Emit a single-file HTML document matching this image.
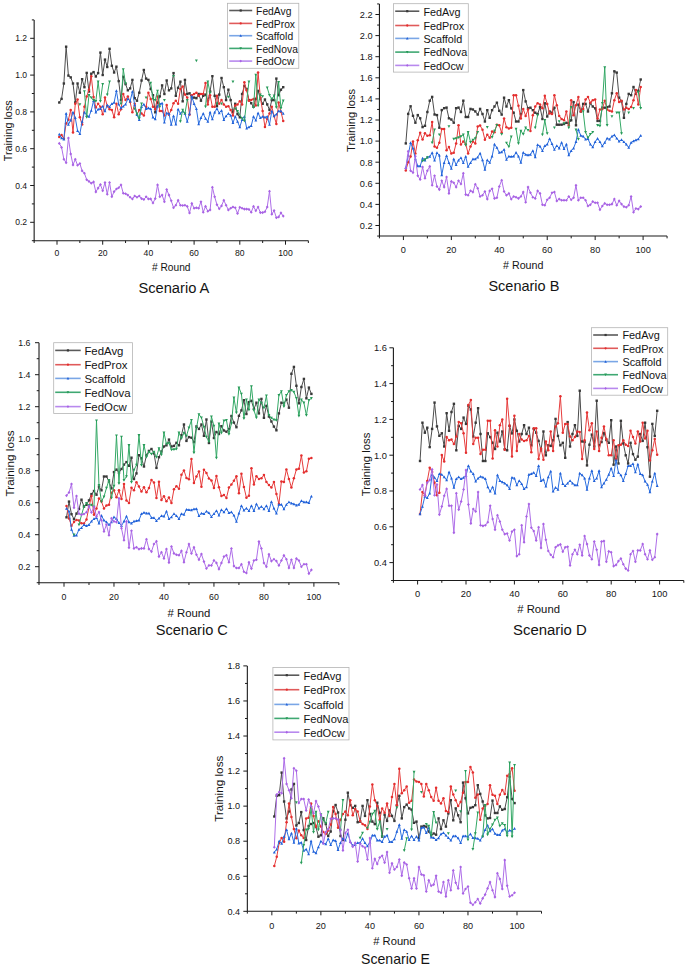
<!DOCTYPE html>
<html><head><meta charset="utf-8"><title>Training loss</title>
<style>html,body{margin:0;padding:0;background:#fff;}svg{display:block;}.bl{filter:blur(0.35px);}text{font-family:"Liberation Sans", sans-serif;fill:#141414;}</style>
</head><body>
<svg width="685" height="965" viewBox="0 0 685 965">
<rect width="685" height="965" fill="#fff"/>
<g id="pA">
<g class="bl">
<polyline points="59.28,102.5 61.57,98.9 63.86,83.5 66.14,46.7 68.42,75.6 70.71,77.4 73,83.5 75.28,102.5 77.56,83.5 79.85,92.7 82.14,79.2 84.42,87.2 86.7,72.9 88.99,91.5 91.28,73.7 93.56,72.1 95.84,76.5 98.13,73.1 100.42,52.6 102.7,75 104.98,59.6 107.27,67 109.56,48.8 111.84,65.8 114.12,72.5 116.41,66.7 118.7,81.1 120.98,100.1 123.27,76.8 125.55,84.1 127.84,90.3 130.12,88.4 132.41,79.9 134.69,98.2 136.98,100.7 139.26,92.7 141.55,80.5 143.83,70 146.12,78.6 148.4,79.9 150.69,89 152.97,95.2 155.25,112.3 157.54,102.5 159.82,96.4 162.11,85.4 164.4,94 166.68,80.5 168.97,90.3 171.25,88.4 173.54,73.1 175.82,95.8 178.11,87.8 180.39,81.7 182.68,101.3 184.96,79.9 187.25,94 189.53,93.3 191.81,98.2 194.1,97.6 196.39,98.2 198.67,94 200.96,100.7 203.24,95.8 205.53,94.6 207.81,101.3 210.09,91.5 212.38,76.2 214.67,95.8 216.95,106.2 219.24,94.6 221.52,78 223.81,87.2 226.09,100.1 228.38,89.7 230.66,100.1 232.95,112.3 235.23,103.8 237.52,114.2 239.8,117.3 242.09,94 244.37,86 246.66,89 248.94,100.1 251.23,103.2 253.51,106.8 255.8,98.9 258.08,90.9 260.37,98.9 262.65,103.8 264.94,99.5 267.22,104.4 269.5,109.9 271.79,100.1 274.08,100.1 276.36,78.6 278.64,95.2 280.93,89.7 283.22,87.2" fill="none" stroke="#4c4c4c" stroke-width="1.0" stroke-linejoin="round"/>
<rect x="58.08" y="101.3" width="2.4" height="2.4" fill="#383838"/>
<rect x="60.37" y="97.7" width="2.4" height="2.4" fill="#383838"/>
<rect x="62.66" y="82.3" width="2.4" height="2.4" fill="#383838"/>
<rect x="64.94" y="45.5" width="2.4" height="2.4" fill="#383838"/>
<rect x="67.22" y="74.4" width="2.4" height="2.4" fill="#383838"/>
<rect x="69.51" y="76.2" width="2.4" height="2.4" fill="#383838"/>
<rect x="71.8" y="82.3" width="2.4" height="2.4" fill="#383838"/>
<rect x="74.08" y="101.3" width="2.4" height="2.4" fill="#383838"/>
<rect x="76.36" y="82.3" width="2.4" height="2.4" fill="#383838"/>
<rect x="78.65" y="91.5" width="2.4" height="2.4" fill="#383838"/>
<rect x="80.94" y="78" width="2.4" height="2.4" fill="#383838"/>
<rect x="83.22" y="86" width="2.4" height="2.4" fill="#383838"/>
<rect x="85.5" y="71.7" width="2.4" height="2.4" fill="#383838"/>
<rect x="87.79" y="90.3" width="2.4" height="2.4" fill="#383838"/>
<rect x="90.08" y="72.5" width="2.4" height="2.4" fill="#383838"/>
<rect x="92.36" y="70.9" width="2.4" height="2.4" fill="#383838"/>
<rect x="94.64" y="75.3" width="2.4" height="2.4" fill="#383838"/>
<rect x="96.93" y="71.9" width="2.4" height="2.4" fill="#383838"/>
<rect x="99.22" y="51.4" width="2.4" height="2.4" fill="#383838"/>
<rect x="101.5" y="73.8" width="2.4" height="2.4" fill="#383838"/>
<rect x="103.78" y="58.4" width="2.4" height="2.4" fill="#383838"/>
<rect x="106.07" y="65.8" width="2.4" height="2.4" fill="#383838"/>
<rect x="108.36" y="47.6" width="2.4" height="2.4" fill="#383838"/>
<rect x="110.64" y="64.6" width="2.4" height="2.4" fill="#383838"/>
<rect x="112.92" y="71.3" width="2.4" height="2.4" fill="#383838"/>
<rect x="115.21" y="65.5" width="2.4" height="2.4" fill="#383838"/>
<rect x="117.5" y="79.9" width="2.4" height="2.4" fill="#383838"/>
<rect x="119.78" y="98.9" width="2.4" height="2.4" fill="#383838"/>
<rect x="122.06" y="75.6" width="2.4" height="2.4" fill="#383838"/>
<rect x="124.35" y="82.9" width="2.4" height="2.4" fill="#383838"/>
<rect x="126.64" y="89.1" width="2.4" height="2.4" fill="#383838"/>
<rect x="128.92" y="87.2" width="2.4" height="2.4" fill="#383838"/>
<rect x="131.21" y="78.7" width="2.4" height="2.4" fill="#383838"/>
<rect x="133.49" y="97" width="2.4" height="2.4" fill="#383838"/>
<rect x="135.78" y="99.5" width="2.4" height="2.4" fill="#383838"/>
<rect x="138.06" y="91.5" width="2.4" height="2.4" fill="#383838"/>
<rect x="140.35" y="79.3" width="2.4" height="2.4" fill="#383838"/>
<rect x="142.63" y="68.8" width="2.4" height="2.4" fill="#383838"/>
<rect x="144.92" y="77.4" width="2.4" height="2.4" fill="#383838"/>
<rect x="147.2" y="78.7" width="2.4" height="2.4" fill="#383838"/>
<rect x="149.49" y="87.8" width="2.4" height="2.4" fill="#383838"/>
<rect x="151.77" y="94" width="2.4" height="2.4" fill="#383838"/>
<rect x="154.06" y="111.1" width="2.4" height="2.4" fill="#383838"/>
<rect x="156.34" y="101.3" width="2.4" height="2.4" fill="#383838"/>
<rect x="158.62" y="95.2" width="2.4" height="2.4" fill="#383838"/>
<rect x="160.91" y="84.2" width="2.4" height="2.4" fill="#383838"/>
<rect x="163.2" y="92.8" width="2.4" height="2.4" fill="#383838"/>
<rect x="165.48" y="79.3" width="2.4" height="2.4" fill="#383838"/>
<rect x="167.77" y="89.1" width="2.4" height="2.4" fill="#383838"/>
<rect x="170.05" y="87.2" width="2.4" height="2.4" fill="#383838"/>
<rect x="172.34" y="71.9" width="2.4" height="2.4" fill="#383838"/>
<rect x="174.62" y="94.6" width="2.4" height="2.4" fill="#383838"/>
<rect x="176.91" y="86.6" width="2.4" height="2.4" fill="#383838"/>
<rect x="179.19" y="80.5" width="2.4" height="2.4" fill="#383838"/>
<rect x="181.48" y="100.1" width="2.4" height="2.4" fill="#383838"/>
<rect x="183.76" y="78.7" width="2.4" height="2.4" fill="#383838"/>
<rect x="186.05" y="92.8" width="2.4" height="2.4" fill="#383838"/>
<rect x="188.33" y="92.1" width="2.4" height="2.4" fill="#383838"/>
<rect x="190.62" y="97" width="2.4" height="2.4" fill="#383838"/>
<rect x="192.9" y="96.4" width="2.4" height="2.4" fill="#383838"/>
<rect x="195.19" y="97" width="2.4" height="2.4" fill="#383838"/>
<rect x="197.47" y="92.8" width="2.4" height="2.4" fill="#383838"/>
<rect x="199.76" y="99.5" width="2.4" height="2.4" fill="#383838"/>
<rect x="202.04" y="94.6" width="2.4" height="2.4" fill="#383838"/>
<rect x="204.33" y="93.4" width="2.4" height="2.4" fill="#383838"/>
<rect x="206.61" y="100.1" width="2.4" height="2.4" fill="#383838"/>
<rect x="208.9" y="90.3" width="2.4" height="2.4" fill="#383838"/>
<rect x="211.18" y="75" width="2.4" height="2.4" fill="#383838"/>
<rect x="213.47" y="94.6" width="2.4" height="2.4" fill="#383838"/>
<rect x="215.75" y="105" width="2.4" height="2.4" fill="#383838"/>
<rect x="218.04" y="93.4" width="2.4" height="2.4" fill="#383838"/>
<rect x="220.32" y="76.8" width="2.4" height="2.4" fill="#383838"/>
<rect x="222.61" y="86" width="2.4" height="2.4" fill="#383838"/>
<rect x="224.89" y="98.9" width="2.4" height="2.4" fill="#383838"/>
<rect x="227.18" y="88.5" width="2.4" height="2.4" fill="#383838"/>
<rect x="229.46" y="98.9" width="2.4" height="2.4" fill="#383838"/>
<rect x="231.75" y="111.1" width="2.4" height="2.4" fill="#383838"/>
<rect x="234.03" y="102.6" width="2.4" height="2.4" fill="#383838"/>
<rect x="236.32" y="113" width="2.4" height="2.4" fill="#383838"/>
<rect x="238.6" y="116.1" width="2.4" height="2.4" fill="#383838"/>
<rect x="240.89" y="92.8" width="2.4" height="2.4" fill="#383838"/>
<rect x="243.17" y="84.8" width="2.4" height="2.4" fill="#383838"/>
<rect x="245.46" y="87.8" width="2.4" height="2.4" fill="#383838"/>
<rect x="247.74" y="98.9" width="2.4" height="2.4" fill="#383838"/>
<rect x="250.03" y="102" width="2.4" height="2.4" fill="#383838"/>
<rect x="252.31" y="105.6" width="2.4" height="2.4" fill="#383838"/>
<rect x="254.6" y="97.7" width="2.4" height="2.4" fill="#383838"/>
<rect x="256.88" y="89.7" width="2.4" height="2.4" fill="#383838"/>
<rect x="259.17" y="97.7" width="2.4" height="2.4" fill="#383838"/>
<rect x="261.45" y="102.6" width="2.4" height="2.4" fill="#383838"/>
<rect x="263.74" y="98.3" width="2.4" height="2.4" fill="#383838"/>
<rect x="266.02" y="103.2" width="2.4" height="2.4" fill="#383838"/>
<rect x="268.31" y="108.7" width="2.4" height="2.4" fill="#383838"/>
<rect x="270.59" y="98.9" width="2.4" height="2.4" fill="#383838"/>
<rect x="272.88" y="98.9" width="2.4" height="2.4" fill="#383838"/>
<rect x="275.16" y="77.4" width="2.4" height="2.4" fill="#383838"/>
<rect x="277.44" y="94" width="2.4" height="2.4" fill="#383838"/>
<rect x="279.73" y="88.5" width="2.4" height="2.4" fill="#383838"/>
<rect x="282.02" y="86" width="2.4" height="2.4" fill="#383838"/>
<polyline points="59.28,136.9 61.57,135 63.86,138.7 66.14,123.4 68.42,119.7 70.71,109.9 73,132.6 75.28,103.8 77.56,99.5 79.85,117.3 82.14,124.6 84.42,106.8 86.7,96.4 88.99,89.7 91.28,76.2 93.56,97 95.84,107.4 98.13,103.8 100.42,106.8 102.7,114.2 104.98,97.6 107.27,106.2 109.56,109.3 111.84,109.9 114.12,117.3 116.41,103.8 118.7,114.2 120.98,109.3 123.27,94 125.55,100.1 127.84,96.4 130.12,101.9 132.41,112.3 134.69,103.8 136.98,114.8 139.26,109.9 141.55,113.6 143.83,115.4 146.12,106.8 148.4,92.7 150.69,98.9 152.97,106.8 155.25,109.3 157.54,96.4 159.82,111.1 162.11,111.1 164.4,115.4 166.68,105 168.97,114.8 171.25,109.9 173.54,103.2 175.82,100.7 178.11,103.8 180.39,89 182.68,86.6 184.96,94.6 187.25,97.6 189.53,114.8 191.81,95.2 194.1,94 196.39,92.7 198.67,95.8 200.96,94 203.24,94 205.53,82.9 207.81,104.4 210.09,95.2 212.38,106.8 214.67,106.8 216.95,95.8 219.24,103.8 221.52,100.1 223.81,104.4 226.09,106.8 228.38,106.2 230.66,109.9 232.95,115.4 235.23,105.6 237.52,104.4 239.8,101.3 242.09,104.4 244.37,82.3 246.66,90.3 248.94,100.7 251.23,100.1 253.51,98.9 255.8,105.6 258.08,72.5 260.37,97.6 262.65,111.1 264.94,127.1 267.22,119.1 269.5,113.6 271.79,106.8 274.08,116 276.36,124 278.64,102.5 280.93,111.7 283.22,120.9" fill="none" stroke="#e63c3c" stroke-width="1.0" stroke-linejoin="round"/>
<circle cx="59.28" cy="136.9" r="1.26" fill="#e42e2e"/>
<circle cx="61.57" cy="135" r="1.26" fill="#e42e2e"/>
<circle cx="63.86" cy="138.7" r="1.26" fill="#e42e2e"/>
<circle cx="66.14" cy="123.4" r="1.26" fill="#e42e2e"/>
<circle cx="68.42" cy="119.7" r="1.26" fill="#e42e2e"/>
<circle cx="70.71" cy="109.9" r="1.26" fill="#e42e2e"/>
<circle cx="73" cy="132.6" r="1.26" fill="#e42e2e"/>
<circle cx="75.28" cy="103.8" r="1.26" fill="#e42e2e"/>
<circle cx="77.56" cy="99.5" r="1.26" fill="#e42e2e"/>
<circle cx="79.85" cy="117.3" r="1.26" fill="#e42e2e"/>
<circle cx="82.14" cy="124.6" r="1.26" fill="#e42e2e"/>
<circle cx="84.42" cy="106.8" r="1.26" fill="#e42e2e"/>
<circle cx="86.7" cy="96.4" r="1.26" fill="#e42e2e"/>
<circle cx="88.99" cy="89.7" r="1.26" fill="#e42e2e"/>
<circle cx="91.28" cy="76.2" r="1.26" fill="#e42e2e"/>
<circle cx="93.56" cy="97" r="1.26" fill="#e42e2e"/>
<circle cx="95.84" cy="107.4" r="1.26" fill="#e42e2e"/>
<circle cx="98.13" cy="103.8" r="1.26" fill="#e42e2e"/>
<circle cx="100.42" cy="106.8" r="1.26" fill="#e42e2e"/>
<circle cx="102.7" cy="114.2" r="1.26" fill="#e42e2e"/>
<circle cx="104.98" cy="97.6" r="1.26" fill="#e42e2e"/>
<circle cx="107.27" cy="106.2" r="1.26" fill="#e42e2e"/>
<circle cx="109.56" cy="109.3" r="1.26" fill="#e42e2e"/>
<circle cx="111.84" cy="109.9" r="1.26" fill="#e42e2e"/>
<circle cx="114.12" cy="117.3" r="1.26" fill="#e42e2e"/>
<circle cx="116.41" cy="103.8" r="1.26" fill="#e42e2e"/>
<circle cx="118.7" cy="114.2" r="1.26" fill="#e42e2e"/>
<circle cx="120.98" cy="109.3" r="1.26" fill="#e42e2e"/>
<circle cx="123.27" cy="94" r="1.26" fill="#e42e2e"/>
<circle cx="125.55" cy="100.1" r="1.26" fill="#e42e2e"/>
<circle cx="127.84" cy="96.4" r="1.26" fill="#e42e2e"/>
<circle cx="130.12" cy="101.9" r="1.26" fill="#e42e2e"/>
<circle cx="132.41" cy="112.3" r="1.26" fill="#e42e2e"/>
<circle cx="134.69" cy="103.8" r="1.26" fill="#e42e2e"/>
<circle cx="136.98" cy="114.8" r="1.26" fill="#e42e2e"/>
<circle cx="139.26" cy="109.9" r="1.26" fill="#e42e2e"/>
<circle cx="141.55" cy="113.6" r="1.26" fill="#e42e2e"/>
<circle cx="143.83" cy="115.4" r="1.26" fill="#e42e2e"/>
<circle cx="146.12" cy="106.8" r="1.26" fill="#e42e2e"/>
<circle cx="148.4" cy="92.7" r="1.26" fill="#e42e2e"/>
<circle cx="150.69" cy="98.9" r="1.26" fill="#e42e2e"/>
<circle cx="152.97" cy="106.8" r="1.26" fill="#e42e2e"/>
<circle cx="155.25" cy="109.3" r="1.26" fill="#e42e2e"/>
<circle cx="157.54" cy="96.4" r="1.26" fill="#e42e2e"/>
<circle cx="159.82" cy="111.1" r="1.26" fill="#e42e2e"/>
<circle cx="162.11" cy="111.1" r="1.26" fill="#e42e2e"/>
<circle cx="164.4" cy="115.4" r="1.26" fill="#e42e2e"/>
<circle cx="166.68" cy="105" r="1.26" fill="#e42e2e"/>
<circle cx="168.97" cy="114.8" r="1.26" fill="#e42e2e"/>
<circle cx="171.25" cy="109.9" r="1.26" fill="#e42e2e"/>
<circle cx="173.54" cy="103.2" r="1.26" fill="#e42e2e"/>
<circle cx="175.82" cy="100.7" r="1.26" fill="#e42e2e"/>
<circle cx="178.11" cy="103.8" r="1.26" fill="#e42e2e"/>
<circle cx="180.39" cy="89" r="1.26" fill="#e42e2e"/>
<circle cx="182.68" cy="86.6" r="1.26" fill="#e42e2e"/>
<circle cx="184.96" cy="94.6" r="1.26" fill="#e42e2e"/>
<circle cx="187.25" cy="97.6" r="1.26" fill="#e42e2e"/>
<circle cx="189.53" cy="114.8" r="1.26" fill="#e42e2e"/>
<circle cx="191.81" cy="95.2" r="1.26" fill="#e42e2e"/>
<circle cx="194.1" cy="94" r="1.26" fill="#e42e2e"/>
<circle cx="196.39" cy="92.7" r="1.26" fill="#e42e2e"/>
<circle cx="198.67" cy="95.8" r="1.26" fill="#e42e2e"/>
<circle cx="200.96" cy="94" r="1.26" fill="#e42e2e"/>
<circle cx="203.24" cy="94" r="1.26" fill="#e42e2e"/>
<circle cx="205.53" cy="82.9" r="1.26" fill="#e42e2e"/>
<circle cx="207.81" cy="104.4" r="1.26" fill="#e42e2e"/>
<circle cx="210.09" cy="95.2" r="1.26" fill="#e42e2e"/>
<circle cx="212.38" cy="106.8" r="1.26" fill="#e42e2e"/>
<circle cx="214.67" cy="106.8" r="1.26" fill="#e42e2e"/>
<circle cx="216.95" cy="95.8" r="1.26" fill="#e42e2e"/>
<circle cx="219.24" cy="103.8" r="1.26" fill="#e42e2e"/>
<circle cx="221.52" cy="100.1" r="1.26" fill="#e42e2e"/>
<circle cx="223.81" cy="104.4" r="1.26" fill="#e42e2e"/>
<circle cx="226.09" cy="106.8" r="1.26" fill="#e42e2e"/>
<circle cx="228.38" cy="106.2" r="1.26" fill="#e42e2e"/>
<circle cx="230.66" cy="109.9" r="1.26" fill="#e42e2e"/>
<circle cx="232.95" cy="115.4" r="1.26" fill="#e42e2e"/>
<circle cx="235.23" cy="105.6" r="1.26" fill="#e42e2e"/>
<circle cx="237.52" cy="104.4" r="1.26" fill="#e42e2e"/>
<circle cx="239.8" cy="101.3" r="1.26" fill="#e42e2e"/>
<circle cx="242.09" cy="104.4" r="1.26" fill="#e42e2e"/>
<circle cx="244.37" cy="82.3" r="1.26" fill="#e42e2e"/>
<circle cx="246.66" cy="90.3" r="1.26" fill="#e42e2e"/>
<circle cx="248.94" cy="100.7" r="1.26" fill="#e42e2e"/>
<circle cx="251.23" cy="100.1" r="1.26" fill="#e42e2e"/>
<circle cx="253.51" cy="98.9" r="1.26" fill="#e42e2e"/>
<circle cx="255.8" cy="105.6" r="1.26" fill="#e42e2e"/>
<circle cx="258.08" cy="72.5" r="1.26" fill="#e42e2e"/>
<circle cx="260.37" cy="97.6" r="1.26" fill="#e42e2e"/>
<circle cx="262.65" cy="111.1" r="1.26" fill="#e42e2e"/>
<circle cx="264.94" cy="127.1" r="1.26" fill="#e42e2e"/>
<circle cx="267.22" cy="119.1" r="1.26" fill="#e42e2e"/>
<circle cx="269.5" cy="113.6" r="1.26" fill="#e42e2e"/>
<circle cx="271.79" cy="106.8" r="1.26" fill="#e42e2e"/>
<circle cx="274.08" cy="116" r="1.26" fill="#e42e2e"/>
<circle cx="276.36" cy="124" r="1.26" fill="#e42e2e"/>
<circle cx="278.64" cy="102.5" r="1.26" fill="#e42e2e"/>
<circle cx="280.93" cy="111.7" r="1.26" fill="#e42e2e"/>
<circle cx="283.22" cy="120.9" r="1.26" fill="#e42e2e"/>
<polyline points="59.28,134.4 61.57,138.1 63.86,139.3 66.14,113.6 68.42,124.6 70.71,120.3 73,112.3 75.28,117.9 77.56,130.7 79.85,133.8 82.14,121.5 84.42,112.3 86.7,115.4 88.99,116.6 91.28,110.5 93.56,100.7 95.84,112.3 98.13,109.3 100.42,108.7 102.7,106.2 104.98,111.1 107.27,105 109.56,106.8 111.84,103.8 114.12,102.5 116.41,90.9 118.7,104.4 120.98,108.1 123.27,106.2 125.55,104.4 127.84,98.9 130.12,101.3 132.41,91.5 134.69,105 136.98,114.8 139.26,119.7 141.55,106.8 143.83,104.4 146.12,108.7 148.4,108.1 150.69,108.7 152.97,117.3 155.25,119.1 157.54,106.2 159.82,103.8 162.11,103.2 164.4,122.2 166.68,113 168.97,113.6 171.25,124.6 173.54,116 175.82,124.4 178.11,109.3 180.39,113.6 182.68,111.1 184.96,113.6 187.25,121.5 189.53,113.6 191.81,96.4 194.1,103.8 196.39,108.7 198.67,124 200.96,117.9 203.24,113.6 205.53,118.5 207.81,121.5 210.09,112.3 212.38,119.1 214.67,112.3 216.95,108.7 219.24,113 221.52,110.5 223.81,119.7 226.09,116 228.38,113.6 230.66,115.4 232.95,122.8 235.23,116.6 237.52,121.5 239.8,127.1 242.09,119.7 244.37,116.6 246.66,128.3 248.94,127.1 251.23,125.8 253.51,116.6 255.8,120.3 258.08,113 260.37,117.9 262.65,116.6 264.94,117.3 267.22,116.6 269.5,124.6 271.79,111.1 274.08,116 276.36,114.2 278.64,111.1 280.93,111.1 283.22,113.6" fill="none" stroke="#2b6fe0" stroke-width="1.0" stroke-linejoin="round"/>
<path d="M59.28 132.84L60.72 135.6L57.84 135.6Z" fill="#2060d8"/>
<path d="M61.57 136.54L63.01 139.3L60.13 139.3Z" fill="#2060d8"/>
<path d="M63.86 137.74L65.3 140.5L62.42 140.5Z" fill="#2060d8"/>
<path d="M66.14 112.04L67.58 114.8L64.7 114.8Z" fill="#2060d8"/>
<path d="M68.42 123.04L69.86 125.8L66.98 125.8Z" fill="#2060d8"/>
<path d="M70.71 118.74L72.15 121.5L69.27 121.5Z" fill="#2060d8"/>
<path d="M73 110.74L74.44 113.5L71.56 113.5Z" fill="#2060d8"/>
<path d="M75.28 116.34L76.72 119.1L73.84 119.1Z" fill="#2060d8"/>
<path d="M77.56 129.14L79 131.9L76.12 131.9Z" fill="#2060d8"/>
<path d="M79.85 132.24L81.29 135L78.41 135Z" fill="#2060d8"/>
<path d="M82.14 119.94L83.58 122.7L80.7 122.7Z" fill="#2060d8"/>
<path d="M84.42 110.74L85.86 113.5L82.98 113.5Z" fill="#2060d8"/>
<path d="M86.7 113.84L88.14 116.6L85.27 116.6Z" fill="#2060d8"/>
<path d="M88.99 115.04L90.43 117.8L87.55 117.8Z" fill="#2060d8"/>
<path d="M91.28 108.94L92.72 111.7L89.84 111.7Z" fill="#2060d8"/>
<path d="M93.56 99.14L95 101.9L92.12 101.9Z" fill="#2060d8"/>
<path d="M95.84 110.74L97.28 113.5L94.41 113.5Z" fill="#2060d8"/>
<path d="M98.13 107.74L99.57 110.5L96.69 110.5Z" fill="#2060d8"/>
<path d="M100.42 107.14L101.86 109.9L98.98 109.9Z" fill="#2060d8"/>
<path d="M102.7 104.64L104.14 107.4L101.26 107.4Z" fill="#2060d8"/>
<path d="M104.98 109.54L106.42 112.3L103.55 112.3Z" fill="#2060d8"/>
<path d="M107.27 103.44L108.71 106.2L105.83 106.2Z" fill="#2060d8"/>
<path d="M109.56 105.24L111 108L108.12 108Z" fill="#2060d8"/>
<path d="M111.84 102.24L113.28 105L110.4 105Z" fill="#2060d8"/>
<path d="M114.12 100.94L115.56 103.7L112.69 103.7Z" fill="#2060d8"/>
<path d="M116.41 89.34L117.85 92.1L114.97 92.1Z" fill="#2060d8"/>
<path d="M118.7 102.84L120.14 105.6L117.26 105.6Z" fill="#2060d8"/>
<path d="M120.98 106.54L122.42 109.3L119.54 109.3Z" fill="#2060d8"/>
<path d="M123.27 104.64L124.7 107.4L121.83 107.4Z" fill="#2060d8"/>
<path d="M125.55 102.84L126.99 105.6L124.11 105.6Z" fill="#2060d8"/>
<path d="M127.84 97.34L129.28 100.1L126.4 100.1Z" fill="#2060d8"/>
<path d="M130.12 99.74L131.56 102.5L128.68 102.5Z" fill="#2060d8"/>
<path d="M132.41 89.94L133.84 92.7L130.97 92.7Z" fill="#2060d8"/>
<path d="M134.69 103.44L136.13 106.2L133.25 106.2Z" fill="#2060d8"/>
<path d="M136.98 113.24L138.42 116L135.54 116Z" fill="#2060d8"/>
<path d="M139.26 118.14L140.7 120.9L137.82 120.9Z" fill="#2060d8"/>
<path d="M141.55 105.24L142.99 108L140.11 108Z" fill="#2060d8"/>
<path d="M143.83 102.84L145.27 105.6L142.39 105.6Z" fill="#2060d8"/>
<path d="M146.12 107.14L147.56 109.9L144.68 109.9Z" fill="#2060d8"/>
<path d="M148.4 106.54L149.84 109.3L146.96 109.3Z" fill="#2060d8"/>
<path d="M150.69 107.14L152.12 109.9L149.25 109.9Z" fill="#2060d8"/>
<path d="M152.97 115.74L154.41 118.5L151.53 118.5Z" fill="#2060d8"/>
<path d="M155.25 117.54L156.69 120.3L153.81 120.3Z" fill="#2060d8"/>
<path d="M157.54 104.64L158.98 107.4L156.1 107.4Z" fill="#2060d8"/>
<path d="M159.82 102.24L161.26 105L158.38 105Z" fill="#2060d8"/>
<path d="M162.11 101.64L163.55 104.4L160.67 104.4Z" fill="#2060d8"/>
<path d="M164.4 120.64L165.84 123.4L162.96 123.4Z" fill="#2060d8"/>
<path d="M166.68 111.44L168.12 114.2L165.24 114.2Z" fill="#2060d8"/>
<path d="M168.97 112.04L170.41 114.8L167.53 114.8Z" fill="#2060d8"/>
<path d="M171.25 123.04L172.69 125.8L169.81 125.8Z" fill="#2060d8"/>
<path d="M173.54 114.44L174.98 117.2L172.1 117.2Z" fill="#2060d8"/>
<path d="M175.82 122.84L177.26 125.6L174.38 125.6Z" fill="#2060d8"/>
<path d="M178.11 107.74L179.55 110.5L176.67 110.5Z" fill="#2060d8"/>
<path d="M180.39 112.04L181.83 114.8L178.95 114.8Z" fill="#2060d8"/>
<path d="M182.68 109.54L184.12 112.3L181.24 112.3Z" fill="#2060d8"/>
<path d="M184.96 112.04L186.4 114.8L183.52 114.8Z" fill="#2060d8"/>
<path d="M187.25 119.94L188.69 122.7L185.81 122.7Z" fill="#2060d8"/>
<path d="M189.53 112.04L190.97 114.8L188.09 114.8Z" fill="#2060d8"/>
<path d="M191.81 94.84L193.25 97.6L190.38 97.6Z" fill="#2060d8"/>
<path d="M194.1 102.24L195.54 105L192.66 105Z" fill="#2060d8"/>
<path d="M196.39 107.14L197.83 109.9L194.95 109.9Z" fill="#2060d8"/>
<path d="M198.67 122.44L200.11 125.2L197.23 125.2Z" fill="#2060d8"/>
<path d="M200.96 116.34L202.4 119.1L199.52 119.1Z" fill="#2060d8"/>
<path d="M203.24 112.04L204.68 114.8L201.8 114.8Z" fill="#2060d8"/>
<path d="M205.53 116.94L206.97 119.7L204.09 119.7Z" fill="#2060d8"/>
<path d="M207.81 119.94L209.25 122.7L206.37 122.7Z" fill="#2060d8"/>
<path d="M210.09 110.74L211.53 113.5L208.66 113.5Z" fill="#2060d8"/>
<path d="M212.38 117.54L213.82 120.3L210.94 120.3Z" fill="#2060d8"/>
<path d="M214.67 110.74L216.11 113.5L213.23 113.5Z" fill="#2060d8"/>
<path d="M216.95 107.14L218.39 109.9L215.51 109.9Z" fill="#2060d8"/>
<path d="M219.24 111.44L220.68 114.2L217.8 114.2Z" fill="#2060d8"/>
<path d="M221.52 108.94L222.96 111.7L220.08 111.7Z" fill="#2060d8"/>
<path d="M223.81 118.14L225.25 120.9L222.37 120.9Z" fill="#2060d8"/>
<path d="M226.09 114.44L227.53 117.2L224.65 117.2Z" fill="#2060d8"/>
<path d="M228.38 112.04L229.81 114.8L226.94 114.8Z" fill="#2060d8"/>
<path d="M230.66 113.84L232.1 116.6L229.22 116.6Z" fill="#2060d8"/>
<path d="M232.95 121.24L234.39 124L231.51 124Z" fill="#2060d8"/>
<path d="M235.23 115.04L236.67 117.8L233.79 117.8Z" fill="#2060d8"/>
<path d="M237.52 119.94L238.96 122.7L236.08 122.7Z" fill="#2060d8"/>
<path d="M239.8 125.54L241.24 128.3L238.36 128.3Z" fill="#2060d8"/>
<path d="M242.09 118.14L243.53 120.9L240.65 120.9Z" fill="#2060d8"/>
<path d="M244.37 115.04L245.81 117.8L242.93 117.8Z" fill="#2060d8"/>
<path d="M246.66 126.74L248.09 129.5L245.22 129.5Z" fill="#2060d8"/>
<path d="M248.94 125.54L250.38 128.3L247.5 128.3Z" fill="#2060d8"/>
<path d="M251.23 124.24L252.67 127L249.79 127Z" fill="#2060d8"/>
<path d="M253.51 115.04L254.95 117.8L252.07 117.8Z" fill="#2060d8"/>
<path d="M255.8 118.74L257.24 121.5L254.36 121.5Z" fill="#2060d8"/>
<path d="M258.08 111.44L259.52 114.2L256.64 114.2Z" fill="#2060d8"/>
<path d="M260.37 116.34L261.81 119.1L258.93 119.1Z" fill="#2060d8"/>
<path d="M262.65 115.04L264.09 117.8L261.21 117.8Z" fill="#2060d8"/>
<path d="M264.94 115.74L266.38 118.5L263.5 118.5Z" fill="#2060d8"/>
<path d="M267.22 115.04L268.66 117.8L265.78 117.8Z" fill="#2060d8"/>
<path d="M269.5 123.04L270.94 125.8L268.06 125.8Z" fill="#2060d8"/>
<path d="M271.79 109.54L273.23 112.3L270.35 112.3Z" fill="#2060d8"/>
<path d="M274.08 114.44L275.52 117.2L272.64 117.2Z" fill="#2060d8"/>
<path d="M276.36 112.64L277.8 115.4L274.92 115.4Z" fill="#2060d8"/>
<path d="M278.64 109.54L280.08 112.3L277.2 112.3Z" fill="#2060d8"/>
<path d="M280.93 109.54L282.37 112.3L279.49 112.3Z" fill="#2060d8"/>
<path d="M283.22 112.04L284.66 114.8L281.78 114.8Z" fill="#2060d8"/>
<path d="M79.85 105.96L81.29 103.2L78.41 103.2Z" fill="#279a58"/>
<polyline points="84.42,91.5 86.7,117.3 88.99,95.2 91.28,97.6 93.56,100.1 95.84,101.3 98.13,81.7 100.42,101.3 102.7,84.1" fill="none" stroke="#33a865" stroke-width="1.0" stroke-linejoin="round"/>
<path d="M84.42 93.06L85.86 90.3L82.98 90.3Z" fill="#279a58"/>
<path d="M86.7 118.86L88.14 116.1L85.27 116.1Z" fill="#279a58"/>
<path d="M88.99 96.76L90.43 94L87.55 94Z" fill="#279a58"/>
<path d="M91.28 99.16L92.72 96.4L89.84 96.4Z" fill="#279a58"/>
<path d="M93.56 101.66L95 98.9L92.12 98.9Z" fill="#279a58"/>
<path d="M95.84 102.86L97.28 100.1L94.41 100.1Z" fill="#279a58"/>
<path d="M98.13 83.26L99.57 80.5L96.69 80.5Z" fill="#279a58"/>
<path d="M100.42 102.86L101.86 100.1L98.98 100.1Z" fill="#279a58"/>
<path d="M102.7 85.66L104.14 82.9L101.26 82.9Z" fill="#279a58"/>
<polyline points="107.27,94.6 109.56,81.7" fill="none" stroke="#33a865" stroke-width="1.0" stroke-linejoin="round"/>
<path d="M107.27 96.16L108.71 93.4L105.83 93.4Z" fill="#279a58"/>
<path d="M109.56 83.26L111 80.5L108.12 80.5Z" fill="#279a58"/>
<polyline points="120.98,103.8 123.27,69.4 125.55,83.5" fill="none" stroke="#33a865" stroke-width="1.0" stroke-linejoin="round"/>
<path d="M120.98 105.36L122.42 102.6L119.54 102.6Z" fill="#279a58"/>
<path d="M123.27 70.96L124.7 68.2L121.83 68.2Z" fill="#279a58"/>
<path d="M125.55 85.06L126.99 82.3L124.11 82.3Z" fill="#279a58"/>
<polyline points="134.69,108.7 136.98,113.6 139.26,118.5 141.55,103.8" fill="none" stroke="#33a865" stroke-width="1.0" stroke-linejoin="round"/>
<path d="M134.69 110.26L136.13 107.5L133.25 107.5Z" fill="#279a58"/>
<path d="M136.98 115.16L138.42 112.4L135.54 112.4Z" fill="#279a58"/>
<path d="M139.26 120.06L140.7 117.3L137.82 117.3Z" fill="#279a58"/>
<path d="M141.55 105.36L142.99 102.6L140.11 102.6Z" fill="#279a58"/>
<path d="M146.12 99.16L147.56 96.4L144.68 96.4Z" fill="#279a58"/>
<polyline points="150.69,82.9 152.97,98.9 155.25,100.1 157.54,90.9 159.82,106.8" fill="none" stroke="#33a865" stroke-width="1.0" stroke-linejoin="round"/>
<path d="M150.69 84.46L152.12 81.7L149.25 81.7Z" fill="#279a58"/>
<path d="M152.97 100.46L154.41 97.7L151.53 97.7Z" fill="#279a58"/>
<path d="M155.25 101.66L156.69 98.9L153.81 98.9Z" fill="#279a58"/>
<path d="M157.54 92.46L158.98 89.7L156.1 89.7Z" fill="#279a58"/>
<path d="M159.82 108.36L161.26 105.6L158.38 105.6Z" fill="#279a58"/>
<path d="M164.4 101.66L165.84 98.9L162.96 98.9Z" fill="#279a58"/>
<path d="M173.54 77.76L174.98 75L172.1 75Z" fill="#279a58"/>
<polyline points="180.39,121.5 182.68,109.9 184.96,113.6 187.25,100.1" fill="none" stroke="#33a865" stroke-width="1.0" stroke-linejoin="round"/>
<path d="M180.39 123.06L181.83 120.3L178.95 120.3Z" fill="#279a58"/>
<path d="M182.68 111.46L184.12 108.7L181.24 108.7Z" fill="#279a58"/>
<path d="M184.96 115.16L186.4 112.4L183.52 112.4Z" fill="#279a58"/>
<path d="M187.25 101.66L188.69 98.9L185.81 98.9Z" fill="#279a58"/>
<path d="M196.39 62.36L197.83 59.6L194.95 59.6Z" fill="#279a58"/>
<polyline points="205.53,106.8 207.81,81.7 210.09,92.7" fill="none" stroke="#33a865" stroke-width="1.0" stroke-linejoin="round"/>
<path d="M205.53 108.36L206.97 105.6L204.09 105.6Z" fill="#279a58"/>
<path d="M207.81 83.26L209.25 80.5L206.37 80.5Z" fill="#279a58"/>
<path d="M210.09 94.26L211.53 91.5L208.66 91.5Z" fill="#279a58"/>
<path d="M216.95 105.36L218.39 102.6L215.51 102.6Z" fill="#279a58"/>
<path d="M221.52 105.36L222.96 102.6L220.08 102.6Z" fill="#279a58"/>
<path d="M228.38 98.56L229.81 95.8L226.94 95.8Z" fill="#279a58"/>
<path d="M232.95 83.26L234.39 80.5L231.51 80.5Z" fill="#279a58"/>
<polyline points="235.23,108.7 237.52,111.1 242.09,118.5 244.37,120.9 248.94,81.7" fill="none" stroke="#33a865" stroke-width="1.0" stroke-linejoin="round"/>
<path d="M235.23 110.26L236.67 107.5L233.79 107.5Z" fill="#279a58"/>
<path d="M237.52 112.66L238.96 109.9L236.08 109.9Z" fill="#279a58"/>
<path d="M242.09 120.06L243.53 117.3L240.65 117.3Z" fill="#279a58"/>
<path d="M244.37 122.46L245.81 119.7L242.93 119.7Z" fill="#279a58"/>
<path d="M248.94 83.26L250.38 80.5L247.5 80.5Z" fill="#279a58"/>
<polyline points="253.51,107.4 255.8,75 258.08,105.6 260.37,94.6 262.65,96.4" fill="none" stroke="#33a865" stroke-width="1.0" stroke-linejoin="round"/>
<path d="M253.51 108.96L254.95 106.2L252.07 106.2Z" fill="#279a58"/>
<path d="M255.8 76.56L257.24 73.8L254.36 73.8Z" fill="#279a58"/>
<path d="M258.08 107.16L259.52 104.4L256.64 104.4Z" fill="#279a58"/>
<path d="M260.37 96.16L261.81 93.4L258.93 93.4Z" fill="#279a58"/>
<path d="M262.65 97.96L264.09 95.2L261.21 95.2Z" fill="#279a58"/>
<polyline points="267.22,87.8 269.5,95.2 271.79,98.9 274.08,95.8 276.36,107.4 278.64,82.3 280.93,108.1 283.22,100.7" fill="none" stroke="#33a865" stroke-width="1.0" stroke-linejoin="round"/>
<path d="M267.22 89.36L268.66 86.6L265.78 86.6Z" fill="#279a58"/>
<path d="M269.5 96.76L270.94 94L268.06 94Z" fill="#279a58"/>
<path d="M271.79 100.46L273.23 97.7L270.35 97.7Z" fill="#279a58"/>
<path d="M274.08 97.36L275.52 94.6L272.64 94.6Z" fill="#279a58"/>
<path d="M276.36 108.96L277.8 106.2L274.92 106.2Z" fill="#279a58"/>
<path d="M278.64 83.86L280.08 81.1L277.2 81.1Z" fill="#279a58"/>
<path d="M280.93 109.66L282.37 106.9L279.49 106.9Z" fill="#279a58"/>
<path d="M283.22 102.26L284.66 99.5L281.78 99.5Z" fill="#279a58"/>
<polyline points="59.28,143.4 61.57,147.4 63.86,159.2 66.14,162.7 68.42,138.1 70.71,153.9 73,164.9 75.28,159.2 77.56,165.3 79.85,163.5 82.14,170.9 84.42,173.2 86.7,179.7 88.99,181.4 91.28,183.2 93.56,181.9 95.84,191.9 98.13,188.1 100.42,184.6 102.7,190.7 104.98,182.5 107.27,194.2 109.56,182.5 111.84,196.8 114.12,191.6 116.41,189 118.7,187.7 120.98,184.9 123.27,193.3 125.55,193.7 127.84,195.1 130.12,197.2 132.41,198.9 134.69,196 136.98,197.2 139.26,196 141.55,198.6 143.83,199.5 146.12,196.8 148.4,198.9 150.69,198.9 152.97,203 155.25,198.6 157.54,184.9 159.82,196.8 162.11,195.1 164.4,201.7 166.68,189.5 168.97,195.1 171.25,200.8 173.54,207.7 175.82,205.2 178.11,200.3 180.39,205.2 182.68,205.5 184.96,205.2 187.25,206.4 189.53,212.9 191.81,203.4 194.1,208.2 196.39,207.7 198.67,208.2 200.96,201.7 203.24,212.2 205.53,206.4 207.81,211.2 210.09,209.9 212.38,187.2 214.67,196.8 216.95,204.7 219.24,208.7 221.52,205.9 223.81,200.3 226.09,205.2 228.38,209.9 230.66,208.2 232.95,207 235.23,207.7 237.52,213.4 239.8,207.3 242.09,208.2 244.37,209.1 246.66,209.1 248.94,209.4 251.23,212.2 253.51,206.4 255.8,210.8 258.08,207 260.37,212.6 262.65,212.6 264.94,211.7 267.22,207 269.5,191.2 271.79,214.3 274.08,210.5 276.36,217.8 278.64,216.9 280.93,212.9 283.22,216.1" fill="none" stroke="#ae6ee8" stroke-width="1.0" stroke-linejoin="round"/>
<path d="M59.28 141.84L60.72 143.4L59.28 144.96L57.84 143.4Z" fill="#a862e4"/>
<path d="M61.57 145.84L63.01 147.4L61.57 148.96L60.13 147.4Z" fill="#a862e4"/>
<path d="M63.86 157.64L65.3 159.2L63.86 160.76L62.42 159.2Z" fill="#a862e4"/>
<path d="M66.14 161.14L67.58 162.7L66.14 164.26L64.7 162.7Z" fill="#a862e4"/>
<path d="M68.42 136.54L69.86 138.1L68.42 139.66L66.98 138.1Z" fill="#a862e4"/>
<path d="M70.71 152.34L72.15 153.9L70.71 155.46L69.27 153.9Z" fill="#a862e4"/>
<path d="M73 163.34L74.44 164.9L73 166.46L71.56 164.9Z" fill="#a862e4"/>
<path d="M75.28 157.64L76.72 159.2L75.28 160.76L73.84 159.2Z" fill="#a862e4"/>
<path d="M77.56 163.74L79 165.3L77.56 166.86L76.12 165.3Z" fill="#a862e4"/>
<path d="M79.85 161.94L81.29 163.5L79.85 165.06L78.41 163.5Z" fill="#a862e4"/>
<path d="M82.14 169.34L83.58 170.9L82.14 172.46L80.7 170.9Z" fill="#a862e4"/>
<path d="M84.42 171.64L85.86 173.2L84.42 174.76L82.98 173.2Z" fill="#a862e4"/>
<path d="M86.7 178.14L88.14 179.7L86.7 181.26L85.27 179.7Z" fill="#a862e4"/>
<path d="M88.99 179.84L90.43 181.4L88.99 182.96L87.55 181.4Z" fill="#a862e4"/>
<path d="M91.28 181.64L92.72 183.2L91.28 184.76L89.84 183.2Z" fill="#a862e4"/>
<path d="M93.56 180.34L95 181.9L93.56 183.46L92.12 181.9Z" fill="#a862e4"/>
<path d="M95.84 190.34L97.28 191.9L95.84 193.46L94.41 191.9Z" fill="#a862e4"/>
<path d="M98.13 186.54L99.57 188.1L98.13 189.66L96.69 188.1Z" fill="#a862e4"/>
<path d="M100.42 183.04L101.86 184.6L100.42 186.16L98.98 184.6Z" fill="#a862e4"/>
<path d="M102.7 189.14L104.14 190.7L102.7 192.26L101.26 190.7Z" fill="#a862e4"/>
<path d="M104.98 180.94L106.42 182.5L104.98 184.06L103.55 182.5Z" fill="#a862e4"/>
<path d="M107.27 192.64L108.71 194.2L107.27 195.76L105.83 194.2Z" fill="#a862e4"/>
<path d="M109.56 180.94L111 182.5L109.56 184.06L108.12 182.5Z" fill="#a862e4"/>
<path d="M111.84 195.24L113.28 196.8L111.84 198.36L110.4 196.8Z" fill="#a862e4"/>
<path d="M114.12 190.04L115.56 191.6L114.12 193.16L112.69 191.6Z" fill="#a862e4"/>
<path d="M116.41 187.44L117.85 189L116.41 190.56L114.97 189Z" fill="#a862e4"/>
<path d="M118.7 186.14L120.14 187.7L118.7 189.26L117.26 187.7Z" fill="#a862e4"/>
<path d="M120.98 183.34L122.42 184.9L120.98 186.46L119.54 184.9Z" fill="#a862e4"/>
<path d="M123.27 191.74L124.7 193.3L123.27 194.86L121.83 193.3Z" fill="#a862e4"/>
<path d="M125.55 192.14L126.99 193.7L125.55 195.26L124.11 193.7Z" fill="#a862e4"/>
<path d="M127.84 193.54L129.28 195.1L127.84 196.66L126.4 195.1Z" fill="#a862e4"/>
<path d="M130.12 195.64L131.56 197.2L130.12 198.76L128.68 197.2Z" fill="#a862e4"/>
<path d="M132.41 197.34L133.84 198.9L132.41 200.46L130.97 198.9Z" fill="#a862e4"/>
<path d="M134.69 194.44L136.13 196L134.69 197.56L133.25 196Z" fill="#a862e4"/>
<path d="M136.98 195.64L138.42 197.2L136.98 198.76L135.54 197.2Z" fill="#a862e4"/>
<path d="M139.26 194.44L140.7 196L139.26 197.56L137.82 196Z" fill="#a862e4"/>
<path d="M141.55 197.04L142.99 198.6L141.55 200.16L140.11 198.6Z" fill="#a862e4"/>
<path d="M143.83 197.94L145.27 199.5L143.83 201.06L142.39 199.5Z" fill="#a862e4"/>
<path d="M146.12 195.24L147.56 196.8L146.12 198.36L144.68 196.8Z" fill="#a862e4"/>
<path d="M148.4 197.34L149.84 198.9L148.4 200.46L146.96 198.9Z" fill="#a862e4"/>
<path d="M150.69 197.34L152.12 198.9L150.69 200.46L149.25 198.9Z" fill="#a862e4"/>
<path d="M152.97 201.44L154.41 203L152.97 204.56L151.53 203Z" fill="#a862e4"/>
<path d="M155.25 197.04L156.69 198.6L155.25 200.16L153.81 198.6Z" fill="#a862e4"/>
<path d="M157.54 183.34L158.98 184.9L157.54 186.46L156.1 184.9Z" fill="#a862e4"/>
<path d="M159.82 195.24L161.26 196.8L159.82 198.36L158.38 196.8Z" fill="#a862e4"/>
<path d="M162.11 193.54L163.55 195.1L162.11 196.66L160.67 195.1Z" fill="#a862e4"/>
<path d="M164.4 200.14L165.84 201.7L164.4 203.26L162.96 201.7Z" fill="#a862e4"/>
<path d="M166.68 187.94L168.12 189.5L166.68 191.06L165.24 189.5Z" fill="#a862e4"/>
<path d="M168.97 193.54L170.41 195.1L168.97 196.66L167.53 195.1Z" fill="#a862e4"/>
<path d="M171.25 199.24L172.69 200.8L171.25 202.36L169.81 200.8Z" fill="#a862e4"/>
<path d="M173.54 206.14L174.98 207.7L173.54 209.26L172.1 207.7Z" fill="#a862e4"/>
<path d="M175.82 203.64L177.26 205.2L175.82 206.76L174.38 205.2Z" fill="#a862e4"/>
<path d="M178.11 198.74L179.55 200.3L178.11 201.86L176.67 200.3Z" fill="#a862e4"/>
<path d="M180.39 203.64L181.83 205.2L180.39 206.76L178.95 205.2Z" fill="#a862e4"/>
<path d="M182.68 203.94L184.12 205.5L182.68 207.06L181.24 205.5Z" fill="#a862e4"/>
<path d="M184.96 203.64L186.4 205.2L184.96 206.76L183.52 205.2Z" fill="#a862e4"/>
<path d="M187.25 204.84L188.69 206.4L187.25 207.96L185.81 206.4Z" fill="#a862e4"/>
<path d="M189.53 211.34L190.97 212.9L189.53 214.46L188.09 212.9Z" fill="#a862e4"/>
<path d="M191.81 201.84L193.25 203.4L191.81 204.96L190.38 203.4Z" fill="#a862e4"/>
<path d="M194.1 206.64L195.54 208.2L194.1 209.76L192.66 208.2Z" fill="#a862e4"/>
<path d="M196.39 206.14L197.83 207.7L196.39 209.26L194.95 207.7Z" fill="#a862e4"/>
<path d="M198.67 206.64L200.11 208.2L198.67 209.76L197.23 208.2Z" fill="#a862e4"/>
<path d="M200.96 200.14L202.4 201.7L200.96 203.26L199.52 201.7Z" fill="#a862e4"/>
<path d="M203.24 210.64L204.68 212.2L203.24 213.76L201.8 212.2Z" fill="#a862e4"/>
<path d="M205.53 204.84L206.97 206.4L205.53 207.96L204.09 206.4Z" fill="#a862e4"/>
<path d="M207.81 209.64L209.25 211.2L207.81 212.76L206.37 211.2Z" fill="#a862e4"/>
<path d="M210.09 208.34L211.53 209.9L210.09 211.46L208.66 209.9Z" fill="#a862e4"/>
<path d="M212.38 185.64L213.82 187.2L212.38 188.76L210.94 187.2Z" fill="#a862e4"/>
<path d="M214.67 195.24L216.11 196.8L214.67 198.36L213.23 196.8Z" fill="#a862e4"/>
<path d="M216.95 203.14L218.39 204.7L216.95 206.26L215.51 204.7Z" fill="#a862e4"/>
<path d="M219.24 207.14L220.68 208.7L219.24 210.26L217.8 208.7Z" fill="#a862e4"/>
<path d="M221.52 204.34L222.96 205.9L221.52 207.46L220.08 205.9Z" fill="#a862e4"/>
<path d="M223.81 198.74L225.25 200.3L223.81 201.86L222.37 200.3Z" fill="#a862e4"/>
<path d="M226.09 203.64L227.53 205.2L226.09 206.76L224.65 205.2Z" fill="#a862e4"/>
<path d="M228.38 208.34L229.81 209.9L228.38 211.46L226.94 209.9Z" fill="#a862e4"/>
<path d="M230.66 206.64L232.1 208.2L230.66 209.76L229.22 208.2Z" fill="#a862e4"/>
<path d="M232.95 205.44L234.39 207L232.95 208.56L231.51 207Z" fill="#a862e4"/>
<path d="M235.23 206.14L236.67 207.7L235.23 209.26L233.79 207.7Z" fill="#a862e4"/>
<path d="M237.52 211.84L238.96 213.4L237.52 214.96L236.08 213.4Z" fill="#a862e4"/>
<path d="M239.8 205.74L241.24 207.3L239.8 208.86L238.36 207.3Z" fill="#a862e4"/>
<path d="M242.09 206.64L243.53 208.2L242.09 209.76L240.65 208.2Z" fill="#a862e4"/>
<path d="M244.37 207.54L245.81 209.1L244.37 210.66L242.93 209.1Z" fill="#a862e4"/>
<path d="M246.66 207.54L248.09 209.1L246.66 210.66L245.22 209.1Z" fill="#a862e4"/>
<path d="M248.94 207.84L250.38 209.4L248.94 210.96L247.5 209.4Z" fill="#a862e4"/>
<path d="M251.23 210.64L252.67 212.2L251.23 213.76L249.79 212.2Z" fill="#a862e4"/>
<path d="M253.51 204.84L254.95 206.4L253.51 207.96L252.07 206.4Z" fill="#a862e4"/>
<path d="M255.8 209.24L257.24 210.8L255.8 212.36L254.36 210.8Z" fill="#a862e4"/>
<path d="M258.08 205.44L259.52 207L258.08 208.56L256.64 207Z" fill="#a862e4"/>
<path d="M260.37 211.04L261.81 212.6L260.37 214.16L258.93 212.6Z" fill="#a862e4"/>
<path d="M262.65 211.04L264.09 212.6L262.65 214.16L261.21 212.6Z" fill="#a862e4"/>
<path d="M264.94 210.14L266.38 211.7L264.94 213.26L263.5 211.7Z" fill="#a862e4"/>
<path d="M267.22 205.44L268.66 207L267.22 208.56L265.78 207Z" fill="#a862e4"/>
<path d="M269.5 189.64L270.94 191.2L269.5 192.76L268.06 191.2Z" fill="#a862e4"/>
<path d="M271.79 212.74L273.23 214.3L271.79 215.86L270.35 214.3Z" fill="#a862e4"/>
<path d="M274.08 208.94L275.52 210.5L274.08 212.06L272.64 210.5Z" fill="#a862e4"/>
<path d="M276.36 216.24L277.8 217.8L276.36 219.36L274.92 217.8Z" fill="#a862e4"/>
<path d="M278.64 215.34L280.08 216.9L278.64 218.46L277.2 216.9Z" fill="#a862e4"/>
<path d="M280.93 211.34L282.37 212.9L280.93 214.46L279.49 212.9Z" fill="#a862e4"/>
<path d="M283.22 214.54L284.66 216.1L283.22 217.66L281.78 216.1Z" fill="#a862e4"/>
</g>
<path d="M34.15 19.9V240.7H308.35" fill="none" stroke="#1a1a1a" stroke-width="1.1"/>
<text x="27.15" y="225.4" font-size="8.6" text-anchor="end">0.2</text>
<text x="27.15" y="188.6" font-size="8.6" text-anchor="end">0.4</text>
<text x="27.15" y="151.8" font-size="8.6" text-anchor="end">0.6</text>
<text x="27.15" y="115" font-size="8.6" text-anchor="end">0.8</text>
<text x="27.15" y="78.2" font-size="8.6" text-anchor="end">1.0</text>
<text x="27.15" y="41.4" font-size="8.6" text-anchor="end">1.2</text>
<text x="57" y="256" font-size="8.6" text-anchor="middle">0</text>
<text x="102.7" y="256" font-size="8.6" text-anchor="middle">20</text>
<text x="148.4" y="256" font-size="8.6" text-anchor="middle">40</text>
<text x="194.1" y="256" font-size="8.6" text-anchor="middle">60</text>
<text x="239.8" y="256" font-size="8.6" text-anchor="middle">80</text>
<text x="285.5" y="256" font-size="8.6" text-anchor="middle">100</text>
<path d="M31.85 240.7H34.15M30.15 222.3H34.15M31.85 203.9H34.15M30.15 185.5H34.15M31.85 167.1H34.15M30.15 148.7H34.15M31.85 130.3H34.15M30.15 111.9H34.15M31.85 93.5H34.15M30.15 75.1H34.15M31.85 56.7H34.15M30.15 38.3H34.15M31.85 19.9H34.15M34.15 240.7V243M57 240.7V244.7M79.85 240.7V243M102.7 240.7V244.7M125.55 240.7V243M148.4 240.7V244.7M171.25 240.7V243M194.1 240.7V244.7M216.95 240.7V243M239.8 240.7V244.7M262.65 240.7V243M285.5 240.7V244.7M308.35 240.7V243" stroke="#1a1a1a" stroke-width="1"/>
<text transform="translate(12,130.8) rotate(-90)" font-size="10.85" text-anchor="middle">Training loss</text>
<text x="171.25" y="271.1" font-size="10.2" text-anchor="middle"># Round</text>
<text x="173.9" y="292.7" font-size="14.7" text-anchor="middle">Scenario A</text>
<rect x="227.5" y="3.3" width="71.3" height="65" fill="#fff" stroke="#b4b4b4" stroke-width="0.8"/>
<g class="bl">
<line x1="229.2" y1="10.5" x2="252.2" y2="10.5" stroke="#5a5a5a" stroke-width="1.6"/>
<rect x="239.6" y="9.4" width="2.2" height="2.2" fill="#383838"/>
<line x1="229.2" y1="23.4" x2="252.2" y2="23.4" stroke="#e05a5a" stroke-width="1.6"/>
<circle cx="240.7" cy="23.4" r="1.16" fill="#e42e2e"/>
<line x1="229.2" y1="35.7" x2="252.2" y2="35.7" stroke="#7aa6e6" stroke-width="1.6"/>
<path d="M240.7 34.27L242.02 36.8L239.38 36.8Z" fill="#2060d8"/>
<line x1="229.2" y1="48.4" x2="252.2" y2="48.4" stroke="#3fa872" stroke-width="1.6"/>
<path d="M240.7 49.83L242.02 47.3L239.38 47.3Z" fill="#279a58"/>
<line x1="229.2" y1="61.1" x2="252.2" y2="61.1" stroke="#b889ee" stroke-width="1.6"/>
<path d="M240.7 59.67L242.02 61.1L240.7 62.53L239.38 61.1Z" fill="#a862e4"/>
</g>
<text x="256.1" y="14.71" font-size="10.3">FedAvg</text>
<text x="256.1" y="27.61" font-size="10.3">FedProx</text>
<text x="256.1" y="39.91" font-size="10.3">Scaffold</text>
<text x="256.1" y="52.61" font-size="10.3">FedNova</text>
<text x="256.1" y="65.31" font-size="10.3">FedOcw</text>
</g>
<g id="pB">
<g class="bl">
<polyline points="405.8,143.4 408.19,113.9 410.59,106.3 412.99,115.8 415.38,122.7 417.78,115.1 420.18,118.3 422.58,127.1 424.97,125.8 427.37,112 429.77,100.7 432.16,96.9 434.56,114.5 436.96,115.1 439.35,127.7 441.75,110.1 444.15,108.2 446.55,107.6 448.94,118.3 451.34,119.5 453.74,122.7 456.13,108.2 458.53,107.6 460.93,112 463.32,100.7 465.72,117 468.12,117 470.52,108.9 472.91,109.5 475.31,111.4 477.71,114.5 480.1,108.9 482.5,114 484.9,121.5 487.29,110.2 489.69,117.8 492.09,110.2 494.49,106.5 496.88,102.7 499.28,110.8 501.68,114.6 504.07,97.7 506.47,106.5 508.87,100.2 511.26,108.3 513.66,112.7 516.06,121.5 518.46,121.5 520.85,114 523.25,90.1 525.65,101.4 528.04,108.3 530.44,107.7 532.84,110.2 535.23,112.7 537.63,114 540.03,107.1 542.43,119 544.82,103.3 547.22,116.5 549.62,111.5 552.01,112.7 554.41,107.7 556.81,124.7 559.2,124.7 561.6,124.7 564,124 566.4,122.8 568.79,123.4 571.19,120.3 573.59,102.1 575.98,125.3 578.38,104.6 580.78,111.5 583.17,103.9 585.57,103.9 587.97,111.5 590.37,103.3 592.76,106.5 595.16,108.3 597.56,120.9 599.95,120.9 602.35,107.7 604.75,107.7 607.14,107.1 609.54,106.5 611.94,93.3 614.34,71.3 616.73,72.6 619.13,97.7 621.53,101.4 623.92,117.8 626.32,103.9 628.72,93.9 631.12,95.2 633.51,87 635.91,93.9 638.31,90.8 640.7,79.5" fill="none" stroke="#4c4c4c" stroke-width="1.0" stroke-linejoin="round"/>
<rect x="404.6" y="142.2" width="2.4" height="2.4" fill="#383838"/>
<rect x="406.99" y="112.7" width="2.4" height="2.4" fill="#383838"/>
<rect x="409.39" y="105.1" width="2.4" height="2.4" fill="#383838"/>
<rect x="411.79" y="114.6" width="2.4" height="2.4" fill="#383838"/>
<rect x="414.19" y="121.5" width="2.4" height="2.4" fill="#383838"/>
<rect x="416.58" y="113.9" width="2.4" height="2.4" fill="#383838"/>
<rect x="418.98" y="117.1" width="2.4" height="2.4" fill="#383838"/>
<rect x="421.38" y="125.9" width="2.4" height="2.4" fill="#383838"/>
<rect x="423.77" y="124.6" width="2.4" height="2.4" fill="#383838"/>
<rect x="426.17" y="110.8" width="2.4" height="2.4" fill="#383838"/>
<rect x="428.57" y="99.5" width="2.4" height="2.4" fill="#383838"/>
<rect x="430.96" y="95.7" width="2.4" height="2.4" fill="#383838"/>
<rect x="433.36" y="113.3" width="2.4" height="2.4" fill="#383838"/>
<rect x="435.76" y="113.9" width="2.4" height="2.4" fill="#383838"/>
<rect x="438.15" y="126.5" width="2.4" height="2.4" fill="#383838"/>
<rect x="440.55" y="108.9" width="2.4" height="2.4" fill="#383838"/>
<rect x="442.95" y="107" width="2.4" height="2.4" fill="#383838"/>
<rect x="445.35" y="106.4" width="2.4" height="2.4" fill="#383838"/>
<rect x="447.74" y="117.1" width="2.4" height="2.4" fill="#383838"/>
<rect x="450.14" y="118.3" width="2.4" height="2.4" fill="#383838"/>
<rect x="452.54" y="121.5" width="2.4" height="2.4" fill="#383838"/>
<rect x="454.93" y="107" width="2.4" height="2.4" fill="#383838"/>
<rect x="457.33" y="106.4" width="2.4" height="2.4" fill="#383838"/>
<rect x="459.73" y="110.8" width="2.4" height="2.4" fill="#383838"/>
<rect x="462.12" y="99.5" width="2.4" height="2.4" fill="#383838"/>
<rect x="464.52" y="115.8" width="2.4" height="2.4" fill="#383838"/>
<rect x="466.92" y="115.8" width="2.4" height="2.4" fill="#383838"/>
<rect x="469.32" y="107.7" width="2.4" height="2.4" fill="#383838"/>
<rect x="471.71" y="108.3" width="2.4" height="2.4" fill="#383838"/>
<rect x="474.11" y="110.2" width="2.4" height="2.4" fill="#383838"/>
<rect x="476.51" y="113.3" width="2.4" height="2.4" fill="#383838"/>
<rect x="478.9" y="107.7" width="2.4" height="2.4" fill="#383838"/>
<rect x="481.3" y="112.8" width="2.4" height="2.4" fill="#383838"/>
<rect x="483.7" y="120.3" width="2.4" height="2.4" fill="#383838"/>
<rect x="486.09" y="109" width="2.4" height="2.4" fill="#383838"/>
<rect x="488.49" y="116.6" width="2.4" height="2.4" fill="#383838"/>
<rect x="490.89" y="109" width="2.4" height="2.4" fill="#383838"/>
<rect x="493.29" y="105.3" width="2.4" height="2.4" fill="#383838"/>
<rect x="495.68" y="101.5" width="2.4" height="2.4" fill="#383838"/>
<rect x="498.08" y="109.6" width="2.4" height="2.4" fill="#383838"/>
<rect x="500.48" y="113.4" width="2.4" height="2.4" fill="#383838"/>
<rect x="502.87" y="96.5" width="2.4" height="2.4" fill="#383838"/>
<rect x="505.27" y="105.3" width="2.4" height="2.4" fill="#383838"/>
<rect x="507.67" y="99" width="2.4" height="2.4" fill="#383838"/>
<rect x="510.06" y="107.1" width="2.4" height="2.4" fill="#383838"/>
<rect x="512.46" y="111.5" width="2.4" height="2.4" fill="#383838"/>
<rect x="514.86" y="120.3" width="2.4" height="2.4" fill="#383838"/>
<rect x="517.26" y="120.3" width="2.4" height="2.4" fill="#383838"/>
<rect x="519.65" y="112.8" width="2.4" height="2.4" fill="#383838"/>
<rect x="522.05" y="88.9" width="2.4" height="2.4" fill="#383838"/>
<rect x="524.45" y="100.2" width="2.4" height="2.4" fill="#383838"/>
<rect x="526.84" y="107.1" width="2.4" height="2.4" fill="#383838"/>
<rect x="529.24" y="106.5" width="2.4" height="2.4" fill="#383838"/>
<rect x="531.64" y="109" width="2.4" height="2.4" fill="#383838"/>
<rect x="534.03" y="111.5" width="2.4" height="2.4" fill="#383838"/>
<rect x="536.43" y="112.8" width="2.4" height="2.4" fill="#383838"/>
<rect x="538.83" y="105.9" width="2.4" height="2.4" fill="#383838"/>
<rect x="541.23" y="117.8" width="2.4" height="2.4" fill="#383838"/>
<rect x="543.62" y="102.1" width="2.4" height="2.4" fill="#383838"/>
<rect x="546.02" y="115.3" width="2.4" height="2.4" fill="#383838"/>
<rect x="548.42" y="110.3" width="2.4" height="2.4" fill="#383838"/>
<rect x="550.81" y="111.5" width="2.4" height="2.4" fill="#383838"/>
<rect x="553.21" y="106.5" width="2.4" height="2.4" fill="#383838"/>
<rect x="555.61" y="123.5" width="2.4" height="2.4" fill="#383838"/>
<rect x="558" y="123.5" width="2.4" height="2.4" fill="#383838"/>
<rect x="560.4" y="123.5" width="2.4" height="2.4" fill="#383838"/>
<rect x="562.8" y="122.8" width="2.4" height="2.4" fill="#383838"/>
<rect x="565.2" y="121.6" width="2.4" height="2.4" fill="#383838"/>
<rect x="567.59" y="122.2" width="2.4" height="2.4" fill="#383838"/>
<rect x="569.99" y="119.1" width="2.4" height="2.4" fill="#383838"/>
<rect x="572.39" y="100.9" width="2.4" height="2.4" fill="#383838"/>
<rect x="574.78" y="124.1" width="2.4" height="2.4" fill="#383838"/>
<rect x="577.18" y="103.4" width="2.4" height="2.4" fill="#383838"/>
<rect x="579.58" y="110.3" width="2.4" height="2.4" fill="#383838"/>
<rect x="581.97" y="102.7" width="2.4" height="2.4" fill="#383838"/>
<rect x="584.37" y="102.7" width="2.4" height="2.4" fill="#383838"/>
<rect x="586.77" y="110.3" width="2.4" height="2.4" fill="#383838"/>
<rect x="589.17" y="102.1" width="2.4" height="2.4" fill="#383838"/>
<rect x="591.56" y="105.3" width="2.4" height="2.4" fill="#383838"/>
<rect x="593.96" y="107.1" width="2.4" height="2.4" fill="#383838"/>
<rect x="596.36" y="119.7" width="2.4" height="2.4" fill="#383838"/>
<rect x="598.75" y="119.7" width="2.4" height="2.4" fill="#383838"/>
<rect x="601.15" y="106.5" width="2.4" height="2.4" fill="#383838"/>
<rect x="603.55" y="106.5" width="2.4" height="2.4" fill="#383838"/>
<rect x="605.94" y="105.9" width="2.4" height="2.4" fill="#383838"/>
<rect x="608.34" y="105.3" width="2.4" height="2.4" fill="#383838"/>
<rect x="610.74" y="92.1" width="2.4" height="2.4" fill="#383838"/>
<rect x="613.14" y="70.1" width="2.4" height="2.4" fill="#383838"/>
<rect x="615.53" y="71.4" width="2.4" height="2.4" fill="#383838"/>
<rect x="617.93" y="96.5" width="2.4" height="2.4" fill="#383838"/>
<rect x="620.33" y="100.2" width="2.4" height="2.4" fill="#383838"/>
<rect x="622.72" y="116.6" width="2.4" height="2.4" fill="#383838"/>
<rect x="625.12" y="102.7" width="2.4" height="2.4" fill="#383838"/>
<rect x="627.52" y="92.7" width="2.4" height="2.4" fill="#383838"/>
<rect x="629.91" y="94" width="2.4" height="2.4" fill="#383838"/>
<rect x="632.31" y="85.8" width="2.4" height="2.4" fill="#383838"/>
<rect x="634.71" y="92.7" width="2.4" height="2.4" fill="#383838"/>
<rect x="637.11" y="89.6" width="2.4" height="2.4" fill="#383838"/>
<rect x="639.5" y="78.3" width="2.4" height="2.4" fill="#383838"/>
<polyline points="405.8,170.4 408.19,162.2 410.59,156.6 412.99,141.5 415.38,153.4 417.78,140.2 420.18,132.7 422.58,139.6 424.97,133.3 427.37,135.8 429.77,135.2 432.16,122 434.56,146.5 436.96,147.8 439.35,142.8 441.75,128.9 444.15,128.9 446.55,150.3 448.94,147.1 451.34,153.4 453.74,152.8 456.13,143.4 458.53,125.2 460.93,144.6 463.32,141.5 465.72,144 468.12,153.4 470.52,146.5 472.91,141.5 475.31,143.4 477.71,126.4 480.1,125.5 482.5,129.7 484.9,139.7 487.29,134.7 489.69,137.8 492.09,131.6 494.49,132.2 496.88,124.7 499.28,125.3 501.68,132.8 504.07,118.4 506.47,127.2 508.87,128.4 511.26,127.8 513.66,95.2 516.06,95.2 518.46,105.8 520.85,118.4 523.25,109 525.65,115.9 528.04,109.6 530.44,130.9 532.84,115.2 535.23,106.5 537.63,103.3 540.03,104.6 542.43,108.3 544.82,95.8 547.22,103.9 549.62,113.4 552.01,114 554.41,95.2 556.81,105.2 559.2,115.9 561.6,119 564,120.3 566.4,111.5 568.79,125.3 571.19,100.2 573.59,115.2 575.98,105.2 578.38,97 580.78,111.5 583.17,109 585.57,99.5 587.97,97 590.37,102.7 592.76,100.2 595.16,99.5 597.56,118.4 599.95,109.6 602.35,109 604.75,100.8 607.14,109.6 609.54,110.8 611.94,111.5 614.34,100.2 616.73,93.3 619.13,102.1 621.53,100.8 623.92,109.6 626.32,107.7 628.72,109 631.12,107.1 633.51,100.2 635.91,90.1 638.31,104.6 640.7,87" fill="none" stroke="#e63c3c" stroke-width="1.0" stroke-linejoin="round"/>
<circle cx="405.8" cy="170.4" r="1.26" fill="#e42e2e"/>
<circle cx="408.19" cy="162.2" r="1.26" fill="#e42e2e"/>
<circle cx="410.59" cy="156.6" r="1.26" fill="#e42e2e"/>
<circle cx="412.99" cy="141.5" r="1.26" fill="#e42e2e"/>
<circle cx="415.38" cy="153.4" r="1.26" fill="#e42e2e"/>
<circle cx="417.78" cy="140.2" r="1.26" fill="#e42e2e"/>
<circle cx="420.18" cy="132.7" r="1.26" fill="#e42e2e"/>
<circle cx="422.58" cy="139.6" r="1.26" fill="#e42e2e"/>
<circle cx="424.97" cy="133.3" r="1.26" fill="#e42e2e"/>
<circle cx="427.37" cy="135.8" r="1.26" fill="#e42e2e"/>
<circle cx="429.77" cy="135.2" r="1.26" fill="#e42e2e"/>
<circle cx="432.16" cy="122" r="1.26" fill="#e42e2e"/>
<circle cx="434.56" cy="146.5" r="1.26" fill="#e42e2e"/>
<circle cx="436.96" cy="147.8" r="1.26" fill="#e42e2e"/>
<circle cx="439.35" cy="142.8" r="1.26" fill="#e42e2e"/>
<circle cx="441.75" cy="128.9" r="1.26" fill="#e42e2e"/>
<circle cx="444.15" cy="128.9" r="1.26" fill="#e42e2e"/>
<circle cx="446.55" cy="150.3" r="1.26" fill="#e42e2e"/>
<circle cx="448.94" cy="147.1" r="1.26" fill="#e42e2e"/>
<circle cx="451.34" cy="153.4" r="1.26" fill="#e42e2e"/>
<circle cx="453.74" cy="152.8" r="1.26" fill="#e42e2e"/>
<circle cx="456.13" cy="143.4" r="1.26" fill="#e42e2e"/>
<circle cx="458.53" cy="125.2" r="1.26" fill="#e42e2e"/>
<circle cx="460.93" cy="144.6" r="1.26" fill="#e42e2e"/>
<circle cx="463.32" cy="141.5" r="1.26" fill="#e42e2e"/>
<circle cx="465.72" cy="144" r="1.26" fill="#e42e2e"/>
<circle cx="468.12" cy="153.4" r="1.26" fill="#e42e2e"/>
<circle cx="470.52" cy="146.5" r="1.26" fill="#e42e2e"/>
<circle cx="472.91" cy="141.5" r="1.26" fill="#e42e2e"/>
<circle cx="475.31" cy="143.4" r="1.26" fill="#e42e2e"/>
<circle cx="477.71" cy="126.4" r="1.26" fill="#e42e2e"/>
<circle cx="480.1" cy="125.5" r="1.26" fill="#e42e2e"/>
<circle cx="482.5" cy="129.7" r="1.26" fill="#e42e2e"/>
<circle cx="484.9" cy="139.7" r="1.26" fill="#e42e2e"/>
<circle cx="487.29" cy="134.7" r="1.26" fill="#e42e2e"/>
<circle cx="489.69" cy="137.8" r="1.26" fill="#e42e2e"/>
<circle cx="492.09" cy="131.6" r="1.26" fill="#e42e2e"/>
<circle cx="494.49" cy="132.2" r="1.26" fill="#e42e2e"/>
<circle cx="496.88" cy="124.7" r="1.26" fill="#e42e2e"/>
<circle cx="499.28" cy="125.3" r="1.26" fill="#e42e2e"/>
<circle cx="501.68" cy="132.8" r="1.26" fill="#e42e2e"/>
<circle cx="504.07" cy="118.4" r="1.26" fill="#e42e2e"/>
<circle cx="506.47" cy="127.2" r="1.26" fill="#e42e2e"/>
<circle cx="508.87" cy="128.4" r="1.26" fill="#e42e2e"/>
<circle cx="511.26" cy="127.8" r="1.26" fill="#e42e2e"/>
<circle cx="513.66" cy="95.2" r="1.26" fill="#e42e2e"/>
<circle cx="516.06" cy="95.2" r="1.26" fill="#e42e2e"/>
<circle cx="518.46" cy="105.8" r="1.26" fill="#e42e2e"/>
<circle cx="520.85" cy="118.4" r="1.26" fill="#e42e2e"/>
<circle cx="523.25" cy="109" r="1.26" fill="#e42e2e"/>
<circle cx="525.65" cy="115.9" r="1.26" fill="#e42e2e"/>
<circle cx="528.04" cy="109.6" r="1.26" fill="#e42e2e"/>
<circle cx="530.44" cy="130.9" r="1.26" fill="#e42e2e"/>
<circle cx="532.84" cy="115.2" r="1.26" fill="#e42e2e"/>
<circle cx="535.23" cy="106.5" r="1.26" fill="#e42e2e"/>
<circle cx="537.63" cy="103.3" r="1.26" fill="#e42e2e"/>
<circle cx="540.03" cy="104.6" r="1.26" fill="#e42e2e"/>
<circle cx="542.43" cy="108.3" r="1.26" fill="#e42e2e"/>
<circle cx="544.82" cy="95.8" r="1.26" fill="#e42e2e"/>
<circle cx="547.22" cy="103.9" r="1.26" fill="#e42e2e"/>
<circle cx="549.62" cy="113.4" r="1.26" fill="#e42e2e"/>
<circle cx="552.01" cy="114" r="1.26" fill="#e42e2e"/>
<circle cx="554.41" cy="95.2" r="1.26" fill="#e42e2e"/>
<circle cx="556.81" cy="105.2" r="1.26" fill="#e42e2e"/>
<circle cx="559.2" cy="115.9" r="1.26" fill="#e42e2e"/>
<circle cx="561.6" cy="119" r="1.26" fill="#e42e2e"/>
<circle cx="564" cy="120.3" r="1.26" fill="#e42e2e"/>
<circle cx="566.4" cy="111.5" r="1.26" fill="#e42e2e"/>
<circle cx="568.79" cy="125.3" r="1.26" fill="#e42e2e"/>
<circle cx="571.19" cy="100.2" r="1.26" fill="#e42e2e"/>
<circle cx="573.59" cy="115.2" r="1.26" fill="#e42e2e"/>
<circle cx="575.98" cy="105.2" r="1.26" fill="#e42e2e"/>
<circle cx="578.38" cy="97" r="1.26" fill="#e42e2e"/>
<circle cx="580.78" cy="111.5" r="1.26" fill="#e42e2e"/>
<circle cx="583.17" cy="109" r="1.26" fill="#e42e2e"/>
<circle cx="585.57" cy="99.5" r="1.26" fill="#e42e2e"/>
<circle cx="587.97" cy="97" r="1.26" fill="#e42e2e"/>
<circle cx="590.37" cy="102.7" r="1.26" fill="#e42e2e"/>
<circle cx="592.76" cy="100.2" r="1.26" fill="#e42e2e"/>
<circle cx="595.16" cy="99.5" r="1.26" fill="#e42e2e"/>
<circle cx="597.56" cy="118.4" r="1.26" fill="#e42e2e"/>
<circle cx="599.95" cy="109.6" r="1.26" fill="#e42e2e"/>
<circle cx="602.35" cy="109" r="1.26" fill="#e42e2e"/>
<circle cx="604.75" cy="100.8" r="1.26" fill="#e42e2e"/>
<circle cx="607.14" cy="109.6" r="1.26" fill="#e42e2e"/>
<circle cx="609.54" cy="110.8" r="1.26" fill="#e42e2e"/>
<circle cx="611.94" cy="111.5" r="1.26" fill="#e42e2e"/>
<circle cx="614.34" cy="100.2" r="1.26" fill="#e42e2e"/>
<circle cx="616.73" cy="93.3" r="1.26" fill="#e42e2e"/>
<circle cx="619.13" cy="102.1" r="1.26" fill="#e42e2e"/>
<circle cx="621.53" cy="100.8" r="1.26" fill="#e42e2e"/>
<circle cx="623.92" cy="109.6" r="1.26" fill="#e42e2e"/>
<circle cx="626.32" cy="107.7" r="1.26" fill="#e42e2e"/>
<circle cx="628.72" cy="109" r="1.26" fill="#e42e2e"/>
<circle cx="631.12" cy="107.1" r="1.26" fill="#e42e2e"/>
<circle cx="633.51" cy="100.2" r="1.26" fill="#e42e2e"/>
<circle cx="635.91" cy="90.1" r="1.26" fill="#e42e2e"/>
<circle cx="638.31" cy="104.6" r="1.26" fill="#e42e2e"/>
<circle cx="640.7" cy="87" r="1.26" fill="#e42e2e"/>
<polyline points="405.8,167.9 408.19,155.3 410.59,142.8 412.99,148.4 415.38,159.1 417.78,166 420.18,166 422.58,158.4 424.97,160.3 427.37,157.2 429.77,156.6 432.16,152.8 434.56,160.3 436.96,152.8 439.35,155.3 441.75,175 444.15,162.8 446.55,155.9 448.94,162.8 451.34,168.5 453.74,159.1 456.13,164.7 458.53,160.3 460.93,157.8 463.32,162.8 465.72,156.6 468.12,166.6 470.52,162.8 472.91,159.1 475.31,159.1 477.71,157.2 480.1,153.2 482.5,160.1 484.9,169.5 487.29,160.1 489.69,162.6 492.09,156.4 494.49,144.4 496.88,147.6 499.28,152.6 501.68,152 504.07,149.5 506.47,159.5 508.87,156.4 511.26,156.6 513.66,156.4 516.06,152.6 518.46,156.4 520.85,162.6 523.25,152.6 525.65,154.5 528.04,155.1 530.44,154.5 532.84,150.7 535.23,157 537.63,144.8 540.03,146.3 542.43,150.7 544.82,145.7 547.22,144.4 549.62,138.8 552.01,143.8 554.41,149.5 556.81,145.7 559.2,148.2 561.6,142.6 564,148.8 566.4,144.4 568.79,155.1 571.19,150.7 573.59,148.2 575.98,141.9 578.38,129.5 580.78,135.6 583.17,136.3 585.57,139.4 587.97,138.8 590.37,144.4 592.76,147 595.16,141.9 597.56,138.5 599.95,141.9 602.35,146.1 604.75,142.6 607.14,138.2 609.54,139.4 611.94,136.3 614.34,135 616.73,138.2 619.13,141.3 621.53,139.8 623.92,141.9 626.32,144.4 628.72,147.6 631.12,142.6 633.51,141 635.91,140 638.31,139 640.7,135.6" fill="none" stroke="#2b6fe0" stroke-width="1.0" stroke-linejoin="round"/>
<path d="M405.8 166.34L407.24 169.1L404.36 169.1Z" fill="#2060d8"/>
<path d="M408.19 153.74L409.63 156.5L406.75 156.5Z" fill="#2060d8"/>
<path d="M410.59 141.24L412.03 144L409.15 144Z" fill="#2060d8"/>
<path d="M412.99 146.84L414.43 149.6L411.55 149.6Z" fill="#2060d8"/>
<path d="M415.38 157.54L416.82 160.3L413.94 160.3Z" fill="#2060d8"/>
<path d="M417.78 164.44L419.22 167.2L416.34 167.2Z" fill="#2060d8"/>
<path d="M420.18 164.44L421.62 167.2L418.74 167.2Z" fill="#2060d8"/>
<path d="M422.58 156.84L424.02 159.6L421.14 159.6Z" fill="#2060d8"/>
<path d="M424.97 158.74L426.41 161.5L423.53 161.5Z" fill="#2060d8"/>
<path d="M427.37 155.64L428.81 158.4L425.93 158.4Z" fill="#2060d8"/>
<path d="M429.77 155.04L431.21 157.8L428.33 157.8Z" fill="#2060d8"/>
<path d="M432.16 151.24L433.6 154L430.72 154Z" fill="#2060d8"/>
<path d="M434.56 158.74L436 161.5L433.12 161.5Z" fill="#2060d8"/>
<path d="M436.96 151.24L438.4 154L435.52 154Z" fill="#2060d8"/>
<path d="M439.35 153.74L440.79 156.5L437.91 156.5Z" fill="#2060d8"/>
<path d="M441.75 173.44L443.19 176.2L440.31 176.2Z" fill="#2060d8"/>
<path d="M444.15 161.24L445.59 164L442.71 164Z" fill="#2060d8"/>
<path d="M446.55 154.34L447.99 157.1L445.11 157.1Z" fill="#2060d8"/>
<path d="M448.94 161.24L450.38 164L447.5 164Z" fill="#2060d8"/>
<path d="M451.34 166.94L452.78 169.7L449.9 169.7Z" fill="#2060d8"/>
<path d="M453.74 157.54L455.18 160.3L452.3 160.3Z" fill="#2060d8"/>
<path d="M456.13 163.14L457.57 165.9L454.69 165.9Z" fill="#2060d8"/>
<path d="M458.53 158.74L459.97 161.5L457.09 161.5Z" fill="#2060d8"/>
<path d="M460.93 156.24L462.37 159L459.49 159Z" fill="#2060d8"/>
<path d="M463.32 161.24L464.76 164L461.88 164Z" fill="#2060d8"/>
<path d="M465.72 155.04L467.16 157.8L464.28 157.8Z" fill="#2060d8"/>
<path d="M468.12 165.04L469.56 167.8L466.68 167.8Z" fill="#2060d8"/>
<path d="M470.52 161.24L471.96 164L469.08 164Z" fill="#2060d8"/>
<path d="M472.91 157.54L474.35 160.3L471.47 160.3Z" fill="#2060d8"/>
<path d="M475.31 157.54L476.75 160.3L473.87 160.3Z" fill="#2060d8"/>
<path d="M477.71 155.64L479.15 158.4L476.27 158.4Z" fill="#2060d8"/>
<path d="M480.1 151.64L481.54 154.4L478.66 154.4Z" fill="#2060d8"/>
<path d="M482.5 158.54L483.94 161.3L481.06 161.3Z" fill="#2060d8"/>
<path d="M484.9 167.94L486.34 170.7L483.46 170.7Z" fill="#2060d8"/>
<path d="M487.29 158.54L488.73 161.3L485.85 161.3Z" fill="#2060d8"/>
<path d="M489.69 161.04L491.13 163.8L488.25 163.8Z" fill="#2060d8"/>
<path d="M492.09 154.84L493.53 157.6L490.65 157.6Z" fill="#2060d8"/>
<path d="M494.49 142.84L495.93 145.6L493.05 145.6Z" fill="#2060d8"/>
<path d="M496.88 146.04L498.32 148.8L495.44 148.8Z" fill="#2060d8"/>
<path d="M499.28 151.04L500.72 153.8L497.84 153.8Z" fill="#2060d8"/>
<path d="M501.68 150.44L503.12 153.2L500.24 153.2Z" fill="#2060d8"/>
<path d="M504.07 147.94L505.51 150.7L502.63 150.7Z" fill="#2060d8"/>
<path d="M506.47 157.94L507.91 160.7L505.03 160.7Z" fill="#2060d8"/>
<path d="M508.87 154.84L510.31 157.6L507.43 157.6Z" fill="#2060d8"/>
<path d="M511.26 155.04L512.71 157.8L509.82 157.8Z" fill="#2060d8"/>
<path d="M513.66 154.84L515.1 157.6L512.22 157.6Z" fill="#2060d8"/>
<path d="M516.06 151.04L517.5 153.8L514.62 153.8Z" fill="#2060d8"/>
<path d="M518.46 154.84L519.9 157.6L517.02 157.6Z" fill="#2060d8"/>
<path d="M520.85 161.04L522.29 163.8L519.41 163.8Z" fill="#2060d8"/>
<path d="M523.25 151.04L524.69 153.8L521.81 153.8Z" fill="#2060d8"/>
<path d="M525.65 152.94L527.09 155.7L524.21 155.7Z" fill="#2060d8"/>
<path d="M528.04 153.54L529.48 156.3L526.6 156.3Z" fill="#2060d8"/>
<path d="M530.44 152.94L531.88 155.7L529 155.7Z" fill="#2060d8"/>
<path d="M532.84 149.14L534.28 151.9L531.4 151.9Z" fill="#2060d8"/>
<path d="M535.23 155.44L536.67 158.2L533.79 158.2Z" fill="#2060d8"/>
<path d="M537.63 143.24L539.07 146L536.19 146Z" fill="#2060d8"/>
<path d="M540.03 144.74L541.47 147.5L538.59 147.5Z" fill="#2060d8"/>
<path d="M542.43 149.14L543.87 151.9L540.99 151.9Z" fill="#2060d8"/>
<path d="M544.82 144.14L546.26 146.9L543.38 146.9Z" fill="#2060d8"/>
<path d="M547.22 142.84L548.66 145.6L545.78 145.6Z" fill="#2060d8"/>
<path d="M549.62 137.24L551.06 140L548.18 140Z" fill="#2060d8"/>
<path d="M552.01 142.24L553.45 145L550.57 145Z" fill="#2060d8"/>
<path d="M554.41 147.94L555.85 150.7L552.97 150.7Z" fill="#2060d8"/>
<path d="M556.81 144.14L558.25 146.9L555.37 146.9Z" fill="#2060d8"/>
<path d="M559.2 146.64L560.64 149.4L557.76 149.4Z" fill="#2060d8"/>
<path d="M561.6 141.04L563.04 143.8L560.16 143.8Z" fill="#2060d8"/>
<path d="M564 147.24L565.44 150L562.56 150Z" fill="#2060d8"/>
<path d="M566.4 142.84L567.84 145.6L564.96 145.6Z" fill="#2060d8"/>
<path d="M568.79 153.54L570.23 156.3L567.35 156.3Z" fill="#2060d8"/>
<path d="M571.19 149.14L572.63 151.9L569.75 151.9Z" fill="#2060d8"/>
<path d="M573.59 146.64L575.03 149.4L572.15 149.4Z" fill="#2060d8"/>
<path d="M575.98 140.34L577.42 143.1L574.54 143.1Z" fill="#2060d8"/>
<path d="M578.38 127.94L579.82 130.7L576.94 130.7Z" fill="#2060d8"/>
<path d="M580.78 134.04L582.22 136.8L579.34 136.8Z" fill="#2060d8"/>
<path d="M583.17 134.74L584.62 137.5L581.73 137.5Z" fill="#2060d8"/>
<path d="M585.57 137.84L587.01 140.6L584.13 140.6Z" fill="#2060d8"/>
<path d="M587.97 137.24L589.41 140L586.53 140Z" fill="#2060d8"/>
<path d="M590.37 142.84L591.81 145.6L588.93 145.6Z" fill="#2060d8"/>
<path d="M592.76 145.44L594.2 148.2L591.32 148.2Z" fill="#2060d8"/>
<path d="M595.16 140.34L596.6 143.1L593.72 143.1Z" fill="#2060d8"/>
<path d="M597.56 136.94L599 139.7L596.12 139.7Z" fill="#2060d8"/>
<path d="M599.95 140.34L601.39 143.1L598.51 143.1Z" fill="#2060d8"/>
<path d="M602.35 144.54L603.79 147.3L600.91 147.3Z" fill="#2060d8"/>
<path d="M604.75 141.04L606.19 143.8L603.31 143.8Z" fill="#2060d8"/>
<path d="M607.14 136.64L608.59 139.4L605.7 139.4Z" fill="#2060d8"/>
<path d="M609.54 137.84L610.98 140.6L608.1 140.6Z" fill="#2060d8"/>
<path d="M611.94 134.74L613.38 137.5L610.5 137.5Z" fill="#2060d8"/>
<path d="M614.34 133.44L615.78 136.2L612.9 136.2Z" fill="#2060d8"/>
<path d="M616.73 136.64L618.17 139.4L615.29 139.4Z" fill="#2060d8"/>
<path d="M619.13 139.74L620.57 142.5L617.69 142.5Z" fill="#2060d8"/>
<path d="M621.53 138.24L622.97 141L620.09 141Z" fill="#2060d8"/>
<path d="M623.92 140.34L625.36 143.1L622.48 143.1Z" fill="#2060d8"/>
<path d="M626.32 142.84L627.76 145.6L624.88 145.6Z" fill="#2060d8"/>
<path d="M628.72 146.04L630.16 148.8L627.28 148.8Z" fill="#2060d8"/>
<path d="M631.12 141.04L632.56 143.8L629.67 143.8Z" fill="#2060d8"/>
<path d="M633.51 139.44L634.95 142.2L632.07 142.2Z" fill="#2060d8"/>
<path d="M635.91 138.44L637.35 141.2L634.47 141.2Z" fill="#2060d8"/>
<path d="M638.31 137.44L639.75 140.2L636.87 140.2Z" fill="#2060d8"/>
<path d="M640.7 134.04L642.14 136.8L639.26 136.8Z" fill="#2060d8"/>
<polyline points="422.58,161 424.97,159.5 427.37,157.5" fill="none" stroke="#33a865" stroke-width="1.0" stroke-linejoin="round"/>
<path d="M422.58 162.56L424.02 159.8L421.14 159.8Z" fill="#279a58"/>
<path d="M424.97 161.06L426.41 158.3L423.53 158.3Z" fill="#279a58"/>
<path d="M427.37 159.06L428.81 156.3L425.93 156.3Z" fill="#279a58"/>
<polyline points="432.16,142.8 434.56,129.6" fill="none" stroke="#33a865" stroke-width="1.0" stroke-linejoin="round"/>
<path d="M432.16 144.36L433.6 141.6L430.72 141.6Z" fill="#279a58"/>
<path d="M434.56 131.16L436 128.4L433.12 128.4Z" fill="#279a58"/>
<path d="M439.35 136.16L440.79 133.4L437.91 133.4Z" fill="#279a58"/>
<path d="M448.94 127.96L450.38 125.2L447.5 125.2Z" fill="#279a58"/>
<polyline points="453.74,139 456.13,138.4 458.53,137.5 460.93,136.5 463.32,134.6 465.72,145.3 468.12,132.1 470.52,142.1 472.91,140 475.31,138.4 477.71,132.1" fill="none" stroke="#33a865" stroke-width="1.0" stroke-linejoin="round"/>
<path d="M453.74 140.56L455.18 137.8L452.3 137.8Z" fill="#279a58"/>
<path d="M456.13 139.96L457.57 137.2L454.69 137.2Z" fill="#279a58"/>
<path d="M458.53 139.06L459.97 136.3L457.09 136.3Z" fill="#279a58"/>
<path d="M460.93 138.06L462.37 135.3L459.49 135.3Z" fill="#279a58"/>
<path d="M463.32 136.16L464.76 133.4L461.88 133.4Z" fill="#279a58"/>
<path d="M465.72 146.86L467.16 144.1L464.28 144.1Z" fill="#279a58"/>
<path d="M468.12 133.66L469.56 130.9L466.68 130.9Z" fill="#279a58"/>
<path d="M470.52 143.66L471.96 140.9L469.08 140.9Z" fill="#279a58"/>
<path d="M472.91 141.56L474.35 138.8L471.47 138.8Z" fill="#279a58"/>
<path d="M475.31 139.96L476.75 137.2L473.87 137.2Z" fill="#279a58"/>
<path d="M477.71 133.66L479.15 130.9L476.27 130.9Z" fill="#279a58"/>
<path d="M487.29 128.76L488.73 126L485.85 126Z" fill="#279a58"/>
<polyline points="492.09,137.2 494.49,131 496.88,125.3" fill="none" stroke="#33a865" stroke-width="1.0" stroke-linejoin="round"/>
<path d="M492.09 138.76L493.53 136L490.65 136Z" fill="#279a58"/>
<path d="M494.49 132.56L495.93 129.8L493.05 129.8Z" fill="#279a58"/>
<path d="M496.88 126.86L498.32 124.1L495.44 124.1Z" fill="#279a58"/>
<path d="M501.68 135.66L503.12 132.9L500.24 132.9Z" fill="#279a58"/>
<polyline points="506.47,142.9 508.87,146.6 511.26,136.6" fill="none" stroke="#33a865" stroke-width="1.0" stroke-linejoin="round"/>
<path d="M506.47 144.46L507.91 141.7L505.03 141.7Z" fill="#279a58"/>
<path d="M508.87 148.16L510.31 145.4L507.43 145.4Z" fill="#279a58"/>
<path d="M511.26 138.16L512.71 135.4L509.82 135.4Z" fill="#279a58"/>
<polyline points="516.06,129 518.46,143.5 520.85,130.9 523.25,134.1 525.65,127.8 528.04,130.3" fill="none" stroke="#33a865" stroke-width="1.0" stroke-linejoin="round"/>
<path d="M516.06 130.56L517.5 127.8L514.62 127.8Z" fill="#279a58"/>
<path d="M518.46 145.06L519.9 142.3L517.02 142.3Z" fill="#279a58"/>
<path d="M520.85 132.46L522.29 129.7L519.41 129.7Z" fill="#279a58"/>
<path d="M523.25 135.66L524.69 132.9L521.81 132.9Z" fill="#279a58"/>
<path d="M525.65 129.36L527.09 126.6L524.21 126.6Z" fill="#279a58"/>
<path d="M528.04 131.86L529.48 129.1L526.6 129.1Z" fill="#279a58"/>
<polyline points="535.23,127.8 537.63,115.2" fill="none" stroke="#33a865" stroke-width="1.0" stroke-linejoin="round"/>
<path d="M535.23 129.36L536.67 126.6L533.79 126.6Z" fill="#279a58"/>
<path d="M537.63 116.76L539.07 114L536.19 114Z" fill="#279a58"/>
<polyline points="542.43,134.7 544.82,120.3 547.22,133.4" fill="none" stroke="#33a865" stroke-width="1.0" stroke-linejoin="round"/>
<path d="M542.43 136.26L543.87 133.5L540.99 133.5Z" fill="#279a58"/>
<path d="M544.82 121.86L546.26 119.1L543.38 119.1Z" fill="#279a58"/>
<path d="M547.22 134.96L548.66 132.2L545.78 132.2Z" fill="#279a58"/>
<path d="M554.41 129.36L555.85 126.6L552.97 126.6Z" fill="#279a58"/>
<path d="M559.2 123.06L560.64 120.3L557.76 120.3Z" fill="#279a58"/>
<path d="M564 124.96L565.44 122.2L562.56 122.2Z" fill="#279a58"/>
<polyline points="568.79,127.8 571.19,107.1" fill="none" stroke="#33a865" stroke-width="1.0" stroke-linejoin="round"/>
<path d="M568.79 129.36L570.23 126.6L567.35 126.6Z" fill="#279a58"/>
<path d="M571.19 108.66L572.63 105.9L569.75 105.9Z" fill="#279a58"/>
<polyline points="575.98,129.7 578.38,139.1" fill="none" stroke="#33a865" stroke-width="1.0" stroke-linejoin="round"/>
<path d="M575.98 131.26L577.42 128.5L574.54 128.5Z" fill="#279a58"/>
<path d="M578.38 140.66L579.82 137.9L576.94 137.9Z" fill="#279a58"/>
<polyline points="583.17,111.5 585.57,132.2 587.97,137.8 590.37,134.1 592.76,132.2" fill="none" stroke="#33a865" stroke-width="1.0" stroke-linejoin="round"/>
<path d="M583.17 113.06L584.62 110.3L581.73 110.3Z" fill="#279a58"/>
<path d="M585.57 133.76L587.01 131L584.13 131Z" fill="#279a58"/>
<path d="M587.97 139.36L589.41 136.6L586.53 136.6Z" fill="#279a58"/>
<path d="M590.37 135.66L591.81 132.9L588.93 132.9Z" fill="#279a58"/>
<path d="M592.76 133.76L594.2 131L591.32 131Z" fill="#279a58"/>
<polyline points="597.56,125.3 599.95,125.9 602.35,103.3 604.75,67.5 607.14,125.3" fill="none" stroke="#33a865" stroke-width="1.0" stroke-linejoin="round"/>
<path d="M597.56 126.86L599 124.1L596.12 124.1Z" fill="#279a58"/>
<path d="M599.95 127.46L601.39 124.7L598.51 124.7Z" fill="#279a58"/>
<path d="M602.35 104.86L603.79 102.1L600.91 102.1Z" fill="#279a58"/>
<path d="M604.75 69.06L606.19 66.3L603.31 66.3Z" fill="#279a58"/>
<path d="M607.14 126.86L608.59 124.1L605.7 124.1Z" fill="#279a58"/>
<path d="M611.94 118.06L613.38 115.3L610.5 115.3Z" fill="#279a58"/>
<polyline points="616.73,112.7 619.13,112.7 621.53,133.4" fill="none" stroke="#33a865" stroke-width="1.0" stroke-linejoin="round"/>
<path d="M616.73 114.26L618.17 111.5L615.29 111.5Z" fill="#279a58"/>
<path d="M619.13 114.26L620.57 111.5L617.69 111.5Z" fill="#279a58"/>
<path d="M621.53 134.96L622.97 132.2L620.09 132.2Z" fill="#279a58"/>
<path d="M628.72 114.26L630.16 111.5L627.28 111.5Z" fill="#279a58"/>
<path d="M633.51 109.86L634.95 107.1L632.07 107.1Z" fill="#279a58"/>
<polyline points="638.31,92 640.7,108.3" fill="none" stroke="#33a865" stroke-width="1.0" stroke-linejoin="round"/>
<path d="M638.31 93.56L639.75 90.8L636.87 90.8Z" fill="#279a58"/>
<path d="M640.7 109.86L642.14 107.1L639.26 107.1Z" fill="#279a58"/>
<polyline points="405.8,168.2 408.19,151.3 410.59,170.8 412.99,172.6 415.38,156.3 417.78,175.8 420.18,179.5 422.58,167 424.97,178.3 427.37,170.8 429.77,166.4 432.16,185.2 434.56,175.8 436.96,186.5 439.35,189.6 441.75,180.8 444.15,187.1 446.55,177 448.94,193.4 451.34,181.4 453.74,182.7 456.13,187.1 458.53,180.8 460.93,183.9 463.32,173.3 465.72,194.6 468.12,195.2 470.52,190.8 472.91,192.1 475.31,184.2 477.71,188.3 480.1,196.5 482.5,195.3 484.9,191.5 487.29,199.1 489.69,190.9 492.09,188.8 494.49,198.4 496.88,197.8 499.28,186.5 501.68,180.2 504.07,191.5 506.47,195.3 508.87,193.4 511.26,199.1 513.66,196.5 516.06,197.2 518.46,198.4 520.85,196.5 523.25,192.1 525.65,202.2 528.04,187.1 530.44,192.8 532.84,197.2 535.23,198.4 537.63,190.9 540.03,193.4 542.43,204.7 544.82,205.3 547.22,199.7 549.62,197.8 552.01,192.8 554.41,192.1 556.81,200.9 559.2,199.1 561.6,200.3 564,200.3 566.4,200.3 568.79,196.5 571.19,199.7 573.59,197.8 575.98,185.2 578.38,200.3 580.78,197.8 583.17,197.8 585.57,200.3 587.97,206 590.37,204.7 592.76,201.6 595.16,202.8 597.56,202.8 599.95,209.7 602.35,206 604.75,203.4 607.14,204.7 609.54,204.7 611.94,204.1 614.34,199.1 616.73,205.3 619.13,200.9 621.53,204.1 623.92,206.6 626.32,207.2 628.72,205.3 631.12,196.5 633.51,212.2 635.91,208.5 638.31,209.1 640.7,206.6" fill="none" stroke="#ae6ee8" stroke-width="1.0" stroke-linejoin="round"/>
<path d="M405.8 166.64L407.24 168.2L405.8 169.76L404.36 168.2Z" fill="#a862e4"/>
<path d="M408.19 149.74L409.63 151.3L408.19 152.86L406.75 151.3Z" fill="#a862e4"/>
<path d="M410.59 169.24L412.03 170.8L410.59 172.36L409.15 170.8Z" fill="#a862e4"/>
<path d="M412.99 171.04L414.43 172.6L412.99 174.16L411.55 172.6Z" fill="#a862e4"/>
<path d="M415.38 154.74L416.82 156.3L415.38 157.86L413.94 156.3Z" fill="#a862e4"/>
<path d="M417.78 174.24L419.22 175.8L417.78 177.36L416.34 175.8Z" fill="#a862e4"/>
<path d="M420.18 177.94L421.62 179.5L420.18 181.06L418.74 179.5Z" fill="#a862e4"/>
<path d="M422.58 165.44L424.02 167L422.58 168.56L421.14 167Z" fill="#a862e4"/>
<path d="M424.97 176.74L426.41 178.3L424.97 179.86L423.53 178.3Z" fill="#a862e4"/>
<path d="M427.37 169.24L428.81 170.8L427.37 172.36L425.93 170.8Z" fill="#a862e4"/>
<path d="M429.77 164.84L431.21 166.4L429.77 167.96L428.33 166.4Z" fill="#a862e4"/>
<path d="M432.16 183.64L433.6 185.2L432.16 186.76L430.72 185.2Z" fill="#a862e4"/>
<path d="M434.56 174.24L436 175.8L434.56 177.36L433.12 175.8Z" fill="#a862e4"/>
<path d="M436.96 184.94L438.4 186.5L436.96 188.06L435.52 186.5Z" fill="#a862e4"/>
<path d="M439.35 188.04L440.79 189.6L439.35 191.16L437.91 189.6Z" fill="#a862e4"/>
<path d="M441.75 179.24L443.19 180.8L441.75 182.36L440.31 180.8Z" fill="#a862e4"/>
<path d="M444.15 185.54L445.59 187.1L444.15 188.66L442.71 187.1Z" fill="#a862e4"/>
<path d="M446.55 175.44L447.99 177L446.55 178.56L445.11 177Z" fill="#a862e4"/>
<path d="M448.94 191.84L450.38 193.4L448.94 194.96L447.5 193.4Z" fill="#a862e4"/>
<path d="M451.34 179.84L452.78 181.4L451.34 182.96L449.9 181.4Z" fill="#a862e4"/>
<path d="M453.74 181.14L455.18 182.7L453.74 184.26L452.3 182.7Z" fill="#a862e4"/>
<path d="M456.13 185.54L457.57 187.1L456.13 188.66L454.69 187.1Z" fill="#a862e4"/>
<path d="M458.53 179.24L459.97 180.8L458.53 182.36L457.09 180.8Z" fill="#a862e4"/>
<path d="M460.93 182.34L462.37 183.9L460.93 185.46L459.49 183.9Z" fill="#a862e4"/>
<path d="M463.32 171.74L464.76 173.3L463.32 174.86L461.88 173.3Z" fill="#a862e4"/>
<path d="M465.72 193.04L467.16 194.6L465.72 196.16L464.28 194.6Z" fill="#a862e4"/>
<path d="M468.12 193.64L469.56 195.2L468.12 196.76L466.68 195.2Z" fill="#a862e4"/>
<path d="M470.52 189.24L471.96 190.8L470.52 192.36L469.08 190.8Z" fill="#a862e4"/>
<path d="M472.91 190.54L474.35 192.1L472.91 193.66L471.47 192.1Z" fill="#a862e4"/>
<path d="M475.31 182.64L476.75 184.2L475.31 185.76L473.87 184.2Z" fill="#a862e4"/>
<path d="M477.71 186.74L479.15 188.3L477.71 189.86L476.27 188.3Z" fill="#a862e4"/>
<path d="M480.1 194.94L481.54 196.5L480.1 198.06L478.66 196.5Z" fill="#a862e4"/>
<path d="M482.5 193.74L483.94 195.3L482.5 196.86L481.06 195.3Z" fill="#a862e4"/>
<path d="M484.9 189.94L486.34 191.5L484.9 193.06L483.46 191.5Z" fill="#a862e4"/>
<path d="M487.29 197.54L488.73 199.1L487.29 200.66L485.85 199.1Z" fill="#a862e4"/>
<path d="M489.69 189.34L491.13 190.9L489.69 192.46L488.25 190.9Z" fill="#a862e4"/>
<path d="M492.09 187.24L493.53 188.8L492.09 190.36L490.65 188.8Z" fill="#a862e4"/>
<path d="M494.49 196.84L495.93 198.4L494.49 199.96L493.05 198.4Z" fill="#a862e4"/>
<path d="M496.88 196.24L498.32 197.8L496.88 199.36L495.44 197.8Z" fill="#a862e4"/>
<path d="M499.28 184.94L500.72 186.5L499.28 188.06L497.84 186.5Z" fill="#a862e4"/>
<path d="M501.68 178.64L503.12 180.2L501.68 181.76L500.24 180.2Z" fill="#a862e4"/>
<path d="M504.07 189.94L505.51 191.5L504.07 193.06L502.63 191.5Z" fill="#a862e4"/>
<path d="M506.47 193.74L507.91 195.3L506.47 196.86L505.03 195.3Z" fill="#a862e4"/>
<path d="M508.87 191.84L510.31 193.4L508.87 194.96L507.43 193.4Z" fill="#a862e4"/>
<path d="M511.26 197.54L512.71 199.1L511.26 200.66L509.82 199.1Z" fill="#a862e4"/>
<path d="M513.66 194.94L515.1 196.5L513.66 198.06L512.22 196.5Z" fill="#a862e4"/>
<path d="M516.06 195.64L517.5 197.2L516.06 198.76L514.62 197.2Z" fill="#a862e4"/>
<path d="M518.46 196.84L519.9 198.4L518.46 199.96L517.02 198.4Z" fill="#a862e4"/>
<path d="M520.85 194.94L522.29 196.5L520.85 198.06L519.41 196.5Z" fill="#a862e4"/>
<path d="M523.25 190.54L524.69 192.1L523.25 193.66L521.81 192.1Z" fill="#a862e4"/>
<path d="M525.65 200.64L527.09 202.2L525.65 203.76L524.21 202.2Z" fill="#a862e4"/>
<path d="M528.04 185.54L529.48 187.1L528.04 188.66L526.6 187.1Z" fill="#a862e4"/>
<path d="M530.44 191.24L531.88 192.8L530.44 194.36L529 192.8Z" fill="#a862e4"/>
<path d="M532.84 195.64L534.28 197.2L532.84 198.76L531.4 197.2Z" fill="#a862e4"/>
<path d="M535.23 196.84L536.67 198.4L535.23 199.96L533.79 198.4Z" fill="#a862e4"/>
<path d="M537.63 189.34L539.07 190.9L537.63 192.46L536.19 190.9Z" fill="#a862e4"/>
<path d="M540.03 191.84L541.47 193.4L540.03 194.96L538.59 193.4Z" fill="#a862e4"/>
<path d="M542.43 203.14L543.87 204.7L542.43 206.26L540.99 204.7Z" fill="#a862e4"/>
<path d="M544.82 203.74L546.26 205.3L544.82 206.86L543.38 205.3Z" fill="#a862e4"/>
<path d="M547.22 198.14L548.66 199.7L547.22 201.26L545.78 199.7Z" fill="#a862e4"/>
<path d="M549.62 196.24L551.06 197.8L549.62 199.36L548.18 197.8Z" fill="#a862e4"/>
<path d="M552.01 191.24L553.45 192.8L552.01 194.36L550.57 192.8Z" fill="#a862e4"/>
<path d="M554.41 190.54L555.85 192.1L554.41 193.66L552.97 192.1Z" fill="#a862e4"/>
<path d="M556.81 199.34L558.25 200.9L556.81 202.46L555.37 200.9Z" fill="#a862e4"/>
<path d="M559.2 197.54L560.64 199.1L559.2 200.66L557.76 199.1Z" fill="#a862e4"/>
<path d="M561.6 198.74L563.04 200.3L561.6 201.86L560.16 200.3Z" fill="#a862e4"/>
<path d="M564 198.74L565.44 200.3L564 201.86L562.56 200.3Z" fill="#a862e4"/>
<path d="M566.4 198.74L567.84 200.3L566.4 201.86L564.96 200.3Z" fill="#a862e4"/>
<path d="M568.79 194.94L570.23 196.5L568.79 198.06L567.35 196.5Z" fill="#a862e4"/>
<path d="M571.19 198.14L572.63 199.7L571.19 201.26L569.75 199.7Z" fill="#a862e4"/>
<path d="M573.59 196.24L575.03 197.8L573.59 199.36L572.15 197.8Z" fill="#a862e4"/>
<path d="M575.98 183.64L577.42 185.2L575.98 186.76L574.54 185.2Z" fill="#a862e4"/>
<path d="M578.38 198.74L579.82 200.3L578.38 201.86L576.94 200.3Z" fill="#a862e4"/>
<path d="M580.78 196.24L582.22 197.8L580.78 199.36L579.34 197.8Z" fill="#a862e4"/>
<path d="M583.17 196.24L584.62 197.8L583.17 199.36L581.73 197.8Z" fill="#a862e4"/>
<path d="M585.57 198.74L587.01 200.3L585.57 201.86L584.13 200.3Z" fill="#a862e4"/>
<path d="M587.97 204.44L589.41 206L587.97 207.56L586.53 206Z" fill="#a862e4"/>
<path d="M590.37 203.14L591.81 204.7L590.37 206.26L588.93 204.7Z" fill="#a862e4"/>
<path d="M592.76 200.04L594.2 201.6L592.76 203.16L591.32 201.6Z" fill="#a862e4"/>
<path d="M595.16 201.24L596.6 202.8L595.16 204.36L593.72 202.8Z" fill="#a862e4"/>
<path d="M597.56 201.24L599 202.8L597.56 204.36L596.12 202.8Z" fill="#a862e4"/>
<path d="M599.95 208.14L601.39 209.7L599.95 211.26L598.51 209.7Z" fill="#a862e4"/>
<path d="M602.35 204.44L603.79 206L602.35 207.56L600.91 206Z" fill="#a862e4"/>
<path d="M604.75 201.84L606.19 203.4L604.75 204.96L603.31 203.4Z" fill="#a862e4"/>
<path d="M607.14 203.14L608.59 204.7L607.14 206.26L605.7 204.7Z" fill="#a862e4"/>
<path d="M609.54 203.14L610.98 204.7L609.54 206.26L608.1 204.7Z" fill="#a862e4"/>
<path d="M611.94 202.54L613.38 204.1L611.94 205.66L610.5 204.1Z" fill="#a862e4"/>
<path d="M614.34 197.54L615.78 199.1L614.34 200.66L612.9 199.1Z" fill="#a862e4"/>
<path d="M616.73 203.74L618.17 205.3L616.73 206.86L615.29 205.3Z" fill="#a862e4"/>
<path d="M619.13 199.34L620.57 200.9L619.13 202.46L617.69 200.9Z" fill="#a862e4"/>
<path d="M621.53 202.54L622.97 204.1L621.53 205.66L620.09 204.1Z" fill="#a862e4"/>
<path d="M623.92 205.04L625.36 206.6L623.92 208.16L622.48 206.6Z" fill="#a862e4"/>
<path d="M626.32 205.64L627.76 207.2L626.32 208.76L624.88 207.2Z" fill="#a862e4"/>
<path d="M628.72 203.74L630.16 205.3L628.72 206.86L627.28 205.3Z" fill="#a862e4"/>
<path d="M631.12 194.94L632.56 196.5L631.12 198.06L629.67 196.5Z" fill="#a862e4"/>
<path d="M633.51 210.64L634.95 212.2L633.51 213.76L632.07 212.2Z" fill="#a862e4"/>
<path d="M635.91 206.94L637.35 208.5L635.91 210.06L634.47 208.5Z" fill="#a862e4"/>
<path d="M638.31 207.54L639.75 209.1L638.31 210.66L636.87 209.1Z" fill="#a862e4"/>
<path d="M640.7 205.04L642.14 206.6L640.7 208.16L639.26 206.6Z" fill="#a862e4"/>
</g>
<path d="M379.43 3.95V236.05H667.07" fill="none" stroke="#1a1a1a" stroke-width="1.1"/>
<text x="372.63" y="228.81" font-size="9.2" text-anchor="end">0.2</text>
<text x="372.63" y="207.71" font-size="9.2" text-anchor="end">0.4</text>
<text x="372.63" y="186.61" font-size="9.2" text-anchor="end">0.6</text>
<text x="372.63" y="165.51" font-size="9.2" text-anchor="end">0.8</text>
<text x="372.63" y="144.41" font-size="9.2" text-anchor="end">1.0</text>
<text x="372.63" y="123.31" font-size="9.2" text-anchor="end">1.2</text>
<text x="372.63" y="102.21" font-size="9.2" text-anchor="end">1.4</text>
<text x="372.63" y="81.11" font-size="9.2" text-anchor="end">1.6</text>
<text x="372.63" y="60.01" font-size="9.2" text-anchor="end">1.8</text>
<text x="372.63" y="38.91" font-size="9.2" text-anchor="end">2.0</text>
<text x="372.63" y="17.81" font-size="9.2" text-anchor="end">2.2</text>
<text x="403.4" y="252.8" font-size="9.2" text-anchor="middle">0</text>
<text x="451.34" y="252.8" font-size="9.2" text-anchor="middle">20</text>
<text x="499.28" y="252.8" font-size="9.2" text-anchor="middle">40</text>
<text x="547.22" y="252.8" font-size="9.2" text-anchor="middle">60</text>
<text x="595.16" y="252.8" font-size="9.2" text-anchor="middle">80</text>
<text x="643.1" y="252.8" font-size="9.2" text-anchor="middle">100</text>
<path d="M377.13 236.05H379.43M375.43 225.5H379.43M377.13 214.95H379.43M375.43 204.4H379.43M377.13 193.85H379.43M375.43 183.3H379.43M377.13 172.75H379.43M375.43 162.2H379.43M377.13 151.65H379.43M375.43 141.1H379.43M377.13 130.55H379.43M375.43 120H379.43M377.13 109.45H379.43M375.43 98.9H379.43M377.13 88.35H379.43M375.43 77.8H379.43M377.13 67.25H379.43M375.43 56.7H379.43M377.13 46.15H379.43M375.43 35.6H379.43M377.13 25.05H379.43M375.43 14.5H379.43M377.13 3.95H379.43M379.43 236.05V238.35M403.4 236.05V240.05M427.37 236.05V238.35M451.34 236.05V240.05M475.31 236.05V238.35M499.28 236.05V240.05M523.25 236.05V238.35M547.22 236.05V240.05M571.19 236.05V238.35M595.16 236.05V240.05M619.13 236.05V238.35M643.1 236.05V240.05M667.07 236.05V238.35" stroke="#1a1a1a" stroke-width="1"/>
<text transform="translate(354.6,120.4) rotate(-90)" font-size="11.2" text-anchor="middle">Training loss</text>
<text x="523.25" y="268.6" font-size="10.7" text-anchor="middle"># Round</text>
<text x="523.9" y="290.6" font-size="14.5" text-anchor="middle">Scenario B</text>
<rect x="393.5" y="3.7" width="74.8" height="68.4" fill="#fff" stroke="#b4b4b4" stroke-width="0.8"/>
<g class="bl">
<line x1="395.2" y1="11.2" x2="419.3" y2="11.2" stroke="#5a5a5a" stroke-width="1.6"/>
<rect x="406.15" y="10.1" width="2.2" height="2.2" fill="#383838"/>
<line x1="395.2" y1="25.5" x2="419.3" y2="25.5" stroke="#e05a5a" stroke-width="1.6"/>
<circle cx="407.25" cy="25.5" r="1.16" fill="#e42e2e"/>
<line x1="395.2" y1="38.4" x2="419.3" y2="38.4" stroke="#7aa6e6" stroke-width="1.6"/>
<path d="M407.25 36.97L408.57 39.5L405.93 39.5Z" fill="#2060d8"/>
<line x1="395.2" y1="52.1" x2="419.3" y2="52.1" stroke="#3fa872" stroke-width="1.6"/>
<path d="M407.25 53.53L408.57 51L405.93 51Z" fill="#279a58"/>
<line x1="395.2" y1="65.4" x2="419.3" y2="65.4" stroke="#b889ee" stroke-width="1.6"/>
<path d="M407.25 63.97L408.57 65.4L407.25 66.83L405.93 65.4Z" fill="#a862e4"/>
</g>
<text x="423.4" y="15.59" font-size="10.8">FedAvg</text>
<text x="423.4" y="29.89" font-size="10.8">FedProx</text>
<text x="423.4" y="42.79" font-size="10.8">Scaffold</text>
<text x="423.4" y="56.49" font-size="10.8">FedNova</text>
<text x="423.4" y="69.79" font-size="10.8">FedOcw</text>
</g>
<g id="pC">
<g class="bl">
<polyline points="66.5,517.3 69,501.6 71.5,514.2 74,519.2 76.5,513.6 78.99,509 81.49,499.7 83.99,506.6 86.49,504.8 88.99,500.4 91.49,494.1 93.99,491 96.49,494.7 98.99,486.6 101.48,490.3 103.98,476.5 106.48,476.5 108.98,481.5 111.48,488.4 113.98,472.1 116.48,469.6 118.98,472.8 121.48,469 123.98,464.6 126.47,462.1 128.97,465.8 131.47,457.7 133.97,479 136.47,473.4 138.97,455.2 141.47,458.3 143.97,466.5 146.47,455 148.97,450.9 151.47,449 153.96,453.4 156.46,467.9 158.96,457.2 161.46,451.5 163.96,446.5 166.46,445.3 168.96,439.6 171.46,446.5 173.96,445.9 176.45,442.8 178.95,445.3 181.45,435.2 183.95,424.5 186.45,440.9 188.95,437.1 191.45,437.7 193.95,442.1 196.45,426.4 198.95,428.9 201.44,424.5 203.94,435.8 206.44,419.5 208.94,443 211.44,421.6 213.94,438 216.44,432 218.94,434 221.44,426.2 223.94,430.5 226.44,431.7 228.93,429.1 231.43,416 233.93,422.6 236.43,427.2 238.93,415.8 241.43,410.4 243.93,400.2 246.43,414 248.93,402.1 251.43,400.8 253.92,409 256.42,402.7 258.92,413.4 261.42,398.9 263.92,417.8 266.42,405.8 268.92,416.5 271.42,421.5 273.92,426.6 276.42,430.3 278.91,413.4 281.41,402.7 283.91,403.3 286.41,399.6 288.91,407.7 291.41,373.8 293.91,366.9 296.41,385.8 298.91,403.3 301.4,387 303.9,378.9 306.4,398.3 308.9,387.6 311.4,393.9" fill="none" stroke="#4c4c4c" stroke-width="1.0" stroke-linejoin="round"/>
<rect x="65.3" y="516.1" width="2.4" height="2.4" fill="#383838"/>
<rect x="67.8" y="500.4" width="2.4" height="2.4" fill="#383838"/>
<rect x="70.3" y="513" width="2.4" height="2.4" fill="#383838"/>
<rect x="72.8" y="518" width="2.4" height="2.4" fill="#383838"/>
<rect x="75.3" y="512.4" width="2.4" height="2.4" fill="#383838"/>
<rect x="77.79" y="507.8" width="2.4" height="2.4" fill="#383838"/>
<rect x="80.29" y="498.5" width="2.4" height="2.4" fill="#383838"/>
<rect x="82.79" y="505.4" width="2.4" height="2.4" fill="#383838"/>
<rect x="85.29" y="503.6" width="2.4" height="2.4" fill="#383838"/>
<rect x="87.79" y="499.2" width="2.4" height="2.4" fill="#383838"/>
<rect x="90.29" y="492.9" width="2.4" height="2.4" fill="#383838"/>
<rect x="92.79" y="489.8" width="2.4" height="2.4" fill="#383838"/>
<rect x="95.29" y="493.5" width="2.4" height="2.4" fill="#383838"/>
<rect x="97.79" y="485.4" width="2.4" height="2.4" fill="#383838"/>
<rect x="100.28" y="489.1" width="2.4" height="2.4" fill="#383838"/>
<rect x="102.78" y="475.3" width="2.4" height="2.4" fill="#383838"/>
<rect x="105.28" y="475.3" width="2.4" height="2.4" fill="#383838"/>
<rect x="107.78" y="480.3" width="2.4" height="2.4" fill="#383838"/>
<rect x="110.28" y="487.2" width="2.4" height="2.4" fill="#383838"/>
<rect x="112.78" y="470.9" width="2.4" height="2.4" fill="#383838"/>
<rect x="115.28" y="468.4" width="2.4" height="2.4" fill="#383838"/>
<rect x="117.78" y="471.6" width="2.4" height="2.4" fill="#383838"/>
<rect x="120.28" y="467.8" width="2.4" height="2.4" fill="#383838"/>
<rect x="122.78" y="463.4" width="2.4" height="2.4" fill="#383838"/>
<rect x="125.27" y="460.9" width="2.4" height="2.4" fill="#383838"/>
<rect x="127.77" y="464.6" width="2.4" height="2.4" fill="#383838"/>
<rect x="130.27" y="456.5" width="2.4" height="2.4" fill="#383838"/>
<rect x="132.77" y="477.8" width="2.4" height="2.4" fill="#383838"/>
<rect x="135.27" y="472.2" width="2.4" height="2.4" fill="#383838"/>
<rect x="137.77" y="454" width="2.4" height="2.4" fill="#383838"/>
<rect x="140.27" y="457.1" width="2.4" height="2.4" fill="#383838"/>
<rect x="142.77" y="465.3" width="2.4" height="2.4" fill="#383838"/>
<rect x="145.27" y="453.8" width="2.4" height="2.4" fill="#383838"/>
<rect x="147.77" y="449.7" width="2.4" height="2.4" fill="#383838"/>
<rect x="150.27" y="447.8" width="2.4" height="2.4" fill="#383838"/>
<rect x="152.76" y="452.2" width="2.4" height="2.4" fill="#383838"/>
<rect x="155.26" y="466.7" width="2.4" height="2.4" fill="#383838"/>
<rect x="157.76" y="456" width="2.4" height="2.4" fill="#383838"/>
<rect x="160.26" y="450.3" width="2.4" height="2.4" fill="#383838"/>
<rect x="162.76" y="445.3" width="2.4" height="2.4" fill="#383838"/>
<rect x="165.26" y="444.1" width="2.4" height="2.4" fill="#383838"/>
<rect x="167.76" y="438.4" width="2.4" height="2.4" fill="#383838"/>
<rect x="170.26" y="445.3" width="2.4" height="2.4" fill="#383838"/>
<rect x="172.76" y="444.7" width="2.4" height="2.4" fill="#383838"/>
<rect x="175.25" y="441.6" width="2.4" height="2.4" fill="#383838"/>
<rect x="177.75" y="444.1" width="2.4" height="2.4" fill="#383838"/>
<rect x="180.25" y="434" width="2.4" height="2.4" fill="#383838"/>
<rect x="182.75" y="423.3" width="2.4" height="2.4" fill="#383838"/>
<rect x="185.25" y="439.7" width="2.4" height="2.4" fill="#383838"/>
<rect x="187.75" y="435.9" width="2.4" height="2.4" fill="#383838"/>
<rect x="190.25" y="436.5" width="2.4" height="2.4" fill="#383838"/>
<rect x="192.75" y="440.9" width="2.4" height="2.4" fill="#383838"/>
<rect x="195.25" y="425.2" width="2.4" height="2.4" fill="#383838"/>
<rect x="197.75" y="427.7" width="2.4" height="2.4" fill="#383838"/>
<rect x="200.25" y="423.3" width="2.4" height="2.4" fill="#383838"/>
<rect x="202.74" y="434.6" width="2.4" height="2.4" fill="#383838"/>
<rect x="205.24" y="418.3" width="2.4" height="2.4" fill="#383838"/>
<rect x="207.74" y="441.8" width="2.4" height="2.4" fill="#383838"/>
<rect x="210.24" y="420.4" width="2.4" height="2.4" fill="#383838"/>
<rect x="212.74" y="436.8" width="2.4" height="2.4" fill="#383838"/>
<rect x="215.24" y="430.8" width="2.4" height="2.4" fill="#383838"/>
<rect x="217.74" y="432.8" width="2.4" height="2.4" fill="#383838"/>
<rect x="220.24" y="425" width="2.4" height="2.4" fill="#383838"/>
<rect x="222.74" y="429.3" width="2.4" height="2.4" fill="#383838"/>
<rect x="225.24" y="430.5" width="2.4" height="2.4" fill="#383838"/>
<rect x="227.73" y="427.9" width="2.4" height="2.4" fill="#383838"/>
<rect x="230.23" y="414.8" width="2.4" height="2.4" fill="#383838"/>
<rect x="232.73" y="421.4" width="2.4" height="2.4" fill="#383838"/>
<rect x="235.23" y="426" width="2.4" height="2.4" fill="#383838"/>
<rect x="237.73" y="414.6" width="2.4" height="2.4" fill="#383838"/>
<rect x="240.23" y="409.2" width="2.4" height="2.4" fill="#383838"/>
<rect x="242.73" y="399" width="2.4" height="2.4" fill="#383838"/>
<rect x="245.23" y="412.8" width="2.4" height="2.4" fill="#383838"/>
<rect x="247.73" y="400.9" width="2.4" height="2.4" fill="#383838"/>
<rect x="250.23" y="399.6" width="2.4" height="2.4" fill="#383838"/>
<rect x="252.72" y="407.8" width="2.4" height="2.4" fill="#383838"/>
<rect x="255.22" y="401.5" width="2.4" height="2.4" fill="#383838"/>
<rect x="257.72" y="412.2" width="2.4" height="2.4" fill="#383838"/>
<rect x="260.22" y="397.7" width="2.4" height="2.4" fill="#383838"/>
<rect x="262.72" y="416.6" width="2.4" height="2.4" fill="#383838"/>
<rect x="265.22" y="404.6" width="2.4" height="2.4" fill="#383838"/>
<rect x="267.72" y="415.3" width="2.4" height="2.4" fill="#383838"/>
<rect x="270.22" y="420.3" width="2.4" height="2.4" fill="#383838"/>
<rect x="272.72" y="425.4" width="2.4" height="2.4" fill="#383838"/>
<rect x="275.22" y="429.1" width="2.4" height="2.4" fill="#383838"/>
<rect x="277.71" y="412.2" width="2.4" height="2.4" fill="#383838"/>
<rect x="280.21" y="401.5" width="2.4" height="2.4" fill="#383838"/>
<rect x="282.71" y="402.1" width="2.4" height="2.4" fill="#383838"/>
<rect x="285.21" y="398.4" width="2.4" height="2.4" fill="#383838"/>
<rect x="287.71" y="406.5" width="2.4" height="2.4" fill="#383838"/>
<rect x="290.21" y="372.6" width="2.4" height="2.4" fill="#383838"/>
<rect x="292.71" y="365.7" width="2.4" height="2.4" fill="#383838"/>
<rect x="295.21" y="384.6" width="2.4" height="2.4" fill="#383838"/>
<rect x="297.71" y="402.1" width="2.4" height="2.4" fill="#383838"/>
<rect x="300.2" y="385.8" width="2.4" height="2.4" fill="#383838"/>
<rect x="302.7" y="377.7" width="2.4" height="2.4" fill="#383838"/>
<rect x="305.2" y="397.1" width="2.4" height="2.4" fill="#383838"/>
<rect x="307.7" y="386.4" width="2.4" height="2.4" fill="#383838"/>
<rect x="310.2" y="392.7" width="2.4" height="2.4" fill="#383838"/>
<polyline points="66.5,506 69,518.5 71.5,525.7 74,522 76.5,520 78.99,520.4 81.49,523.3 83.99,523.5 86.49,519.6 88.99,507 91.49,495.9 93.99,514.8 96.49,508.4 98.99,498.5 101.48,501.6 103.98,508.5 106.48,505.4 108.98,504.8 111.48,492.8 113.98,490.3 116.48,497.2 118.98,490.3 121.48,499.1 123.98,484 126.47,500.4 128.97,502.9 131.47,487.8 133.97,490.3 136.47,482.2 138.97,486.6 141.47,491.6 143.97,487.2 146.47,492.3 148.97,488 151.47,480 153.96,482.4 156.46,498 158.96,481.8 161.46,500 163.96,496.2 166.46,501.3 168.96,497.5 171.46,503 173.96,489.3 176.45,486.2 178.95,488.7 181.45,474.8 183.95,470.4 186.45,477.9 188.95,479.2 191.45,459.1 193.95,482.9 196.45,476.6 198.95,471.6 201.44,486.7 203.94,469.7 206.44,472.9 208.94,478.5 211.44,480.4 213.94,488 216.44,476 218.94,487.3 221.44,496.1 223.94,494.9 226.44,498 228.93,487.6 231.43,484.5 233.93,480.7 236.43,476.3 238.93,493.3 241.43,473.8 243.93,487 246.43,497.7 248.93,495.8 251.43,468.2 253.92,484.5 256.42,476.3 258.92,478.9 261.42,478.2 263.92,475.1 266.42,482 268.92,485.1 271.42,487.6 273.92,482 276.42,493.9 278.91,504 281.41,481.4 283.91,482 286.41,469.4 288.91,478.9 291.41,487.6 293.91,478.2 296.41,469.4 298.91,468.8 301.4,455.6 303.9,472.6 306.4,471.3 308.9,458.8 311.4,458.1" fill="none" stroke="#e63c3c" stroke-width="1.0" stroke-linejoin="round"/>
<circle cx="66.5" cy="506" r="1.26" fill="#e42e2e"/>
<circle cx="69" cy="518.5" r="1.26" fill="#e42e2e"/>
<circle cx="71.5" cy="525.7" r="1.26" fill="#e42e2e"/>
<circle cx="74" cy="522" r="1.26" fill="#e42e2e"/>
<circle cx="76.5" cy="520" r="1.26" fill="#e42e2e"/>
<circle cx="78.99" cy="520.4" r="1.26" fill="#e42e2e"/>
<circle cx="81.49" cy="523.3" r="1.26" fill="#e42e2e"/>
<circle cx="83.99" cy="523.5" r="1.26" fill="#e42e2e"/>
<circle cx="86.49" cy="519.6" r="1.26" fill="#e42e2e"/>
<circle cx="88.99" cy="507" r="1.26" fill="#e42e2e"/>
<circle cx="91.49" cy="495.9" r="1.26" fill="#e42e2e"/>
<circle cx="93.99" cy="514.8" r="1.26" fill="#e42e2e"/>
<circle cx="96.49" cy="508.4" r="1.26" fill="#e42e2e"/>
<circle cx="98.99" cy="498.5" r="1.26" fill="#e42e2e"/>
<circle cx="101.48" cy="501.6" r="1.26" fill="#e42e2e"/>
<circle cx="103.98" cy="508.5" r="1.26" fill="#e42e2e"/>
<circle cx="106.48" cy="505.4" r="1.26" fill="#e42e2e"/>
<circle cx="108.98" cy="504.8" r="1.26" fill="#e42e2e"/>
<circle cx="111.48" cy="492.8" r="1.26" fill="#e42e2e"/>
<circle cx="113.98" cy="490.3" r="1.26" fill="#e42e2e"/>
<circle cx="116.48" cy="497.2" r="1.26" fill="#e42e2e"/>
<circle cx="118.98" cy="490.3" r="1.26" fill="#e42e2e"/>
<circle cx="121.48" cy="499.1" r="1.26" fill="#e42e2e"/>
<circle cx="123.98" cy="484" r="1.26" fill="#e42e2e"/>
<circle cx="126.47" cy="500.4" r="1.26" fill="#e42e2e"/>
<circle cx="128.97" cy="502.9" r="1.26" fill="#e42e2e"/>
<circle cx="131.47" cy="487.8" r="1.26" fill="#e42e2e"/>
<circle cx="133.97" cy="490.3" r="1.26" fill="#e42e2e"/>
<circle cx="136.47" cy="482.2" r="1.26" fill="#e42e2e"/>
<circle cx="138.97" cy="486.6" r="1.26" fill="#e42e2e"/>
<circle cx="141.47" cy="491.6" r="1.26" fill="#e42e2e"/>
<circle cx="143.97" cy="487.2" r="1.26" fill="#e42e2e"/>
<circle cx="146.47" cy="492.3" r="1.26" fill="#e42e2e"/>
<circle cx="148.97" cy="488" r="1.26" fill="#e42e2e"/>
<circle cx="151.47" cy="480" r="1.26" fill="#e42e2e"/>
<circle cx="153.96" cy="482.4" r="1.26" fill="#e42e2e"/>
<circle cx="156.46" cy="498" r="1.26" fill="#e42e2e"/>
<circle cx="158.96" cy="481.8" r="1.26" fill="#e42e2e"/>
<circle cx="161.46" cy="500" r="1.26" fill="#e42e2e"/>
<circle cx="163.96" cy="496.2" r="1.26" fill="#e42e2e"/>
<circle cx="166.46" cy="501.3" r="1.26" fill="#e42e2e"/>
<circle cx="168.96" cy="497.5" r="1.26" fill="#e42e2e"/>
<circle cx="171.46" cy="503" r="1.26" fill="#e42e2e"/>
<circle cx="173.96" cy="489.3" r="1.26" fill="#e42e2e"/>
<circle cx="176.45" cy="486.2" r="1.26" fill="#e42e2e"/>
<circle cx="178.95" cy="488.7" r="1.26" fill="#e42e2e"/>
<circle cx="181.45" cy="474.8" r="1.26" fill="#e42e2e"/>
<circle cx="183.95" cy="470.4" r="1.26" fill="#e42e2e"/>
<circle cx="186.45" cy="477.9" r="1.26" fill="#e42e2e"/>
<circle cx="188.95" cy="479.2" r="1.26" fill="#e42e2e"/>
<circle cx="191.45" cy="459.1" r="1.26" fill="#e42e2e"/>
<circle cx="193.95" cy="482.9" r="1.26" fill="#e42e2e"/>
<circle cx="196.45" cy="476.6" r="1.26" fill="#e42e2e"/>
<circle cx="198.95" cy="471.6" r="1.26" fill="#e42e2e"/>
<circle cx="201.44" cy="486.7" r="1.26" fill="#e42e2e"/>
<circle cx="203.94" cy="469.7" r="1.26" fill="#e42e2e"/>
<circle cx="206.44" cy="472.9" r="1.26" fill="#e42e2e"/>
<circle cx="208.94" cy="478.5" r="1.26" fill="#e42e2e"/>
<circle cx="211.44" cy="480.4" r="1.26" fill="#e42e2e"/>
<circle cx="213.94" cy="488" r="1.26" fill="#e42e2e"/>
<circle cx="216.44" cy="476" r="1.26" fill="#e42e2e"/>
<circle cx="218.94" cy="487.3" r="1.26" fill="#e42e2e"/>
<circle cx="221.44" cy="496.1" r="1.26" fill="#e42e2e"/>
<circle cx="223.94" cy="494.9" r="1.26" fill="#e42e2e"/>
<circle cx="226.44" cy="498" r="1.26" fill="#e42e2e"/>
<circle cx="228.93" cy="487.6" r="1.26" fill="#e42e2e"/>
<circle cx="231.43" cy="484.5" r="1.26" fill="#e42e2e"/>
<circle cx="233.93" cy="480.7" r="1.26" fill="#e42e2e"/>
<circle cx="236.43" cy="476.3" r="1.26" fill="#e42e2e"/>
<circle cx="238.93" cy="493.3" r="1.26" fill="#e42e2e"/>
<circle cx="241.43" cy="473.8" r="1.26" fill="#e42e2e"/>
<circle cx="243.93" cy="487" r="1.26" fill="#e42e2e"/>
<circle cx="246.43" cy="497.7" r="1.26" fill="#e42e2e"/>
<circle cx="248.93" cy="495.8" r="1.26" fill="#e42e2e"/>
<circle cx="251.43" cy="468.2" r="1.26" fill="#e42e2e"/>
<circle cx="253.92" cy="484.5" r="1.26" fill="#e42e2e"/>
<circle cx="256.42" cy="476.3" r="1.26" fill="#e42e2e"/>
<circle cx="258.92" cy="478.9" r="1.26" fill="#e42e2e"/>
<circle cx="261.42" cy="478.2" r="1.26" fill="#e42e2e"/>
<circle cx="263.92" cy="475.1" r="1.26" fill="#e42e2e"/>
<circle cx="266.42" cy="482" r="1.26" fill="#e42e2e"/>
<circle cx="268.92" cy="485.1" r="1.26" fill="#e42e2e"/>
<circle cx="271.42" cy="487.6" r="1.26" fill="#e42e2e"/>
<circle cx="273.92" cy="482" r="1.26" fill="#e42e2e"/>
<circle cx="276.42" cy="493.9" r="1.26" fill="#e42e2e"/>
<circle cx="278.91" cy="504" r="1.26" fill="#e42e2e"/>
<circle cx="281.41" cy="481.4" r="1.26" fill="#e42e2e"/>
<circle cx="283.91" cy="482" r="1.26" fill="#e42e2e"/>
<circle cx="286.41" cy="469.4" r="1.26" fill="#e42e2e"/>
<circle cx="288.91" cy="478.9" r="1.26" fill="#e42e2e"/>
<circle cx="291.41" cy="487.6" r="1.26" fill="#e42e2e"/>
<circle cx="293.91" cy="478.2" r="1.26" fill="#e42e2e"/>
<circle cx="296.41" cy="469.4" r="1.26" fill="#e42e2e"/>
<circle cx="298.91" cy="468.8" r="1.26" fill="#e42e2e"/>
<circle cx="301.4" cy="455.6" r="1.26" fill="#e42e2e"/>
<circle cx="303.9" cy="472.6" r="1.26" fill="#e42e2e"/>
<circle cx="306.4" cy="471.3" r="1.26" fill="#e42e2e"/>
<circle cx="308.9" cy="458.8" r="1.26" fill="#e42e2e"/>
<circle cx="311.4" cy="458.1" r="1.26" fill="#e42e2e"/>
<polyline points="66.5,508.6 69,511.3 71.5,529.5 74,535.5 76.5,535.2 78.99,529.5 81.49,527.8 83.99,524.9 86.49,525.8 88.99,524.7 91.49,521.3 93.99,518.9 96.49,517.7 98.99,523.4 101.48,515.6 103.98,520.2 106.48,522.1 108.98,524.6 111.48,522.1 113.98,517 116.48,518.9 118.98,522.7 121.48,525.8 123.98,521.4 126.47,516.4 128.97,522.1 131.47,523.3 133.97,521.4 136.47,520.8 138.97,520.2 141.47,513.9 143.97,512.6 146.47,513.3 148.97,513.3 151.47,517.7 153.96,517.7 156.46,520.8 158.96,518.3 161.46,515.8 163.96,516.4 166.46,511.4 168.96,518.9 171.46,517 173.96,513.9 176.45,515.8 178.95,518.9 181.45,513.9 183.95,514.5 186.45,509.5 188.95,509.9 191.45,510.1 193.95,509.1 196.45,508.9 198.95,515.8 201.44,513.3 203.94,513.9 206.44,511.4 208.94,512.9 211.44,516.7 213.94,513.9 216.44,510.8 218.94,515.2 221.44,509.9 223.94,512 226.44,508.9 228.93,512.8 231.43,512.1 233.93,515.3 236.43,521.5 238.93,513.4 241.43,505.8 243.93,510.2 246.43,508.4 248.93,510.9 251.43,505.8 253.92,510.9 256.42,504 258.92,508.4 261.42,506.5 263.92,509 266.42,505.8 268.92,510.9 271.42,501.7 273.92,508.4 276.42,513.4 278.91,504.6 281.41,504.6 283.91,509 286.41,504.6 288.91,502.1 291.41,503.3 293.91,504 296.41,505.2 298.91,504.6 301.4,500.8 303.9,502.1 306.4,502.1 308.9,502.7 311.4,496.4" fill="none" stroke="#2b6fe0" stroke-width="1.0" stroke-linejoin="round"/>
<path d="M66.5 507.04L67.94 509.8L65.06 509.8Z" fill="#2060d8"/>
<path d="M69 509.74L70.44 512.5L67.56 512.5Z" fill="#2060d8"/>
<path d="M71.5 527.94L72.94 530.7L70.06 530.7Z" fill="#2060d8"/>
<path d="M74 533.94L75.44 536.7L72.56 536.7Z" fill="#2060d8"/>
<path d="M76.5 533.64L77.94 536.4L75.06 536.4Z" fill="#2060d8"/>
<path d="M78.99 527.94L80.43 530.7L77.55 530.7Z" fill="#2060d8"/>
<path d="M81.49 526.24L82.93 529L80.05 529Z" fill="#2060d8"/>
<path d="M83.99 523.34L85.43 526.1L82.55 526.1Z" fill="#2060d8"/>
<path d="M86.49 524.24L87.93 527L85.05 527Z" fill="#2060d8"/>
<path d="M88.99 523.14L90.43 525.9L87.55 525.9Z" fill="#2060d8"/>
<path d="M91.49 519.74L92.93 522.5L90.05 522.5Z" fill="#2060d8"/>
<path d="M93.99 517.34L95.43 520.1L92.55 520.1Z" fill="#2060d8"/>
<path d="M96.49 516.14L97.93 518.9L95.05 518.9Z" fill="#2060d8"/>
<path d="M98.99 521.84L100.43 524.6L97.55 524.6Z" fill="#2060d8"/>
<path d="M101.48 514.04L102.92 516.8L100.05 516.8Z" fill="#2060d8"/>
<path d="M103.98 518.64L105.42 521.4L102.54 521.4Z" fill="#2060d8"/>
<path d="M106.48 520.54L107.92 523.3L105.04 523.3Z" fill="#2060d8"/>
<path d="M108.98 523.04L110.42 525.8L107.54 525.8Z" fill="#2060d8"/>
<path d="M111.48 520.54L112.92 523.3L110.04 523.3Z" fill="#2060d8"/>
<path d="M113.98 515.44L115.42 518.2L112.54 518.2Z" fill="#2060d8"/>
<path d="M116.48 517.34L117.92 520.1L115.04 520.1Z" fill="#2060d8"/>
<path d="M118.98 521.14L120.42 523.9L117.54 523.9Z" fill="#2060d8"/>
<path d="M121.48 524.24L122.92 527L120.04 527Z" fill="#2060d8"/>
<path d="M123.98 519.84L125.42 522.6L122.54 522.6Z" fill="#2060d8"/>
<path d="M126.47 514.84L127.91 517.6L125.03 517.6Z" fill="#2060d8"/>
<path d="M128.97 520.54L130.41 523.3L127.53 523.3Z" fill="#2060d8"/>
<path d="M131.47 521.74L132.91 524.5L130.03 524.5Z" fill="#2060d8"/>
<path d="M133.97 519.84L135.41 522.6L132.53 522.6Z" fill="#2060d8"/>
<path d="M136.47 519.24L137.91 522L135.03 522Z" fill="#2060d8"/>
<path d="M138.97 518.64L140.41 521.4L137.53 521.4Z" fill="#2060d8"/>
<path d="M141.47 512.34L142.91 515.1L140.03 515.1Z" fill="#2060d8"/>
<path d="M143.97 511.04L145.41 513.8L142.53 513.8Z" fill="#2060d8"/>
<path d="M146.47 511.74L147.91 514.5L145.03 514.5Z" fill="#2060d8"/>
<path d="M148.97 511.74L150.41 514.5L147.53 514.5Z" fill="#2060d8"/>
<path d="M151.47 516.14L152.91 518.9L150.03 518.9Z" fill="#2060d8"/>
<path d="M153.96 516.14L155.4 518.9L152.52 518.9Z" fill="#2060d8"/>
<path d="M156.46 519.24L157.9 522L155.02 522Z" fill="#2060d8"/>
<path d="M158.96 516.74L160.4 519.5L157.52 519.5Z" fill="#2060d8"/>
<path d="M161.46 514.24L162.9 517L160.02 517Z" fill="#2060d8"/>
<path d="M163.96 514.84L165.4 517.6L162.52 517.6Z" fill="#2060d8"/>
<path d="M166.46 509.84L167.9 512.6L165.02 512.6Z" fill="#2060d8"/>
<path d="M168.96 517.34L170.4 520.1L167.52 520.1Z" fill="#2060d8"/>
<path d="M171.46 515.44L172.9 518.2L170.02 518.2Z" fill="#2060d8"/>
<path d="M173.96 512.34L175.4 515.1L172.52 515.1Z" fill="#2060d8"/>
<path d="M176.45 514.24L177.89 517L175.01 517Z" fill="#2060d8"/>
<path d="M178.95 517.34L180.39 520.1L177.51 520.1Z" fill="#2060d8"/>
<path d="M181.45 512.34L182.89 515.1L180.01 515.1Z" fill="#2060d8"/>
<path d="M183.95 512.94L185.39 515.7L182.51 515.7Z" fill="#2060d8"/>
<path d="M186.45 507.94L187.89 510.7L185.01 510.7Z" fill="#2060d8"/>
<path d="M188.95 508.34L190.39 511.1L187.51 511.1Z" fill="#2060d8"/>
<path d="M191.45 508.54L192.89 511.3L190.01 511.3Z" fill="#2060d8"/>
<path d="M193.95 507.54L195.39 510.3L192.51 510.3Z" fill="#2060d8"/>
<path d="M196.45 507.34L197.89 510.1L195.01 510.1Z" fill="#2060d8"/>
<path d="M198.95 514.24L200.39 517L197.51 517Z" fill="#2060d8"/>
<path d="M201.44 511.74L202.88 514.5L200 514.5Z" fill="#2060d8"/>
<path d="M203.94 512.34L205.38 515.1L202.5 515.1Z" fill="#2060d8"/>
<path d="M206.44 509.84L207.88 512.6L205 512.6Z" fill="#2060d8"/>
<path d="M208.94 511.34L210.38 514.1L207.5 514.1Z" fill="#2060d8"/>
<path d="M211.44 515.14L212.88 517.9L210 517.9Z" fill="#2060d8"/>
<path d="M213.94 512.34L215.38 515.1L212.5 515.1Z" fill="#2060d8"/>
<path d="M216.44 509.24L217.88 512L215 512Z" fill="#2060d8"/>
<path d="M218.94 513.64L220.38 516.4L217.5 516.4Z" fill="#2060d8"/>
<path d="M221.44 508.34L222.88 511.1L220 511.1Z" fill="#2060d8"/>
<path d="M223.94 510.44L225.38 513.2L222.5 513.2Z" fill="#2060d8"/>
<path d="M226.44 507.34L227.88 510.1L225 510.1Z" fill="#2060d8"/>
<path d="M228.93 511.24L230.37 514L227.49 514Z" fill="#2060d8"/>
<path d="M231.43 510.54L232.87 513.3L229.99 513.3Z" fill="#2060d8"/>
<path d="M233.93 513.74L235.37 516.5L232.49 516.5Z" fill="#2060d8"/>
<path d="M236.43 519.94L237.87 522.7L234.99 522.7Z" fill="#2060d8"/>
<path d="M238.93 511.84L240.37 514.6L237.49 514.6Z" fill="#2060d8"/>
<path d="M241.43 504.24L242.87 507L239.99 507Z" fill="#2060d8"/>
<path d="M243.93 508.64L245.37 511.4L242.49 511.4Z" fill="#2060d8"/>
<path d="M246.43 506.84L247.87 509.6L244.99 509.6Z" fill="#2060d8"/>
<path d="M248.93 509.34L250.37 512.1L247.49 512.1Z" fill="#2060d8"/>
<path d="M251.43 504.24L252.87 507L249.99 507Z" fill="#2060d8"/>
<path d="M253.92 509.34L255.36 512.1L252.48 512.1Z" fill="#2060d8"/>
<path d="M256.42 502.44L257.86 505.2L254.98 505.2Z" fill="#2060d8"/>
<path d="M258.92 506.84L260.36 509.6L257.48 509.6Z" fill="#2060d8"/>
<path d="M261.42 504.94L262.86 507.7L259.98 507.7Z" fill="#2060d8"/>
<path d="M263.92 507.44L265.36 510.2L262.48 510.2Z" fill="#2060d8"/>
<path d="M266.42 504.24L267.86 507L264.98 507Z" fill="#2060d8"/>
<path d="M268.92 509.34L270.36 512.1L267.48 512.1Z" fill="#2060d8"/>
<path d="M271.42 500.14L272.86 502.9L269.98 502.9Z" fill="#2060d8"/>
<path d="M273.92 506.84L275.36 509.6L272.48 509.6Z" fill="#2060d8"/>
<path d="M276.42 511.84L277.86 514.6L274.98 514.6Z" fill="#2060d8"/>
<path d="M278.91 503.04L280.35 505.8L277.47 505.8Z" fill="#2060d8"/>
<path d="M281.41 503.04L282.85 505.8L279.97 505.8Z" fill="#2060d8"/>
<path d="M283.91 507.44L285.35 510.2L282.47 510.2Z" fill="#2060d8"/>
<path d="M286.41 503.04L287.85 505.8L284.97 505.8Z" fill="#2060d8"/>
<path d="M288.91 500.54L290.35 503.3L287.47 503.3Z" fill="#2060d8"/>
<path d="M291.41 501.74L292.85 504.5L289.97 504.5Z" fill="#2060d8"/>
<path d="M293.91 502.44L295.35 505.2L292.47 505.2Z" fill="#2060d8"/>
<path d="M296.41 503.64L297.85 506.4L294.97 506.4Z" fill="#2060d8"/>
<path d="M298.91 503.04L300.35 505.8L297.47 505.8Z" fill="#2060d8"/>
<path d="M301.4 499.24L302.84 502L299.96 502Z" fill="#2060d8"/>
<path d="M303.9 500.54L305.34 503.3L302.46 503.3Z" fill="#2060d8"/>
<path d="M306.4 500.54L307.84 503.3L304.96 503.3Z" fill="#2060d8"/>
<path d="M308.9 501.14L310.34 503.9L307.46 503.9Z" fill="#2060d8"/>
<path d="M311.4 494.84L312.84 497.6L309.96 497.6Z" fill="#2060d8"/>
<path d="M74 536.16L75.44 533.4L72.56 533.4Z" fill="#279a58"/>
<polyline points="78.99,524.7 81.49,515 83.99,506.6 86.49,503.1 88.99,505.4 91.49,505 93.99,507 96.49,420.6 98.99,485.3 101.48,501.6 103.98,496.6 106.48,488 108.98,480.3 111.48,497.9 113.98,485.9 116.48,435.7 118.98,483.4 121.48,437 123.98,480.3 126.47,476.5 128.97,445.1 131.47,482.2 133.97,470 136.47,465 138.97,435.1 141.47,465.2 143.97,445.1 146.47,457 148.97,452 151.47,454 153.96,452 156.46,457.2 158.96,448.4 161.46,454.7 163.96,432.7 166.46,444 168.96,443 171.46,449.7 173.96,449.5 176.45,449 178.95,432.7 181.45,438.4 183.95,433 186.45,436 188.95,427.7 191.45,420.2 193.95,452.8 196.45,428.3 198.95,414.5 201.44,417.6 203.94,427 206.44,437 208.94,441.7 211.44,416.6 213.94,426 216.44,458 218.94,423.6 221.44,433 223.94,420.7 226.44,420.1 228.93,434.1 231.43,423.4 233.93,397.7 236.43,412.8 238.93,387.6 241.43,393.9 243.93,418.4 246.43,399.6 248.93,410 251.43,386.4 253.92,410.2 256.42,417.8 258.92,399.6 261.42,403 263.92,408 266.42,395.8 268.92,415.3 271.42,418 273.92,419.7 276.42,420.3 278.91,395.2 281.41,391.4 283.91,406.5 286.41,395.2 288.91,391.4 291.41,390.2 293.91,392 296.41,398.3 298.91,415.9 301.4,399.6 303.9,402.7 306.4,415.3 308.9,400.2 311.4,398.3" fill="none" stroke="#33a865" stroke-width="1.0" stroke-linejoin="round"/>
<path d="M78.99 526.26L80.43 523.5L77.55 523.5Z" fill="#279a58"/>
<path d="M81.49 516.56L82.93 513.8L80.05 513.8Z" fill="#279a58"/>
<path d="M83.99 508.16L85.43 505.4L82.55 505.4Z" fill="#279a58"/>
<path d="M86.49 504.66L87.93 501.9L85.05 501.9Z" fill="#279a58"/>
<path d="M88.99 506.96L90.43 504.2L87.55 504.2Z" fill="#279a58"/>
<path d="M91.49 506.56L92.93 503.8L90.05 503.8Z" fill="#279a58"/>
<path d="M93.99 508.56L95.43 505.8L92.55 505.8Z" fill="#279a58"/>
<path d="M96.49 422.16L97.93 419.4L95.05 419.4Z" fill="#279a58"/>
<path d="M98.99 486.86L100.43 484.1L97.55 484.1Z" fill="#279a58"/>
<path d="M101.48 503.16L102.92 500.4L100.05 500.4Z" fill="#279a58"/>
<path d="M103.98 498.16L105.42 495.4L102.54 495.4Z" fill="#279a58"/>
<path d="M106.48 489.56L107.92 486.8L105.04 486.8Z" fill="#279a58"/>
<path d="M108.98 481.86L110.42 479.1L107.54 479.1Z" fill="#279a58"/>
<path d="M111.48 499.46L112.92 496.7L110.04 496.7Z" fill="#279a58"/>
<path d="M113.98 487.46L115.42 484.7L112.54 484.7Z" fill="#279a58"/>
<path d="M116.48 437.26L117.92 434.5L115.04 434.5Z" fill="#279a58"/>
<path d="M118.98 484.96L120.42 482.2L117.54 482.2Z" fill="#279a58"/>
<path d="M121.48 438.56L122.92 435.8L120.04 435.8Z" fill="#279a58"/>
<path d="M123.98 481.86L125.42 479.1L122.54 479.1Z" fill="#279a58"/>
<path d="M126.47 478.06L127.91 475.3L125.03 475.3Z" fill="#279a58"/>
<path d="M128.97 446.66L130.41 443.9L127.53 443.9Z" fill="#279a58"/>
<path d="M131.47 483.76L132.91 481L130.03 481Z" fill="#279a58"/>
<path d="M133.97 471.56L135.41 468.8L132.53 468.8Z" fill="#279a58"/>
<path d="M136.47 466.56L137.91 463.8L135.03 463.8Z" fill="#279a58"/>
<path d="M138.97 436.66L140.41 433.9L137.53 433.9Z" fill="#279a58"/>
<path d="M141.47 466.76L142.91 464L140.03 464Z" fill="#279a58"/>
<path d="M143.97 446.66L145.41 443.9L142.53 443.9Z" fill="#279a58"/>
<path d="M146.47 458.56L147.91 455.8L145.03 455.8Z" fill="#279a58"/>
<path d="M148.97 453.56L150.41 450.8L147.53 450.8Z" fill="#279a58"/>
<path d="M151.47 455.56L152.91 452.8L150.03 452.8Z" fill="#279a58"/>
<path d="M153.96 453.56L155.4 450.8L152.52 450.8Z" fill="#279a58"/>
<path d="M156.46 458.76L157.9 456L155.02 456Z" fill="#279a58"/>
<path d="M158.96 449.96L160.4 447.2L157.52 447.2Z" fill="#279a58"/>
<path d="M161.46 456.26L162.9 453.5L160.02 453.5Z" fill="#279a58"/>
<path d="M163.96 434.26L165.4 431.5L162.52 431.5Z" fill="#279a58"/>
<path d="M166.46 445.56L167.9 442.8L165.02 442.8Z" fill="#279a58"/>
<path d="M168.96 444.56L170.4 441.8L167.52 441.8Z" fill="#279a58"/>
<path d="M171.46 451.26L172.9 448.5L170.02 448.5Z" fill="#279a58"/>
<path d="M173.96 451.06L175.4 448.3L172.52 448.3Z" fill="#279a58"/>
<path d="M176.45 450.56L177.89 447.8L175.01 447.8Z" fill="#279a58"/>
<path d="M178.95 434.26L180.39 431.5L177.51 431.5Z" fill="#279a58"/>
<path d="M181.45 439.96L182.89 437.2L180.01 437.2Z" fill="#279a58"/>
<path d="M183.95 434.56L185.39 431.8L182.51 431.8Z" fill="#279a58"/>
<path d="M186.45 437.56L187.89 434.8L185.01 434.8Z" fill="#279a58"/>
<path d="M188.95 429.26L190.39 426.5L187.51 426.5Z" fill="#279a58"/>
<path d="M191.45 421.76L192.89 419L190.01 419Z" fill="#279a58"/>
<path d="M193.95 454.36L195.39 451.6L192.51 451.6Z" fill="#279a58"/>
<path d="M196.45 429.86L197.89 427.1L195.01 427.1Z" fill="#279a58"/>
<path d="M198.95 416.06L200.39 413.3L197.51 413.3Z" fill="#279a58"/>
<path d="M201.44 419.16L202.88 416.4L200 416.4Z" fill="#279a58"/>
<path d="M203.94 428.56L205.38 425.8L202.5 425.8Z" fill="#279a58"/>
<path d="M206.44 438.56L207.88 435.8L205 435.8Z" fill="#279a58"/>
<path d="M208.94 443.26L210.38 440.5L207.5 440.5Z" fill="#279a58"/>
<path d="M211.44 418.16L212.88 415.4L210 415.4Z" fill="#279a58"/>
<path d="M213.94 427.56L215.38 424.8L212.5 424.8Z" fill="#279a58"/>
<path d="M216.44 459.56L217.88 456.8L215 456.8Z" fill="#279a58"/>
<path d="M218.94 425.16L220.38 422.4L217.5 422.4Z" fill="#279a58"/>
<path d="M221.44 434.56L222.88 431.8L220 431.8Z" fill="#279a58"/>
<path d="M223.94 422.26L225.38 419.5L222.5 419.5Z" fill="#279a58"/>
<path d="M226.44 421.66L227.88 418.9L225 418.9Z" fill="#279a58"/>
<path d="M228.93 435.66L230.37 432.9L227.49 432.9Z" fill="#279a58"/>
<path d="M231.43 424.96L232.87 422.2L229.99 422.2Z" fill="#279a58"/>
<path d="M233.93 399.26L235.37 396.5L232.49 396.5Z" fill="#279a58"/>
<path d="M236.43 414.36L237.87 411.6L234.99 411.6Z" fill="#279a58"/>
<path d="M238.93 389.16L240.37 386.4L237.49 386.4Z" fill="#279a58"/>
<path d="M241.43 395.46L242.87 392.7L239.99 392.7Z" fill="#279a58"/>
<path d="M243.93 419.96L245.37 417.2L242.49 417.2Z" fill="#279a58"/>
<path d="M246.43 401.16L247.87 398.4L244.99 398.4Z" fill="#279a58"/>
<path d="M248.93 411.56L250.37 408.8L247.49 408.8Z" fill="#279a58"/>
<path d="M251.43 387.96L252.87 385.2L249.99 385.2Z" fill="#279a58"/>
<path d="M253.92 411.76L255.36 409L252.48 409Z" fill="#279a58"/>
<path d="M256.42 419.36L257.86 416.6L254.98 416.6Z" fill="#279a58"/>
<path d="M258.92 401.16L260.36 398.4L257.48 398.4Z" fill="#279a58"/>
<path d="M261.42 404.56L262.86 401.8L259.98 401.8Z" fill="#279a58"/>
<path d="M263.92 409.56L265.36 406.8L262.48 406.8Z" fill="#279a58"/>
<path d="M266.42 397.36L267.86 394.6L264.98 394.6Z" fill="#279a58"/>
<path d="M268.92 416.86L270.36 414.1L267.48 414.1Z" fill="#279a58"/>
<path d="M271.42 419.56L272.86 416.8L269.98 416.8Z" fill="#279a58"/>
<path d="M273.92 421.26L275.36 418.5L272.48 418.5Z" fill="#279a58"/>
<path d="M276.42 421.86L277.86 419.1L274.98 419.1Z" fill="#279a58"/>
<path d="M278.91 396.76L280.35 394L277.47 394Z" fill="#279a58"/>
<path d="M281.41 392.96L282.85 390.2L279.97 390.2Z" fill="#279a58"/>
<path d="M283.91 408.06L285.35 405.3L282.47 405.3Z" fill="#279a58"/>
<path d="M286.41 396.76L287.85 394L284.97 394Z" fill="#279a58"/>
<path d="M288.91 392.96L290.35 390.2L287.47 390.2Z" fill="#279a58"/>
<path d="M291.41 391.76L292.85 389L289.97 389Z" fill="#279a58"/>
<path d="M293.91 393.56L295.35 390.8L292.47 390.8Z" fill="#279a58"/>
<path d="M296.41 399.86L297.85 397.1L294.97 397.1Z" fill="#279a58"/>
<path d="M298.91 417.46L300.35 414.7L297.47 414.7Z" fill="#279a58"/>
<path d="M301.4 401.16L302.84 398.4L299.96 398.4Z" fill="#279a58"/>
<path d="M303.9 404.26L305.34 401.5L302.46 401.5Z" fill="#279a58"/>
<path d="M306.4 416.86L307.84 414.1L304.96 414.1Z" fill="#279a58"/>
<path d="M308.9 401.76L310.34 399L307.46 399Z" fill="#279a58"/>
<path d="M311.4 399.86L312.84 397.1L309.96 397.1Z" fill="#279a58"/>
<polyline points="66.5,495.6 69,492.5 71.5,484 74,507.7 76.5,496 78.99,513.7 81.49,514.8 83.99,514 86.49,512.2 88.99,506 91.49,512.5 93.99,506.8 96.49,516.4 98.99,512.1 101.48,520.2 103.98,531.5 106.48,524.6 108.98,535.2 111.48,518.3 113.98,521.4 116.48,522.1 118.98,498.2 121.48,528.3 123.98,540.3 126.47,521.4 128.97,547.8 131.47,530.8 133.97,548.4 136.47,547.2 138.97,549.1 141.47,548.4 143.97,548.4 146.47,539.3 148.97,549.1 151.47,551.6 153.96,544 156.46,541.3 158.96,556.6 161.46,552.2 163.96,558.5 166.46,549.1 168.96,562.6 171.46,546.5 173.96,553.4 176.45,554.7 178.95,555.3 181.45,550.9 183.95,562.2 186.45,552.2 188.95,544 191.45,553.4 193.95,547.2 196.45,554.7 198.95,559.7 201.44,554.1 203.94,561.6 206.44,568.5 208.94,565.4 211.44,565.4 213.94,560.4 216.44,562.9 218.94,569.1 221.44,562.9 223.94,556.6 226.44,555.3 228.93,562.2 231.43,548.5 233.93,566.1 236.43,568 238.93,568 241.43,564.2 243.93,571.8 246.43,573 248.93,562.3 251.43,568.6 253.92,560.5 256.42,559.8 258.92,541.6 261.42,548.5 263.92,563 266.42,566.7 268.92,554.2 271.42,561.1 273.92,559.2 276.42,561.1 278.91,565.5 281.41,560.5 283.91,555.4 286.41,559.2 288.91,568 291.41,559.8 293.91,568 296.41,558.6 298.91,560.5 301.4,566.7 303.9,564.2 306.4,564.2 308.9,573.6 311.4,569.9" fill="none" stroke="#ae6ee8" stroke-width="1.0" stroke-linejoin="round"/>
<path d="M66.5 494.04L67.94 495.6L66.5 497.16L65.06 495.6Z" fill="#a862e4"/>
<path d="M69 490.94L70.44 492.5L69 494.06L67.56 492.5Z" fill="#a862e4"/>
<path d="M71.5 482.44L72.94 484L71.5 485.56L70.06 484Z" fill="#a862e4"/>
<path d="M74 506.14L75.44 507.7L74 509.26L72.56 507.7Z" fill="#a862e4"/>
<path d="M76.5 494.44L77.94 496L76.5 497.56L75.06 496Z" fill="#a862e4"/>
<path d="M78.99 512.14L80.43 513.7L78.99 515.26L77.55 513.7Z" fill="#a862e4"/>
<path d="M81.49 513.24L82.93 514.8L81.49 516.36L80.05 514.8Z" fill="#a862e4"/>
<path d="M83.99 512.44L85.43 514L83.99 515.56L82.55 514Z" fill="#a862e4"/>
<path d="M86.49 510.64L87.93 512.2L86.49 513.76L85.05 512.2Z" fill="#a862e4"/>
<path d="M88.99 504.44L90.43 506L88.99 507.56L87.55 506Z" fill="#a862e4"/>
<path d="M91.49 510.94L92.93 512.5L91.49 514.06L90.05 512.5Z" fill="#a862e4"/>
<path d="M93.99 505.24L95.43 506.8L93.99 508.36L92.55 506.8Z" fill="#a862e4"/>
<path d="M96.49 514.84L97.93 516.4L96.49 517.96L95.05 516.4Z" fill="#a862e4"/>
<path d="M98.99 510.54L100.43 512.1L98.99 513.66L97.55 512.1Z" fill="#a862e4"/>
<path d="M101.48 518.64L102.92 520.2L101.48 521.76L100.05 520.2Z" fill="#a862e4"/>
<path d="M103.98 529.94L105.42 531.5L103.98 533.06L102.54 531.5Z" fill="#a862e4"/>
<path d="M106.48 523.04L107.92 524.6L106.48 526.16L105.04 524.6Z" fill="#a862e4"/>
<path d="M108.98 533.64L110.42 535.2L108.98 536.76L107.54 535.2Z" fill="#a862e4"/>
<path d="M111.48 516.74L112.92 518.3L111.48 519.86L110.04 518.3Z" fill="#a862e4"/>
<path d="M113.98 519.84L115.42 521.4L113.98 522.96L112.54 521.4Z" fill="#a862e4"/>
<path d="M116.48 520.54L117.92 522.1L116.48 523.66L115.04 522.1Z" fill="#a862e4"/>
<path d="M118.98 496.64L120.42 498.2L118.98 499.76L117.54 498.2Z" fill="#a862e4"/>
<path d="M121.48 526.74L122.92 528.3L121.48 529.86L120.04 528.3Z" fill="#a862e4"/>
<path d="M123.98 538.74L125.42 540.3L123.98 541.86L122.54 540.3Z" fill="#a862e4"/>
<path d="M126.47 519.84L127.91 521.4L126.47 522.96L125.03 521.4Z" fill="#a862e4"/>
<path d="M128.97 546.24L130.41 547.8L128.97 549.36L127.53 547.8Z" fill="#a862e4"/>
<path d="M131.47 529.24L132.91 530.8L131.47 532.36L130.03 530.8Z" fill="#a862e4"/>
<path d="M133.97 546.84L135.41 548.4L133.97 549.96L132.53 548.4Z" fill="#a862e4"/>
<path d="M136.47 545.64L137.91 547.2L136.47 548.76L135.03 547.2Z" fill="#a862e4"/>
<path d="M138.97 547.54L140.41 549.1L138.97 550.66L137.53 549.1Z" fill="#a862e4"/>
<path d="M141.47 546.84L142.91 548.4L141.47 549.96L140.03 548.4Z" fill="#a862e4"/>
<path d="M143.97 546.84L145.41 548.4L143.97 549.96L142.53 548.4Z" fill="#a862e4"/>
<path d="M146.47 537.74L147.91 539.3L146.47 540.86L145.03 539.3Z" fill="#a862e4"/>
<path d="M148.97 547.54L150.41 549.1L148.97 550.66L147.53 549.1Z" fill="#a862e4"/>
<path d="M151.47 550.04L152.91 551.6L151.47 553.16L150.03 551.6Z" fill="#a862e4"/>
<path d="M153.96 542.44L155.4 544L153.96 545.56L152.52 544Z" fill="#a862e4"/>
<path d="M156.46 539.74L157.9 541.3L156.46 542.86L155.02 541.3Z" fill="#a862e4"/>
<path d="M158.96 555.04L160.4 556.6L158.96 558.16L157.52 556.6Z" fill="#a862e4"/>
<path d="M161.46 550.64L162.9 552.2L161.46 553.76L160.02 552.2Z" fill="#a862e4"/>
<path d="M163.96 556.94L165.4 558.5L163.96 560.06L162.52 558.5Z" fill="#a862e4"/>
<path d="M166.46 547.54L167.9 549.1L166.46 550.66L165.02 549.1Z" fill="#a862e4"/>
<path d="M168.96 561.04L170.4 562.6L168.96 564.16L167.52 562.6Z" fill="#a862e4"/>
<path d="M171.46 544.94L172.9 546.5L171.46 548.06L170.02 546.5Z" fill="#a862e4"/>
<path d="M173.96 551.84L175.4 553.4L173.96 554.96L172.52 553.4Z" fill="#a862e4"/>
<path d="M176.45 553.14L177.89 554.7L176.45 556.26L175.01 554.7Z" fill="#a862e4"/>
<path d="M178.95 553.74L180.39 555.3L178.95 556.86L177.51 555.3Z" fill="#a862e4"/>
<path d="M181.45 549.34L182.89 550.9L181.45 552.46L180.01 550.9Z" fill="#a862e4"/>
<path d="M183.95 560.64L185.39 562.2L183.95 563.76L182.51 562.2Z" fill="#a862e4"/>
<path d="M186.45 550.64L187.89 552.2L186.45 553.76L185.01 552.2Z" fill="#a862e4"/>
<path d="M188.95 542.44L190.39 544L188.95 545.56L187.51 544Z" fill="#a862e4"/>
<path d="M191.45 551.84L192.89 553.4L191.45 554.96L190.01 553.4Z" fill="#a862e4"/>
<path d="M193.95 545.64L195.39 547.2L193.95 548.76L192.51 547.2Z" fill="#a862e4"/>
<path d="M196.45 553.14L197.89 554.7L196.45 556.26L195.01 554.7Z" fill="#a862e4"/>
<path d="M198.95 558.14L200.39 559.7L198.95 561.26L197.51 559.7Z" fill="#a862e4"/>
<path d="M201.44 552.54L202.88 554.1L201.44 555.66L200 554.1Z" fill="#a862e4"/>
<path d="M203.94 560.04L205.38 561.6L203.94 563.16L202.5 561.6Z" fill="#a862e4"/>
<path d="M206.44 566.94L207.88 568.5L206.44 570.06L205 568.5Z" fill="#a862e4"/>
<path d="M208.94 563.84L210.38 565.4L208.94 566.96L207.5 565.4Z" fill="#a862e4"/>
<path d="M211.44 563.84L212.88 565.4L211.44 566.96L210 565.4Z" fill="#a862e4"/>
<path d="M213.94 558.84L215.38 560.4L213.94 561.96L212.5 560.4Z" fill="#a862e4"/>
<path d="M216.44 561.34L217.88 562.9L216.44 564.46L215 562.9Z" fill="#a862e4"/>
<path d="M218.94 567.54L220.38 569.1L218.94 570.66L217.5 569.1Z" fill="#a862e4"/>
<path d="M221.44 561.34L222.88 562.9L221.44 564.46L220 562.9Z" fill="#a862e4"/>
<path d="M223.94 555.04L225.38 556.6L223.94 558.16L222.5 556.6Z" fill="#a862e4"/>
<path d="M226.44 553.74L227.88 555.3L226.44 556.86L225 555.3Z" fill="#a862e4"/>
<path d="M228.93 560.64L230.37 562.2L228.93 563.76L227.49 562.2Z" fill="#a862e4"/>
<path d="M231.43 546.94L232.87 548.5L231.43 550.06L229.99 548.5Z" fill="#a862e4"/>
<path d="M233.93 564.54L235.37 566.1L233.93 567.66L232.49 566.1Z" fill="#a862e4"/>
<path d="M236.43 566.44L237.87 568L236.43 569.56L234.99 568Z" fill="#a862e4"/>
<path d="M238.93 566.44L240.37 568L238.93 569.56L237.49 568Z" fill="#a862e4"/>
<path d="M241.43 562.64L242.87 564.2L241.43 565.76L239.99 564.2Z" fill="#a862e4"/>
<path d="M243.93 570.24L245.37 571.8L243.93 573.36L242.49 571.8Z" fill="#a862e4"/>
<path d="M246.43 571.44L247.87 573L246.43 574.56L244.99 573Z" fill="#a862e4"/>
<path d="M248.93 560.74L250.37 562.3L248.93 563.86L247.49 562.3Z" fill="#a862e4"/>
<path d="M251.43 567.04L252.87 568.6L251.43 570.16L249.99 568.6Z" fill="#a862e4"/>
<path d="M253.92 558.94L255.36 560.5L253.92 562.06L252.48 560.5Z" fill="#a862e4"/>
<path d="M256.42 558.24L257.86 559.8L256.42 561.36L254.98 559.8Z" fill="#a862e4"/>
<path d="M258.92 540.04L260.36 541.6L258.92 543.16L257.48 541.6Z" fill="#a862e4"/>
<path d="M261.42 546.94L262.86 548.5L261.42 550.06L259.98 548.5Z" fill="#a862e4"/>
<path d="M263.92 561.44L265.36 563L263.92 564.56L262.48 563Z" fill="#a862e4"/>
<path d="M266.42 565.14L267.86 566.7L266.42 568.26L264.98 566.7Z" fill="#a862e4"/>
<path d="M268.92 552.64L270.36 554.2L268.92 555.76L267.48 554.2Z" fill="#a862e4"/>
<path d="M271.42 559.54L272.86 561.1L271.42 562.66L269.98 561.1Z" fill="#a862e4"/>
<path d="M273.92 557.64L275.36 559.2L273.92 560.76L272.48 559.2Z" fill="#a862e4"/>
<path d="M276.42 559.54L277.86 561.1L276.42 562.66L274.98 561.1Z" fill="#a862e4"/>
<path d="M278.91 563.94L280.35 565.5L278.91 567.06L277.47 565.5Z" fill="#a862e4"/>
<path d="M281.41 558.94L282.85 560.5L281.41 562.06L279.97 560.5Z" fill="#a862e4"/>
<path d="M283.91 553.84L285.35 555.4L283.91 556.96L282.47 555.4Z" fill="#a862e4"/>
<path d="M286.41 557.64L287.85 559.2L286.41 560.76L284.97 559.2Z" fill="#a862e4"/>
<path d="M288.91 566.44L290.35 568L288.91 569.56L287.47 568Z" fill="#a862e4"/>
<path d="M291.41 558.24L292.85 559.8L291.41 561.36L289.97 559.8Z" fill="#a862e4"/>
<path d="M293.91 566.44L295.35 568L293.91 569.56L292.47 568Z" fill="#a862e4"/>
<path d="M296.41 557.04L297.85 558.6L296.41 560.16L294.97 558.6Z" fill="#a862e4"/>
<path d="M298.91 558.94L300.35 560.5L298.91 562.06L297.47 560.5Z" fill="#a862e4"/>
<path d="M301.4 565.14L302.84 566.7L301.4 568.26L299.96 566.7Z" fill="#a862e4"/>
<path d="M303.9 562.64L305.34 564.2L303.9 565.76L302.46 564.2Z" fill="#a862e4"/>
<path d="M306.4 562.64L307.84 564.2L306.4 565.76L304.96 564.2Z" fill="#a862e4"/>
<path d="M308.9 572.04L310.34 573.6L308.9 575.16L307.46 573.6Z" fill="#a862e4"/>
<path d="M311.4 568.34L312.84 569.9L311.4 571.46L309.96 569.9Z" fill="#a862e4"/>
</g>
<path d="M39.01 342.7V582.7H338.89" fill="none" stroke="#1a1a1a" stroke-width="1.1"/>
<text x="30.51" y="569.87" font-size="8.8" text-anchor="end">0.2</text>
<text x="30.51" y="537.87" font-size="8.8" text-anchor="end">0.4</text>
<text x="30.51" y="505.87" font-size="8.8" text-anchor="end">0.6</text>
<text x="30.51" y="473.87" font-size="8.8" text-anchor="end">0.8</text>
<text x="30.51" y="441.87" font-size="8.8" text-anchor="end">1.0</text>
<text x="30.51" y="409.87" font-size="8.8" text-anchor="end">1.2</text>
<text x="30.51" y="377.87" font-size="8.8" text-anchor="end">1.4</text>
<text x="30.51" y="345.87" font-size="8.8" text-anchor="end">1.6</text>
<text x="64" y="600.2" font-size="8.8" text-anchor="middle">0</text>
<text x="113.98" y="600.2" font-size="8.8" text-anchor="middle">20</text>
<text x="163.96" y="600.2" font-size="8.8" text-anchor="middle">40</text>
<text x="213.94" y="600.2" font-size="8.8" text-anchor="middle">60</text>
<text x="263.92" y="600.2" font-size="8.8" text-anchor="middle">80</text>
<text x="313.9" y="600.2" font-size="8.8" text-anchor="middle">100</text>
<path d="M36.71 582.7H39.01M35.01 566.7H39.01M36.71 550.7H39.01M35.01 534.7H39.01M36.71 518.7H39.01M35.01 502.7H39.01M36.71 486.7H39.01M35.01 470.7H39.01M36.71 454.7H39.01M35.01 438.7H39.01M36.71 422.7H39.01M35.01 406.7H39.01M36.71 390.7H39.01M35.01 374.7H39.01M36.71 358.7H39.01M35.01 342.7H39.01M39.01 582.7V585M64 582.7V586.7M88.99 582.7V585M113.98 582.7V586.7M138.97 582.7V585M163.96 582.7V586.7M188.95 582.7V585M213.94 582.7V586.7M238.93 582.7V585M263.92 582.7V586.7M288.91 582.7V585M313.9 582.7V586.7M338.89 582.7V585" stroke="#1a1a1a" stroke-width="1"/>
<text transform="translate(14.1,463.4) rotate(-90)" font-size="11.75" text-anchor="middle">Training loss</text>
<text x="188.95" y="616.8" font-size="11.35" text-anchor="middle"># Round</text>
<text x="191.8" y="635.1" font-size="14.6" text-anchor="middle">Scenario C</text>
<rect x="53.7" y="342.7" width="78.7" height="70.7" fill="#fff" stroke="#b4b4b4" stroke-width="0.8"/>
<g class="bl">
<line x1="55.2" y1="350.4" x2="80.7" y2="350.4" stroke="#5a5a5a" stroke-width="1.6"/>
<rect x="66.85" y="349.3" width="2.2" height="2.2" fill="#383838"/>
<line x1="55.2" y1="364.7" x2="80.7" y2="364.7" stroke="#e05a5a" stroke-width="1.6"/>
<circle cx="67.95" cy="364.7" r="1.16" fill="#e42e2e"/>
<line x1="55.2" y1="378.4" x2="80.7" y2="378.4" stroke="#7aa6e6" stroke-width="1.6"/>
<path d="M67.95 376.97L69.27 379.5L66.63 379.5Z" fill="#2060d8"/>
<line x1="55.2" y1="392.3" x2="80.7" y2="392.3" stroke="#3fa872" stroke-width="1.6"/>
<path d="M67.95 393.73L69.27 391.2L66.63 391.2Z" fill="#279a58"/>
<line x1="55.2" y1="406.6" x2="80.7" y2="406.6" stroke="#b889ee" stroke-width="1.6"/>
<path d="M67.95 405.17L69.27 406.6L67.95 408.03L66.63 406.6Z" fill="#a862e4"/>
</g>
<text x="84.4" y="355" font-size="11.4">FedAvg</text>
<text x="84.4" y="369.3" font-size="11.4">FedProx</text>
<text x="84.4" y="383" font-size="11.4">Scaffold</text>
<text x="84.4" y="396.9" font-size="11.4">FedNova</text>
<text x="84.4" y="411.2" font-size="11.4">FedOcw</text>
</g>
<g id="pD">
<g class="bl">
<polyline points="420.02,461 422.44,422.7 424.86,432.7 427.28,427.7 429.7,447.1 432.12,428.9 434.54,402.6 436.96,426.4 439.38,435.8 441.8,433.3 444.22,446.5 446.64,413.2 449.06,430.8 451.48,412 453.9,403.8 456.32,450.3 458.74,425.8 461.16,428.9 463.58,417.6 466,423.9 468.42,405.7 470.84,409.5 473.26,436.5 475.68,422.7 478.1,408.2 480.52,434 482.94,461 485.36,461 487.78,433.3 490.2,437.1 492.62,442.8 495.04,449 497.46,432.7 499.88,441.5 502.3,431.5 504.72,449.1 507.14,450.3 509.56,425.8 511.98,433.4 514.4,419.5 516.82,430.8 519.24,441.5 521.66,434 524.08,425.2 526.5,434 528.92,427.7 531.34,445.3 533.76,429 536.18,432.7 538.6,440.9 541.02,450.3 543.44,431.5 545.86,455.3 548.28,445.3 550.7,445.9 553.12,440.3 555.54,418.9 557.96,435.9 560.38,445.3 562.8,442.8 565.22,457.8 567.64,422.1 570.06,446.5 572.48,434 574.9,425.2 577.32,435.9 579.74,390.7 582.16,441.5 584.58,442 587,465.4 589.42,444.7 591.84,434.6 594.26,446.5 596.68,400.7 599.1,445.3 601.52,442.1 603.94,433 606.36,440 608.78,442.8 611.2,420.2 613.62,464.7 616.04,446.5 618.46,463.5 620.88,420.8 623.3,443.4 625.72,455.3 628.14,463.5 630.56,442.8 632.98,454.1 635.4,459.7 637.82,456.6 640.24,434 642.66,440.9 645.08,422.7 647.5,447.2 649.92,476.7 652.34,423.9 654.76,435.9 657.18,410.8" fill="none" stroke="#4c4c4c" stroke-width="1.0" stroke-linejoin="round"/>
<rect x="418.82" y="459.8" width="2.4" height="2.4" fill="#383838"/>
<rect x="421.24" y="421.5" width="2.4" height="2.4" fill="#383838"/>
<rect x="423.66" y="431.5" width="2.4" height="2.4" fill="#383838"/>
<rect x="426.08" y="426.5" width="2.4" height="2.4" fill="#383838"/>
<rect x="428.5" y="445.9" width="2.4" height="2.4" fill="#383838"/>
<rect x="430.92" y="427.7" width="2.4" height="2.4" fill="#383838"/>
<rect x="433.34" y="401.4" width="2.4" height="2.4" fill="#383838"/>
<rect x="435.76" y="425.2" width="2.4" height="2.4" fill="#383838"/>
<rect x="438.18" y="434.6" width="2.4" height="2.4" fill="#383838"/>
<rect x="440.6" y="432.1" width="2.4" height="2.4" fill="#383838"/>
<rect x="443.02" y="445.3" width="2.4" height="2.4" fill="#383838"/>
<rect x="445.44" y="412" width="2.4" height="2.4" fill="#383838"/>
<rect x="447.86" y="429.6" width="2.4" height="2.4" fill="#383838"/>
<rect x="450.28" y="410.8" width="2.4" height="2.4" fill="#383838"/>
<rect x="452.7" y="402.6" width="2.4" height="2.4" fill="#383838"/>
<rect x="455.12" y="449.1" width="2.4" height="2.4" fill="#383838"/>
<rect x="457.54" y="424.6" width="2.4" height="2.4" fill="#383838"/>
<rect x="459.96" y="427.7" width="2.4" height="2.4" fill="#383838"/>
<rect x="462.38" y="416.4" width="2.4" height="2.4" fill="#383838"/>
<rect x="464.8" y="422.7" width="2.4" height="2.4" fill="#383838"/>
<rect x="467.22" y="404.5" width="2.4" height="2.4" fill="#383838"/>
<rect x="469.64" y="408.3" width="2.4" height="2.4" fill="#383838"/>
<rect x="472.06" y="435.3" width="2.4" height="2.4" fill="#383838"/>
<rect x="474.48" y="421.5" width="2.4" height="2.4" fill="#383838"/>
<rect x="476.9" y="407" width="2.4" height="2.4" fill="#383838"/>
<rect x="479.32" y="432.8" width="2.4" height="2.4" fill="#383838"/>
<rect x="481.74" y="459.8" width="2.4" height="2.4" fill="#383838"/>
<rect x="484.16" y="459.8" width="2.4" height="2.4" fill="#383838"/>
<rect x="486.58" y="432.1" width="2.4" height="2.4" fill="#383838"/>
<rect x="489" y="435.9" width="2.4" height="2.4" fill="#383838"/>
<rect x="491.42" y="441.6" width="2.4" height="2.4" fill="#383838"/>
<rect x="493.84" y="447.8" width="2.4" height="2.4" fill="#383838"/>
<rect x="496.26" y="431.5" width="2.4" height="2.4" fill="#383838"/>
<rect x="498.68" y="440.3" width="2.4" height="2.4" fill="#383838"/>
<rect x="501.1" y="430.3" width="2.4" height="2.4" fill="#383838"/>
<rect x="503.52" y="447.9" width="2.4" height="2.4" fill="#383838"/>
<rect x="505.94" y="449.1" width="2.4" height="2.4" fill="#383838"/>
<rect x="508.36" y="424.6" width="2.4" height="2.4" fill="#383838"/>
<rect x="510.78" y="432.2" width="2.4" height="2.4" fill="#383838"/>
<rect x="513.2" y="418.3" width="2.4" height="2.4" fill="#383838"/>
<rect x="515.62" y="429.6" width="2.4" height="2.4" fill="#383838"/>
<rect x="518.04" y="440.3" width="2.4" height="2.4" fill="#383838"/>
<rect x="520.46" y="432.8" width="2.4" height="2.4" fill="#383838"/>
<rect x="522.88" y="424" width="2.4" height="2.4" fill="#383838"/>
<rect x="525.3" y="432.8" width="2.4" height="2.4" fill="#383838"/>
<rect x="527.72" y="426.5" width="2.4" height="2.4" fill="#383838"/>
<rect x="530.14" y="444.1" width="2.4" height="2.4" fill="#383838"/>
<rect x="532.56" y="427.8" width="2.4" height="2.4" fill="#383838"/>
<rect x="534.98" y="431.5" width="2.4" height="2.4" fill="#383838"/>
<rect x="537.4" y="439.7" width="2.4" height="2.4" fill="#383838"/>
<rect x="539.82" y="449.1" width="2.4" height="2.4" fill="#383838"/>
<rect x="542.24" y="430.3" width="2.4" height="2.4" fill="#383838"/>
<rect x="544.66" y="454.1" width="2.4" height="2.4" fill="#383838"/>
<rect x="547.08" y="444.1" width="2.4" height="2.4" fill="#383838"/>
<rect x="549.5" y="444.7" width="2.4" height="2.4" fill="#383838"/>
<rect x="551.92" y="439.1" width="2.4" height="2.4" fill="#383838"/>
<rect x="554.34" y="417.7" width="2.4" height="2.4" fill="#383838"/>
<rect x="556.76" y="434.7" width="2.4" height="2.4" fill="#383838"/>
<rect x="559.18" y="444.1" width="2.4" height="2.4" fill="#383838"/>
<rect x="561.6" y="441.6" width="2.4" height="2.4" fill="#383838"/>
<rect x="564.02" y="456.6" width="2.4" height="2.4" fill="#383838"/>
<rect x="566.44" y="420.9" width="2.4" height="2.4" fill="#383838"/>
<rect x="568.86" y="445.3" width="2.4" height="2.4" fill="#383838"/>
<rect x="571.28" y="432.8" width="2.4" height="2.4" fill="#383838"/>
<rect x="573.7" y="424" width="2.4" height="2.4" fill="#383838"/>
<rect x="576.12" y="434.7" width="2.4" height="2.4" fill="#383838"/>
<rect x="578.54" y="389.5" width="2.4" height="2.4" fill="#383838"/>
<rect x="580.96" y="440.3" width="2.4" height="2.4" fill="#383838"/>
<rect x="583.38" y="440.8" width="2.4" height="2.4" fill="#383838"/>
<rect x="585.8" y="464.2" width="2.4" height="2.4" fill="#383838"/>
<rect x="588.22" y="443.5" width="2.4" height="2.4" fill="#383838"/>
<rect x="590.64" y="433.4" width="2.4" height="2.4" fill="#383838"/>
<rect x="593.06" y="445.3" width="2.4" height="2.4" fill="#383838"/>
<rect x="595.48" y="399.5" width="2.4" height="2.4" fill="#383838"/>
<rect x="597.9" y="444.1" width="2.4" height="2.4" fill="#383838"/>
<rect x="600.32" y="440.9" width="2.4" height="2.4" fill="#383838"/>
<rect x="602.74" y="431.8" width="2.4" height="2.4" fill="#383838"/>
<rect x="605.16" y="438.8" width="2.4" height="2.4" fill="#383838"/>
<rect x="607.58" y="441.6" width="2.4" height="2.4" fill="#383838"/>
<rect x="610" y="419" width="2.4" height="2.4" fill="#383838"/>
<rect x="612.42" y="463.5" width="2.4" height="2.4" fill="#383838"/>
<rect x="614.84" y="445.3" width="2.4" height="2.4" fill="#383838"/>
<rect x="617.26" y="462.3" width="2.4" height="2.4" fill="#383838"/>
<rect x="619.68" y="419.6" width="2.4" height="2.4" fill="#383838"/>
<rect x="622.1" y="442.2" width="2.4" height="2.4" fill="#383838"/>
<rect x="624.52" y="454.1" width="2.4" height="2.4" fill="#383838"/>
<rect x="626.94" y="462.3" width="2.4" height="2.4" fill="#383838"/>
<rect x="629.36" y="441.6" width="2.4" height="2.4" fill="#383838"/>
<rect x="631.78" y="452.9" width="2.4" height="2.4" fill="#383838"/>
<rect x="634.2" y="458.5" width="2.4" height="2.4" fill="#383838"/>
<rect x="636.62" y="455.4" width="2.4" height="2.4" fill="#383838"/>
<rect x="639.04" y="432.8" width="2.4" height="2.4" fill="#383838"/>
<rect x="641.46" y="439.7" width="2.4" height="2.4" fill="#383838"/>
<rect x="643.88" y="421.5" width="2.4" height="2.4" fill="#383838"/>
<rect x="646.3" y="446" width="2.4" height="2.4" fill="#383838"/>
<rect x="648.72" y="475.5" width="2.4" height="2.4" fill="#383838"/>
<rect x="651.14" y="422.7" width="2.4" height="2.4" fill="#383838"/>
<rect x="653.56" y="434.7" width="2.4" height="2.4" fill="#383838"/>
<rect x="655.98" y="409.6" width="2.4" height="2.4" fill="#383838"/>
<polyline points="420.02,514 422.44,492 424.86,495.2 427.28,481 429.7,467.8 432.12,472 434.54,482.8 436.96,495.2 439.38,492.7 441.8,455 444.22,461.5 446.64,437.1 449.06,440.2 451.48,439.6 453.9,444 456.32,436.5 458.74,422 461.16,423.3 463.58,433.3 466,452.8 468.42,405.1 470.84,400.1 473.26,444 475.68,437.7 478.1,437.7 480.52,454 482.94,449.7 485.36,449.7 487.78,420.8 490.2,420.8 492.62,458.4 495.04,430.2 497.46,446.5 499.88,425.2 502.3,419.5 504.72,449.7 507.14,398.8 509.56,425.8 511.98,456.6 514.4,415.8 516.82,450.9 519.24,434 521.66,439.6 524.08,440.9 526.5,440.3 528.92,435.9 531.34,452.2 533.76,428.3 536.18,428.3 538.6,459.1 541.02,448.4 543.44,459.7 545.86,441.5 548.28,450.3 550.7,431.5 553.12,450.9 555.54,426.5 557.96,423.3 560.38,396.3 562.8,432.7 565.22,423.9 567.64,423.9 570.06,436.5 572.48,440.3 574.9,437.1 577.32,431.5 579.74,432.1 582.16,459.1 584.58,440.3 587,412.6 589.42,430.2 591.84,423.3 594.26,449.1 596.68,431.5 599.1,450.9 601.52,437.8 603.94,426.5 606.36,439 608.78,455.3 611.2,455.3 613.62,440.3 616.04,459.1 618.46,445.3 620.88,444.7 623.3,440.3 625.72,444.7 628.14,445.9 630.56,430.8 632.98,437.1 635.4,443.4 637.82,431.5 640.24,441.5 642.66,422.7 645.08,438.4 647.5,430.8 649.92,460.4 652.34,450.3 654.76,439 657.18,454.7" fill="none" stroke="#e63c3c" stroke-width="1.0" stroke-linejoin="round"/>
<circle cx="420.02" cy="514" r="1.26" fill="#e42e2e"/>
<circle cx="422.44" cy="492" r="1.26" fill="#e42e2e"/>
<circle cx="424.86" cy="495.2" r="1.26" fill="#e42e2e"/>
<circle cx="427.28" cy="481" r="1.26" fill="#e42e2e"/>
<circle cx="429.7" cy="467.8" r="1.26" fill="#e42e2e"/>
<circle cx="432.12" cy="472" r="1.26" fill="#e42e2e"/>
<circle cx="434.54" cy="482.8" r="1.26" fill="#e42e2e"/>
<circle cx="436.96" cy="495.2" r="1.26" fill="#e42e2e"/>
<circle cx="439.38" cy="492.7" r="1.26" fill="#e42e2e"/>
<circle cx="441.8" cy="455" r="1.26" fill="#e42e2e"/>
<circle cx="444.22" cy="461.5" r="1.26" fill="#e42e2e"/>
<circle cx="446.64" cy="437.1" r="1.26" fill="#e42e2e"/>
<circle cx="449.06" cy="440.2" r="1.26" fill="#e42e2e"/>
<circle cx="451.48" cy="439.6" r="1.26" fill="#e42e2e"/>
<circle cx="453.9" cy="444" r="1.26" fill="#e42e2e"/>
<circle cx="456.32" cy="436.5" r="1.26" fill="#e42e2e"/>
<circle cx="458.74" cy="422" r="1.26" fill="#e42e2e"/>
<circle cx="461.16" cy="423.3" r="1.26" fill="#e42e2e"/>
<circle cx="463.58" cy="433.3" r="1.26" fill="#e42e2e"/>
<circle cx="466" cy="452.8" r="1.26" fill="#e42e2e"/>
<circle cx="468.42" cy="405.1" r="1.26" fill="#e42e2e"/>
<circle cx="470.84" cy="400.1" r="1.26" fill="#e42e2e"/>
<circle cx="473.26" cy="444" r="1.26" fill="#e42e2e"/>
<circle cx="475.68" cy="437.7" r="1.26" fill="#e42e2e"/>
<circle cx="478.1" cy="437.7" r="1.26" fill="#e42e2e"/>
<circle cx="480.52" cy="454" r="1.26" fill="#e42e2e"/>
<circle cx="482.94" cy="449.7" r="1.26" fill="#e42e2e"/>
<circle cx="485.36" cy="449.7" r="1.26" fill="#e42e2e"/>
<circle cx="487.78" cy="420.8" r="1.26" fill="#e42e2e"/>
<circle cx="490.2" cy="420.8" r="1.26" fill="#e42e2e"/>
<circle cx="492.62" cy="458.4" r="1.26" fill="#e42e2e"/>
<circle cx="495.04" cy="430.2" r="1.26" fill="#e42e2e"/>
<circle cx="497.46" cy="446.5" r="1.26" fill="#e42e2e"/>
<circle cx="499.88" cy="425.2" r="1.26" fill="#e42e2e"/>
<circle cx="502.3" cy="419.5" r="1.26" fill="#e42e2e"/>
<circle cx="504.72" cy="449.7" r="1.26" fill="#e42e2e"/>
<circle cx="507.14" cy="398.8" r="1.26" fill="#e42e2e"/>
<circle cx="509.56" cy="425.8" r="1.26" fill="#e42e2e"/>
<circle cx="511.98" cy="456.6" r="1.26" fill="#e42e2e"/>
<circle cx="514.4" cy="415.8" r="1.26" fill="#e42e2e"/>
<circle cx="516.82" cy="450.9" r="1.26" fill="#e42e2e"/>
<circle cx="519.24" cy="434" r="1.26" fill="#e42e2e"/>
<circle cx="521.66" cy="439.6" r="1.26" fill="#e42e2e"/>
<circle cx="524.08" cy="440.9" r="1.26" fill="#e42e2e"/>
<circle cx="526.5" cy="440.3" r="1.26" fill="#e42e2e"/>
<circle cx="528.92" cy="435.9" r="1.26" fill="#e42e2e"/>
<circle cx="531.34" cy="452.2" r="1.26" fill="#e42e2e"/>
<circle cx="533.76" cy="428.3" r="1.26" fill="#e42e2e"/>
<circle cx="536.18" cy="428.3" r="1.26" fill="#e42e2e"/>
<circle cx="538.6" cy="459.1" r="1.26" fill="#e42e2e"/>
<circle cx="541.02" cy="448.4" r="1.26" fill="#e42e2e"/>
<circle cx="543.44" cy="459.7" r="1.26" fill="#e42e2e"/>
<circle cx="545.86" cy="441.5" r="1.26" fill="#e42e2e"/>
<circle cx="548.28" cy="450.3" r="1.26" fill="#e42e2e"/>
<circle cx="550.7" cy="431.5" r="1.26" fill="#e42e2e"/>
<circle cx="553.12" cy="450.9" r="1.26" fill="#e42e2e"/>
<circle cx="555.54" cy="426.5" r="1.26" fill="#e42e2e"/>
<circle cx="557.96" cy="423.3" r="1.26" fill="#e42e2e"/>
<circle cx="560.38" cy="396.3" r="1.26" fill="#e42e2e"/>
<circle cx="562.8" cy="432.7" r="1.26" fill="#e42e2e"/>
<circle cx="565.22" cy="423.9" r="1.26" fill="#e42e2e"/>
<circle cx="567.64" cy="423.9" r="1.26" fill="#e42e2e"/>
<circle cx="570.06" cy="436.5" r="1.26" fill="#e42e2e"/>
<circle cx="572.48" cy="440.3" r="1.26" fill="#e42e2e"/>
<circle cx="574.9" cy="437.1" r="1.26" fill="#e42e2e"/>
<circle cx="577.32" cy="431.5" r="1.26" fill="#e42e2e"/>
<circle cx="579.74" cy="432.1" r="1.26" fill="#e42e2e"/>
<circle cx="582.16" cy="459.1" r="1.26" fill="#e42e2e"/>
<circle cx="584.58" cy="440.3" r="1.26" fill="#e42e2e"/>
<circle cx="587" cy="412.6" r="1.26" fill="#e42e2e"/>
<circle cx="589.42" cy="430.2" r="1.26" fill="#e42e2e"/>
<circle cx="591.84" cy="423.3" r="1.26" fill="#e42e2e"/>
<circle cx="594.26" cy="449.1" r="1.26" fill="#e42e2e"/>
<circle cx="596.68" cy="431.5" r="1.26" fill="#e42e2e"/>
<circle cx="599.1" cy="450.9" r="1.26" fill="#e42e2e"/>
<circle cx="601.52" cy="437.8" r="1.26" fill="#e42e2e"/>
<circle cx="603.94" cy="426.5" r="1.26" fill="#e42e2e"/>
<circle cx="606.36" cy="439" r="1.26" fill="#e42e2e"/>
<circle cx="608.78" cy="455.3" r="1.26" fill="#e42e2e"/>
<circle cx="611.2" cy="455.3" r="1.26" fill="#e42e2e"/>
<circle cx="613.62" cy="440.3" r="1.26" fill="#e42e2e"/>
<circle cx="616.04" cy="459.1" r="1.26" fill="#e42e2e"/>
<circle cx="618.46" cy="445.3" r="1.26" fill="#e42e2e"/>
<circle cx="620.88" cy="444.7" r="1.26" fill="#e42e2e"/>
<circle cx="623.3" cy="440.3" r="1.26" fill="#e42e2e"/>
<circle cx="625.72" cy="444.7" r="1.26" fill="#e42e2e"/>
<circle cx="628.14" cy="445.9" r="1.26" fill="#e42e2e"/>
<circle cx="630.56" cy="430.8" r="1.26" fill="#e42e2e"/>
<circle cx="632.98" cy="437.1" r="1.26" fill="#e42e2e"/>
<circle cx="635.4" cy="443.4" r="1.26" fill="#e42e2e"/>
<circle cx="637.82" cy="431.5" r="1.26" fill="#e42e2e"/>
<circle cx="640.24" cy="441.5" r="1.26" fill="#e42e2e"/>
<circle cx="642.66" cy="422.7" r="1.26" fill="#e42e2e"/>
<circle cx="645.08" cy="438.4" r="1.26" fill="#e42e2e"/>
<circle cx="647.5" cy="430.8" r="1.26" fill="#e42e2e"/>
<circle cx="649.92" cy="460.4" r="1.26" fill="#e42e2e"/>
<circle cx="652.34" cy="450.3" r="1.26" fill="#e42e2e"/>
<circle cx="654.76" cy="439" r="1.26" fill="#e42e2e"/>
<circle cx="657.18" cy="454.7" r="1.26" fill="#e42e2e"/>
<polyline points="420.02,514 422.44,506.5 424.86,496.4 427.28,497.7 429.7,493.3 432.12,474.5 434.54,477.6 436.96,480.7 439.38,473.8 441.8,474.5 444.22,477 446.64,480.1 449.06,472 451.48,478.2 453.9,487.6 456.32,478.9 458.74,477 461.16,478.9 463.58,477.6 466,475.7 468.42,465.7 470.84,471.3 473.26,473.8 475.68,481.4 478.1,478.2 480.52,476.6 482.94,477.3 485.36,478.9 487.78,487 490.2,491.4 492.62,487 495.04,493.3 497.46,475.1 499.88,480.7 502.3,482 504.72,483.2 507.14,485.1 509.56,488.9 511.98,477.6 514.4,478.2 516.82,485.1 519.24,480.7 521.66,483.9 524.08,488.9 526.5,487 528.92,474.5 531.34,473.8 533.76,472.6 536.18,475.7 538.6,465.7 541.02,480.7 543.44,479.5 545.86,486.4 548.28,477 550.7,471.3 553.12,491.4 555.54,487.6 557.96,489.5 560.38,473.2 562.8,483.9 565.22,485.8 567.64,483.2 570.06,480.7 572.48,483.2 574.9,485.1 577.32,485.1 579.74,473.2 582.16,475.1 584.58,478.2 587,489.5 589.42,478.2 591.84,470.7 594.26,480.7 596.68,478.2 599.1,470.7 601.52,487 603.94,483.2 606.36,479.5 608.78,474.5 611.2,468.2 613.62,475.7 616.04,460 618.46,472.6 620.88,475.1 623.3,480.7 625.72,473.8 628.14,465.7 630.56,465.7 632.98,463.8 635.4,472 637.82,464.4 640.24,473.8 642.66,475.1 645.08,481.4 647.5,484.5 649.92,492 652.34,481.4 654.76,473.2 657.18,485.8" fill="none" stroke="#2b6fe0" stroke-width="1.0" stroke-linejoin="round"/>
<path d="M420.02 512.44L421.46 515.2L418.58 515.2Z" fill="#2060d8"/>
<path d="M422.44 504.94L423.88 507.7L421 507.7Z" fill="#2060d8"/>
<path d="M424.86 494.84L426.3 497.6L423.42 497.6Z" fill="#2060d8"/>
<path d="M427.28 496.14L428.72 498.9L425.84 498.9Z" fill="#2060d8"/>
<path d="M429.7 491.74L431.14 494.5L428.26 494.5Z" fill="#2060d8"/>
<path d="M432.12 472.94L433.56 475.7L430.68 475.7Z" fill="#2060d8"/>
<path d="M434.54 476.04L435.98 478.8L433.1 478.8Z" fill="#2060d8"/>
<path d="M436.96 479.14L438.4 481.9L435.52 481.9Z" fill="#2060d8"/>
<path d="M439.38 472.24L440.82 475L437.94 475Z" fill="#2060d8"/>
<path d="M441.8 472.94L443.24 475.7L440.36 475.7Z" fill="#2060d8"/>
<path d="M444.22 475.44L445.66 478.2L442.78 478.2Z" fill="#2060d8"/>
<path d="M446.64 478.54L448.08 481.3L445.2 481.3Z" fill="#2060d8"/>
<path d="M449.06 470.44L450.5 473.2L447.62 473.2Z" fill="#2060d8"/>
<path d="M451.48 476.64L452.92 479.4L450.04 479.4Z" fill="#2060d8"/>
<path d="M453.9 486.04L455.34 488.8L452.46 488.8Z" fill="#2060d8"/>
<path d="M456.32 477.34L457.76 480.1L454.88 480.1Z" fill="#2060d8"/>
<path d="M458.74 475.44L460.18 478.2L457.3 478.2Z" fill="#2060d8"/>
<path d="M461.16 477.34L462.6 480.1L459.72 480.1Z" fill="#2060d8"/>
<path d="M463.58 476.04L465.02 478.8L462.14 478.8Z" fill="#2060d8"/>
<path d="M466 474.14L467.44 476.9L464.56 476.9Z" fill="#2060d8"/>
<path d="M468.42 464.14L469.86 466.9L466.98 466.9Z" fill="#2060d8"/>
<path d="M470.84 469.74L472.28 472.5L469.4 472.5Z" fill="#2060d8"/>
<path d="M473.26 472.24L474.7 475L471.82 475Z" fill="#2060d8"/>
<path d="M475.68 479.84L477.12 482.6L474.24 482.6Z" fill="#2060d8"/>
<path d="M478.1 476.64L479.54 479.4L476.66 479.4Z" fill="#2060d8"/>
<path d="M480.52 475.04L481.96 477.8L479.08 477.8Z" fill="#2060d8"/>
<path d="M482.94 475.74L484.38 478.5L481.5 478.5Z" fill="#2060d8"/>
<path d="M485.36 477.34L486.8 480.1L483.92 480.1Z" fill="#2060d8"/>
<path d="M487.78 485.44L489.22 488.2L486.34 488.2Z" fill="#2060d8"/>
<path d="M490.2 489.84L491.64 492.6L488.76 492.6Z" fill="#2060d8"/>
<path d="M492.62 485.44L494.06 488.2L491.18 488.2Z" fill="#2060d8"/>
<path d="M495.04 491.74L496.48 494.5L493.6 494.5Z" fill="#2060d8"/>
<path d="M497.46 473.54L498.9 476.3L496.02 476.3Z" fill="#2060d8"/>
<path d="M499.88 479.14L501.32 481.9L498.44 481.9Z" fill="#2060d8"/>
<path d="M502.3 480.44L503.74 483.2L500.86 483.2Z" fill="#2060d8"/>
<path d="M504.72 481.64L506.16 484.4L503.28 484.4Z" fill="#2060d8"/>
<path d="M507.14 483.54L508.58 486.3L505.7 486.3Z" fill="#2060d8"/>
<path d="M509.56 487.34L511 490.1L508.12 490.1Z" fill="#2060d8"/>
<path d="M511.98 476.04L513.42 478.8L510.54 478.8Z" fill="#2060d8"/>
<path d="M514.4 476.64L515.84 479.4L512.96 479.4Z" fill="#2060d8"/>
<path d="M516.82 483.54L518.26 486.3L515.38 486.3Z" fill="#2060d8"/>
<path d="M519.24 479.14L520.68 481.9L517.8 481.9Z" fill="#2060d8"/>
<path d="M521.66 482.34L523.1 485.1L520.22 485.1Z" fill="#2060d8"/>
<path d="M524.08 487.34L525.52 490.1L522.64 490.1Z" fill="#2060d8"/>
<path d="M526.5 485.44L527.94 488.2L525.06 488.2Z" fill="#2060d8"/>
<path d="M528.92 472.94L530.36 475.7L527.48 475.7Z" fill="#2060d8"/>
<path d="M531.34 472.24L532.78 475L529.9 475Z" fill="#2060d8"/>
<path d="M533.76 471.04L535.2 473.8L532.32 473.8Z" fill="#2060d8"/>
<path d="M536.18 474.14L537.62 476.9L534.74 476.9Z" fill="#2060d8"/>
<path d="M538.6 464.14L540.04 466.9L537.16 466.9Z" fill="#2060d8"/>
<path d="M541.02 479.14L542.46 481.9L539.58 481.9Z" fill="#2060d8"/>
<path d="M543.44 477.94L544.88 480.7L542 480.7Z" fill="#2060d8"/>
<path d="M545.86 484.84L547.3 487.6L544.42 487.6Z" fill="#2060d8"/>
<path d="M548.28 475.44L549.72 478.2L546.84 478.2Z" fill="#2060d8"/>
<path d="M550.7 469.74L552.14 472.5L549.26 472.5Z" fill="#2060d8"/>
<path d="M553.12 489.84L554.56 492.6L551.68 492.6Z" fill="#2060d8"/>
<path d="M555.54 486.04L556.98 488.8L554.1 488.8Z" fill="#2060d8"/>
<path d="M557.96 487.94L559.4 490.7L556.52 490.7Z" fill="#2060d8"/>
<path d="M560.38 471.64L561.82 474.4L558.94 474.4Z" fill="#2060d8"/>
<path d="M562.8 482.34L564.24 485.1L561.36 485.1Z" fill="#2060d8"/>
<path d="M565.22 484.24L566.66 487L563.78 487Z" fill="#2060d8"/>
<path d="M567.64 481.64L569.08 484.4L566.2 484.4Z" fill="#2060d8"/>
<path d="M570.06 479.14L571.5 481.9L568.62 481.9Z" fill="#2060d8"/>
<path d="M572.48 481.64L573.92 484.4L571.04 484.4Z" fill="#2060d8"/>
<path d="M574.9 483.54L576.34 486.3L573.46 486.3Z" fill="#2060d8"/>
<path d="M577.32 483.54L578.76 486.3L575.88 486.3Z" fill="#2060d8"/>
<path d="M579.74 471.64L581.18 474.4L578.3 474.4Z" fill="#2060d8"/>
<path d="M582.16 473.54L583.6 476.3L580.72 476.3Z" fill="#2060d8"/>
<path d="M584.58 476.64L586.02 479.4L583.14 479.4Z" fill="#2060d8"/>
<path d="M587 487.94L588.44 490.7L585.56 490.7Z" fill="#2060d8"/>
<path d="M589.42 476.64L590.86 479.4L587.98 479.4Z" fill="#2060d8"/>
<path d="M591.84 469.14L593.28 471.9L590.4 471.9Z" fill="#2060d8"/>
<path d="M594.26 479.14L595.7 481.9L592.82 481.9Z" fill="#2060d8"/>
<path d="M596.68 476.64L598.12 479.4L595.24 479.4Z" fill="#2060d8"/>
<path d="M599.1 469.14L600.54 471.9L597.66 471.9Z" fill="#2060d8"/>
<path d="M601.52 485.44L602.96 488.2L600.08 488.2Z" fill="#2060d8"/>
<path d="M603.94 481.64L605.38 484.4L602.5 484.4Z" fill="#2060d8"/>
<path d="M606.36 477.94L607.8 480.7L604.92 480.7Z" fill="#2060d8"/>
<path d="M608.78 472.94L610.22 475.7L607.34 475.7Z" fill="#2060d8"/>
<path d="M611.2 466.64L612.64 469.4L609.76 469.4Z" fill="#2060d8"/>
<path d="M613.62 474.14L615.06 476.9L612.18 476.9Z" fill="#2060d8"/>
<path d="M616.04 458.44L617.48 461.2L614.6 461.2Z" fill="#2060d8"/>
<path d="M618.46 471.04L619.9 473.8L617.02 473.8Z" fill="#2060d8"/>
<path d="M620.88 473.54L622.32 476.3L619.44 476.3Z" fill="#2060d8"/>
<path d="M623.3 479.14L624.74 481.9L621.86 481.9Z" fill="#2060d8"/>
<path d="M625.72 472.24L627.16 475L624.28 475Z" fill="#2060d8"/>
<path d="M628.14 464.14L629.58 466.9L626.7 466.9Z" fill="#2060d8"/>
<path d="M630.56 464.14L632 466.9L629.12 466.9Z" fill="#2060d8"/>
<path d="M632.98 462.24L634.42 465L631.54 465Z" fill="#2060d8"/>
<path d="M635.4 470.44L636.84 473.2L633.96 473.2Z" fill="#2060d8"/>
<path d="M637.82 462.84L639.26 465.6L636.38 465.6Z" fill="#2060d8"/>
<path d="M640.24 472.24L641.68 475L638.8 475Z" fill="#2060d8"/>
<path d="M642.66 473.54L644.1 476.3L641.22 476.3Z" fill="#2060d8"/>
<path d="M645.08 479.84L646.52 482.6L643.64 482.6Z" fill="#2060d8"/>
<path d="M647.5 482.94L648.94 485.7L646.06 485.7Z" fill="#2060d8"/>
<path d="M649.92 490.44L651.36 493.2L648.48 493.2Z" fill="#2060d8"/>
<path d="M652.34 479.84L653.78 482.6L650.9 482.6Z" fill="#2060d8"/>
<path d="M654.76 471.64L656.2 474.4L653.32 474.4Z" fill="#2060d8"/>
<path d="M657.18 484.24L658.62 487L655.74 487Z" fill="#2060d8"/>
<polyline points="420.02,489.5 422.44,485.1 424.86,495.8 427.28,482.6 429.7,480.1 432.12,469.4 434.54,495.2 436.96,484.5 439.38,514.6 441.8,506.5 444.22,495.8 446.64,488.9 449.06,505.8 451.48,505.8 453.9,532.8 456.32,493.3 458.74,509.6 461.16,501.5 463.58,489.5 466,470.1 468.42,504.6 470.84,523.4 473.26,509 475.68,511.5 478.1,492 480.52,525.3 482.94,525.9 485.36,525.3 487.78,522.2 490.2,505.8 492.62,519 495.04,529.7 497.46,515.3 499.88,521.5 502.3,529.7 504.72,534.1 507.14,533.5 509.56,540.4 511.98,531.6 514.4,529.7 516.82,556.1 519.24,554.2 521.66,525.3 524.08,542.3 526.5,516.5 528.92,504 531.34,527.8 533.76,531 536.18,540.4 538.6,527.2 541.02,547.9 543.44,524.1 545.86,539.7 548.28,551 550.7,554.8 553.12,557.3 555.54,547.3 557.96,545.4 560.38,544.4 562.8,551.7 565.22,547.3 567.64,546.7 570.06,565.5 572.48,554.2 574.9,549.8 577.32,554.2 579.74,544.8 582.16,555.4 584.58,536 587,544.1 589.42,555.4 591.84,559.2 594.26,541.6 596.68,549.8 599.1,564.9 601.52,541.6 603.94,541 606.36,561.7 608.78,551.4 611.2,552.3 613.62,566.1 616.04,564.9 618.46,561.1 620.88,558.6 623.3,564.2 625.72,568.6 628.14,570.5 630.56,554.2 632.98,551 635.4,561.7 637.82,550.4 640.24,550.4 642.66,544.1 645.08,554.2 647.5,559.2 649.92,550.4 652.34,559.8 654.76,557.3 657.18,534.1" fill="none" stroke="#ae6ee8" stroke-width="1.0" stroke-linejoin="round"/>
<path d="M420.02 487.94L421.46 489.5L420.02 491.06L418.58 489.5Z" fill="#a862e4"/>
<path d="M422.44 483.54L423.88 485.1L422.44 486.66L421 485.1Z" fill="#a862e4"/>
<path d="M424.86 494.24L426.3 495.8L424.86 497.36L423.42 495.8Z" fill="#a862e4"/>
<path d="M427.28 481.04L428.72 482.6L427.28 484.16L425.84 482.6Z" fill="#a862e4"/>
<path d="M429.7 478.54L431.14 480.1L429.7 481.66L428.26 480.1Z" fill="#a862e4"/>
<path d="M432.12 467.84L433.56 469.4L432.12 470.96L430.68 469.4Z" fill="#a862e4"/>
<path d="M434.54 493.64L435.98 495.2L434.54 496.76L433.1 495.2Z" fill="#a862e4"/>
<path d="M436.96 482.94L438.4 484.5L436.96 486.06L435.52 484.5Z" fill="#a862e4"/>
<path d="M439.38 513.04L440.82 514.6L439.38 516.16L437.94 514.6Z" fill="#a862e4"/>
<path d="M441.8 504.94L443.24 506.5L441.8 508.06L440.36 506.5Z" fill="#a862e4"/>
<path d="M444.22 494.24L445.66 495.8L444.22 497.36L442.78 495.8Z" fill="#a862e4"/>
<path d="M446.64 487.34L448.08 488.9L446.64 490.46L445.2 488.9Z" fill="#a862e4"/>
<path d="M449.06 504.24L450.5 505.8L449.06 507.36L447.62 505.8Z" fill="#a862e4"/>
<path d="M451.48 504.24L452.92 505.8L451.48 507.36L450.04 505.8Z" fill="#a862e4"/>
<path d="M453.9 531.24L455.34 532.8L453.9 534.36L452.46 532.8Z" fill="#a862e4"/>
<path d="M456.32 491.74L457.76 493.3L456.32 494.86L454.88 493.3Z" fill="#a862e4"/>
<path d="M458.74 508.04L460.18 509.6L458.74 511.16L457.3 509.6Z" fill="#a862e4"/>
<path d="M461.16 499.94L462.6 501.5L461.16 503.06L459.72 501.5Z" fill="#a862e4"/>
<path d="M463.58 487.94L465.02 489.5L463.58 491.06L462.14 489.5Z" fill="#a862e4"/>
<path d="M466 468.54L467.44 470.1L466 471.66L464.56 470.1Z" fill="#a862e4"/>
<path d="M468.42 503.04L469.86 504.6L468.42 506.16L466.98 504.6Z" fill="#a862e4"/>
<path d="M470.84 521.84L472.28 523.4L470.84 524.96L469.4 523.4Z" fill="#a862e4"/>
<path d="M473.26 507.44L474.7 509L473.26 510.56L471.82 509Z" fill="#a862e4"/>
<path d="M475.68 509.94L477.12 511.5L475.68 513.06L474.24 511.5Z" fill="#a862e4"/>
<path d="M478.1 490.44L479.54 492L478.1 493.56L476.66 492Z" fill="#a862e4"/>
<path d="M480.52 523.74L481.96 525.3L480.52 526.86L479.08 525.3Z" fill="#a862e4"/>
<path d="M482.94 524.34L484.38 525.9L482.94 527.46L481.5 525.9Z" fill="#a862e4"/>
<path d="M485.36 523.74L486.8 525.3L485.36 526.86L483.92 525.3Z" fill="#a862e4"/>
<path d="M487.78 520.64L489.22 522.2L487.78 523.76L486.34 522.2Z" fill="#a862e4"/>
<path d="M490.2 504.24L491.64 505.8L490.2 507.36L488.76 505.8Z" fill="#a862e4"/>
<path d="M492.62 517.44L494.06 519L492.62 520.56L491.18 519Z" fill="#a862e4"/>
<path d="M495.04 528.14L496.48 529.7L495.04 531.26L493.6 529.7Z" fill="#a862e4"/>
<path d="M497.46 513.74L498.9 515.3L497.46 516.86L496.02 515.3Z" fill="#a862e4"/>
<path d="M499.88 519.94L501.32 521.5L499.88 523.06L498.44 521.5Z" fill="#a862e4"/>
<path d="M502.3 528.14L503.74 529.7L502.3 531.26L500.86 529.7Z" fill="#a862e4"/>
<path d="M504.72 532.54L506.16 534.1L504.72 535.66L503.28 534.1Z" fill="#a862e4"/>
<path d="M507.14 531.94L508.58 533.5L507.14 535.06L505.7 533.5Z" fill="#a862e4"/>
<path d="M509.56 538.84L511 540.4L509.56 541.96L508.12 540.4Z" fill="#a862e4"/>
<path d="M511.98 530.04L513.42 531.6L511.98 533.16L510.54 531.6Z" fill="#a862e4"/>
<path d="M514.4 528.14L515.84 529.7L514.4 531.26L512.96 529.7Z" fill="#a862e4"/>
<path d="M516.82 554.54L518.26 556.1L516.82 557.66L515.38 556.1Z" fill="#a862e4"/>
<path d="M519.24 552.64L520.68 554.2L519.24 555.76L517.8 554.2Z" fill="#a862e4"/>
<path d="M521.66 523.74L523.1 525.3L521.66 526.86L520.22 525.3Z" fill="#a862e4"/>
<path d="M524.08 540.74L525.52 542.3L524.08 543.86L522.64 542.3Z" fill="#a862e4"/>
<path d="M526.5 514.94L527.94 516.5L526.5 518.06L525.06 516.5Z" fill="#a862e4"/>
<path d="M528.92 502.44L530.36 504L528.92 505.56L527.48 504Z" fill="#a862e4"/>
<path d="M531.34 526.24L532.78 527.8L531.34 529.36L529.9 527.8Z" fill="#a862e4"/>
<path d="M533.76 529.44L535.2 531L533.76 532.56L532.32 531Z" fill="#a862e4"/>
<path d="M536.18 538.84L537.62 540.4L536.18 541.96L534.74 540.4Z" fill="#a862e4"/>
<path d="M538.6 525.64L540.04 527.2L538.6 528.76L537.16 527.2Z" fill="#a862e4"/>
<path d="M541.02 546.34L542.46 547.9L541.02 549.46L539.58 547.9Z" fill="#a862e4"/>
<path d="M543.44 522.54L544.88 524.1L543.44 525.66L542 524.1Z" fill="#a862e4"/>
<path d="M545.86 538.14L547.3 539.7L545.86 541.26L544.42 539.7Z" fill="#a862e4"/>
<path d="M548.28 549.44L549.72 551L548.28 552.56L546.84 551Z" fill="#a862e4"/>
<path d="M550.7 553.24L552.14 554.8L550.7 556.36L549.26 554.8Z" fill="#a862e4"/>
<path d="M553.12 555.74L554.56 557.3L553.12 558.86L551.68 557.3Z" fill="#a862e4"/>
<path d="M555.54 545.74L556.98 547.3L555.54 548.86L554.1 547.3Z" fill="#a862e4"/>
<path d="M557.96 543.84L559.4 545.4L557.96 546.96L556.52 545.4Z" fill="#a862e4"/>
<path d="M560.38 542.84L561.82 544.4L560.38 545.96L558.94 544.4Z" fill="#a862e4"/>
<path d="M562.8 550.14L564.24 551.7L562.8 553.26L561.36 551.7Z" fill="#a862e4"/>
<path d="M565.22 545.74L566.66 547.3L565.22 548.86L563.78 547.3Z" fill="#a862e4"/>
<path d="M567.64 545.14L569.08 546.7L567.64 548.26L566.2 546.7Z" fill="#a862e4"/>
<path d="M570.06 563.94L571.5 565.5L570.06 567.06L568.62 565.5Z" fill="#a862e4"/>
<path d="M572.48 552.64L573.92 554.2L572.48 555.76L571.04 554.2Z" fill="#a862e4"/>
<path d="M574.9 548.24L576.34 549.8L574.9 551.36L573.46 549.8Z" fill="#a862e4"/>
<path d="M577.32 552.64L578.76 554.2L577.32 555.76L575.88 554.2Z" fill="#a862e4"/>
<path d="M579.74 543.24L581.18 544.8L579.74 546.36L578.3 544.8Z" fill="#a862e4"/>
<path d="M582.16 553.84L583.6 555.4L582.16 556.96L580.72 555.4Z" fill="#a862e4"/>
<path d="M584.58 534.44L586.02 536L584.58 537.56L583.14 536Z" fill="#a862e4"/>
<path d="M587 542.54L588.44 544.1L587 545.66L585.56 544.1Z" fill="#a862e4"/>
<path d="M589.42 553.84L590.86 555.4L589.42 556.96L587.98 555.4Z" fill="#a862e4"/>
<path d="M591.84 557.64L593.28 559.2L591.84 560.76L590.4 559.2Z" fill="#a862e4"/>
<path d="M594.26 540.04L595.7 541.6L594.26 543.16L592.82 541.6Z" fill="#a862e4"/>
<path d="M596.68 548.24L598.12 549.8L596.68 551.36L595.24 549.8Z" fill="#a862e4"/>
<path d="M599.1 563.34L600.54 564.9L599.1 566.46L597.66 564.9Z" fill="#a862e4"/>
<path d="M601.52 540.04L602.96 541.6L601.52 543.16L600.08 541.6Z" fill="#a862e4"/>
<path d="M603.94 539.44L605.38 541L603.94 542.56L602.5 541Z" fill="#a862e4"/>
<path d="M606.36 560.14L607.8 561.7L606.36 563.26L604.92 561.7Z" fill="#a862e4"/>
<path d="M608.78 549.84L610.22 551.4L608.78 552.96L607.34 551.4Z" fill="#a862e4"/>
<path d="M611.2 550.74L612.64 552.3L611.2 553.86L609.76 552.3Z" fill="#a862e4"/>
<path d="M613.62 564.54L615.06 566.1L613.62 567.66L612.18 566.1Z" fill="#a862e4"/>
<path d="M616.04 563.34L617.48 564.9L616.04 566.46L614.6 564.9Z" fill="#a862e4"/>
<path d="M618.46 559.54L619.9 561.1L618.46 562.66L617.02 561.1Z" fill="#a862e4"/>
<path d="M620.88 557.04L622.32 558.6L620.88 560.16L619.44 558.6Z" fill="#a862e4"/>
<path d="M623.3 562.64L624.74 564.2L623.3 565.76L621.86 564.2Z" fill="#a862e4"/>
<path d="M625.72 567.04L627.16 568.6L625.72 570.16L624.28 568.6Z" fill="#a862e4"/>
<path d="M628.14 568.94L629.58 570.5L628.14 572.06L626.7 570.5Z" fill="#a862e4"/>
<path d="M630.56 552.64L632 554.2L630.56 555.76L629.12 554.2Z" fill="#a862e4"/>
<path d="M632.98 549.44L634.42 551L632.98 552.56L631.54 551Z" fill="#a862e4"/>
<path d="M635.4 560.14L636.84 561.7L635.4 563.26L633.96 561.7Z" fill="#a862e4"/>
<path d="M637.82 548.84L639.26 550.4L637.82 551.96L636.38 550.4Z" fill="#a862e4"/>
<path d="M640.24 548.84L641.68 550.4L640.24 551.96L638.8 550.4Z" fill="#a862e4"/>
<path d="M642.66 542.54L644.1 544.1L642.66 545.66L641.22 544.1Z" fill="#a862e4"/>
<path d="M645.08 552.64L646.52 554.2L645.08 555.76L643.64 554.2Z" fill="#a862e4"/>
<path d="M647.5 557.64L648.94 559.2L647.5 560.76L646.06 559.2Z" fill="#a862e4"/>
<path d="M649.92 548.84L651.36 550.4L649.92 551.96L648.48 550.4Z" fill="#a862e4"/>
<path d="M652.34 558.24L653.78 559.8L652.34 561.36L650.9 559.8Z" fill="#a862e4"/>
<path d="M654.76 555.74L656.2 557.3L654.76 558.86L653.32 557.3Z" fill="#a862e4"/>
<path d="M657.18 532.54L658.62 534.1L657.18 535.66L655.74 534.1Z" fill="#a862e4"/>
</g>
<path d="M393.4 347.8V580.5H683.8" fill="none" stroke="#1a1a1a" stroke-width="1.1"/>
<text x="386.9" y="565.95" font-size="9.3" text-anchor="end">0.4</text>
<text x="386.9" y="530.15" font-size="9.3" text-anchor="end">0.6</text>
<text x="386.9" y="494.35" font-size="9.3" text-anchor="end">0.8</text>
<text x="386.9" y="458.55" font-size="9.3" text-anchor="end">1.0</text>
<text x="386.9" y="422.75" font-size="9.3" text-anchor="end">1.2</text>
<text x="386.9" y="386.95" font-size="9.3" text-anchor="end">1.4</text>
<text x="386.9" y="351.15" font-size="9.3" text-anchor="end">1.6</text>
<text x="417.6" y="596.9" font-size="9.3" text-anchor="middle">0</text>
<text x="466" y="596.9" font-size="9.3" text-anchor="middle">20</text>
<text x="514.4" y="596.9" font-size="9.3" text-anchor="middle">40</text>
<text x="562.8" y="596.9" font-size="9.3" text-anchor="middle">60</text>
<text x="611.2" y="596.9" font-size="9.3" text-anchor="middle">80</text>
<text x="659.6" y="596.9" font-size="9.3" text-anchor="middle">100</text>
<path d="M391.1 580.5H393.4M389.4 562.6H393.4M391.1 544.7H393.4M389.4 526.8H393.4M391.1 508.9H393.4M389.4 491H393.4M391.1 473.1H393.4M389.4 455.2H393.4M391.1 437.3H393.4M389.4 419.4H393.4M391.1 401.5H393.4M389.4 383.6H393.4M391.1 365.7H393.4M389.4 347.8H393.4M393.4 580.5V582.8M417.6 580.5V584.5M441.8 580.5V582.8M466 580.5V584.5M490.2 580.5V582.8M514.4 580.5V584.5M538.6 580.5V582.8M562.8 580.5V584.5M587 580.5V582.8M611.2 580.5V584.5M635.4 580.5V582.8M659.6 580.5V584.5M683.8 580.5V582.8" stroke="#1a1a1a" stroke-width="1"/>
<text transform="translate(369.8,464.5) rotate(-90)" font-size="11.3" text-anchor="middle">Training loss</text>
<text x="538.6" y="612.9" font-size="11.3" text-anchor="middle"># Round</text>
<text x="549.9" y="635.2" font-size="14.9" text-anchor="middle">Scenario D</text>
<rect x="591.6" y="327.7" width="76.1" height="67.5" fill="#fff" stroke="#b4b4b4" stroke-width="0.8"/>
<g class="bl">
<line x1="593.2" y1="335" x2="618" y2="335" stroke="#5a5a5a" stroke-width="1.6"/>
<rect x="604.5" y="333.9" width="2.2" height="2.2" fill="#383838"/>
<line x1="593.2" y1="348.3" x2="618" y2="348.3" stroke="#e05a5a" stroke-width="1.6"/>
<circle cx="605.6" cy="348.3" r="1.16" fill="#e42e2e"/>
<line x1="593.2" y1="361.6" x2="618" y2="361.6" stroke="#7aa6e6" stroke-width="1.6"/>
<path d="M605.6 360.17L606.92 362.7L604.28 362.7Z" fill="#2060d8"/>
<line x1="593.2" y1="374.7" x2="618" y2="374.7" stroke="#3fa872" stroke-width="1.6"/>
<path d="M605.6 376.13L606.92 373.6L604.28 373.6Z" fill="#279a58"/>
<line x1="593.2" y1="388.4" x2="618" y2="388.4" stroke="#b889ee" stroke-width="1.6"/>
<path d="M605.6 386.97L606.92 388.4L605.6 389.83L604.28 388.4Z" fill="#a862e4"/>
</g>
<text x="622.4" y="339.42" font-size="10.9">FedAvg</text>
<text x="622.4" y="352.72" font-size="10.9">FedProx</text>
<text x="622.4" y="366.02" font-size="10.9">Scaffold</text>
<text x="622.4" y="379.12" font-size="10.9">FedNova</text>
<text x="622.4" y="392.82" font-size="10.9">FedOcw</text>
</g>
<g id="pE">
<g class="bl">
<polyline points="274.3,816.5 276.75,795.8 279.2,795.2 281.66,772.6 284.11,801.5 286.56,818.4 289.01,811.5 291.46,789.5 293.91,783.9 296.37,825.5 298.82,823 301.27,812.1 303.72,830 306.17,840 308.62,826 311.07,824 313.53,823 315.98,827 318.43,836.7 320.88,835.3 323.33,818.3 325.78,824 328.23,836 330.69,831.5 333.14,811.5 335.59,805 338.04,812.5 340.49,836 342.94,840 345.39,819.7 347.85,792.7 350.3,805.2 352.75,807.8 355.2,805.9 357.65,822.2 360.1,821.6 362.56,805.9 365.01,815.9 367.46,800.2 369.91,814 372.36,821.6 374.81,824.1 377.26,802.7 379.72,812.8 382.17,836.6 384.62,814.7 387.07,820.9 389.52,810.3 391.97,815.9 394.43,820.9 396.88,805.2 399.33,795.8 401.78,818.4 404.23,807.1 406.68,804.6 409.13,808.4 411.59,809.6 414.04,822.8 416.49,821.6 418.94,837.9 421.39,826.6 423.84,826 426.29,826.6 428.75,831.6 431.2,835.4 433.65,833.5 436.1,834.7 438.55,818.4 441,829.1 443.46,820.3 445.91,826.6 448.36,813.4 450.81,800.2 453.26,820.3 455.71,808.4 458.16,815.3 460.62,822.2 463.07,782.6 465.52,798.3 467.97,813.4 470.42,807.8 472.87,807.1 475.32,805.2 477.78,785.2 480.23,793.9 482.68,801.5 485.13,815.3 487.58,818.4 490.03,818 492.49,800.6 494.94,813 497.39,813 499.84,806.4 502.29,809.8 504.74,809 507.19,797.3 509.65,776.6 512.1,799 514.55,803.1" fill="none" stroke="#4c4c4c" stroke-width="1.0" stroke-linejoin="round"/>
<rect x="273.1" y="815.3" width="2.4" height="2.4" fill="#383838"/>
<rect x="275.55" y="794.6" width="2.4" height="2.4" fill="#383838"/>
<rect x="278" y="794" width="2.4" height="2.4" fill="#383838"/>
<rect x="280.46" y="771.4" width="2.4" height="2.4" fill="#383838"/>
<rect x="282.91" y="800.3" width="2.4" height="2.4" fill="#383838"/>
<rect x="285.36" y="817.2" width="2.4" height="2.4" fill="#383838"/>
<rect x="287.81" y="810.3" width="2.4" height="2.4" fill="#383838"/>
<rect x="290.26" y="788.3" width="2.4" height="2.4" fill="#383838"/>
<rect x="292.71" y="782.7" width="2.4" height="2.4" fill="#383838"/>
<rect x="295.17" y="824.3" width="2.4" height="2.4" fill="#383838"/>
<rect x="297.62" y="821.8" width="2.4" height="2.4" fill="#383838"/>
<rect x="300.07" y="810.9" width="2.4" height="2.4" fill="#383838"/>
<rect x="302.52" y="828.8" width="2.4" height="2.4" fill="#383838"/>
<rect x="304.97" y="838.8" width="2.4" height="2.4" fill="#383838"/>
<rect x="307.42" y="824.8" width="2.4" height="2.4" fill="#383838"/>
<rect x="309.87" y="822.8" width="2.4" height="2.4" fill="#383838"/>
<rect x="312.33" y="821.8" width="2.4" height="2.4" fill="#383838"/>
<rect x="314.78" y="825.8" width="2.4" height="2.4" fill="#383838"/>
<rect x="317.23" y="835.5" width="2.4" height="2.4" fill="#383838"/>
<rect x="319.68" y="834.1" width="2.4" height="2.4" fill="#383838"/>
<rect x="322.13" y="817.1" width="2.4" height="2.4" fill="#383838"/>
<rect x="324.58" y="822.8" width="2.4" height="2.4" fill="#383838"/>
<rect x="327.03" y="834.8" width="2.4" height="2.4" fill="#383838"/>
<rect x="329.49" y="830.3" width="2.4" height="2.4" fill="#383838"/>
<rect x="331.94" y="810.3" width="2.4" height="2.4" fill="#383838"/>
<rect x="334.39" y="803.8" width="2.4" height="2.4" fill="#383838"/>
<rect x="336.84" y="811.3" width="2.4" height="2.4" fill="#383838"/>
<rect x="339.29" y="834.8" width="2.4" height="2.4" fill="#383838"/>
<rect x="341.74" y="838.8" width="2.4" height="2.4" fill="#383838"/>
<rect x="344.19" y="818.5" width="2.4" height="2.4" fill="#383838"/>
<rect x="346.65" y="791.5" width="2.4" height="2.4" fill="#383838"/>
<rect x="349.1" y="804" width="2.4" height="2.4" fill="#383838"/>
<rect x="351.55" y="806.6" width="2.4" height="2.4" fill="#383838"/>
<rect x="354" y="804.7" width="2.4" height="2.4" fill="#383838"/>
<rect x="356.45" y="821" width="2.4" height="2.4" fill="#383838"/>
<rect x="358.9" y="820.4" width="2.4" height="2.4" fill="#383838"/>
<rect x="361.36" y="804.7" width="2.4" height="2.4" fill="#383838"/>
<rect x="363.81" y="814.7" width="2.4" height="2.4" fill="#383838"/>
<rect x="366.26" y="799" width="2.4" height="2.4" fill="#383838"/>
<rect x="368.71" y="812.8" width="2.4" height="2.4" fill="#383838"/>
<rect x="371.16" y="820.4" width="2.4" height="2.4" fill="#383838"/>
<rect x="373.61" y="822.9" width="2.4" height="2.4" fill="#383838"/>
<rect x="376.06" y="801.5" width="2.4" height="2.4" fill="#383838"/>
<rect x="378.52" y="811.6" width="2.4" height="2.4" fill="#383838"/>
<rect x="380.97" y="835.4" width="2.4" height="2.4" fill="#383838"/>
<rect x="383.42" y="813.5" width="2.4" height="2.4" fill="#383838"/>
<rect x="385.87" y="819.7" width="2.4" height="2.4" fill="#383838"/>
<rect x="388.32" y="809.1" width="2.4" height="2.4" fill="#383838"/>
<rect x="390.77" y="814.7" width="2.4" height="2.4" fill="#383838"/>
<rect x="393.23" y="819.7" width="2.4" height="2.4" fill="#383838"/>
<rect x="395.68" y="804" width="2.4" height="2.4" fill="#383838"/>
<rect x="398.13" y="794.6" width="2.4" height="2.4" fill="#383838"/>
<rect x="400.58" y="817.2" width="2.4" height="2.4" fill="#383838"/>
<rect x="403.03" y="805.9" width="2.4" height="2.4" fill="#383838"/>
<rect x="405.48" y="803.4" width="2.4" height="2.4" fill="#383838"/>
<rect x="407.93" y="807.2" width="2.4" height="2.4" fill="#383838"/>
<rect x="410.39" y="808.4" width="2.4" height="2.4" fill="#383838"/>
<rect x="412.84" y="821.6" width="2.4" height="2.4" fill="#383838"/>
<rect x="415.29" y="820.4" width="2.4" height="2.4" fill="#383838"/>
<rect x="417.74" y="836.7" width="2.4" height="2.4" fill="#383838"/>
<rect x="420.19" y="825.4" width="2.4" height="2.4" fill="#383838"/>
<rect x="422.64" y="824.8" width="2.4" height="2.4" fill="#383838"/>
<rect x="425.09" y="825.4" width="2.4" height="2.4" fill="#383838"/>
<rect x="427.55" y="830.4" width="2.4" height="2.4" fill="#383838"/>
<rect x="430" y="834.2" width="2.4" height="2.4" fill="#383838"/>
<rect x="432.45" y="832.3" width="2.4" height="2.4" fill="#383838"/>
<rect x="434.9" y="833.5" width="2.4" height="2.4" fill="#383838"/>
<rect x="437.35" y="817.2" width="2.4" height="2.4" fill="#383838"/>
<rect x="439.8" y="827.9" width="2.4" height="2.4" fill="#383838"/>
<rect x="442.26" y="819.1" width="2.4" height="2.4" fill="#383838"/>
<rect x="444.71" y="825.4" width="2.4" height="2.4" fill="#383838"/>
<rect x="447.16" y="812.2" width="2.4" height="2.4" fill="#383838"/>
<rect x="449.61" y="799" width="2.4" height="2.4" fill="#383838"/>
<rect x="452.06" y="819.1" width="2.4" height="2.4" fill="#383838"/>
<rect x="454.51" y="807.2" width="2.4" height="2.4" fill="#383838"/>
<rect x="456.96" y="814.1" width="2.4" height="2.4" fill="#383838"/>
<rect x="459.42" y="821" width="2.4" height="2.4" fill="#383838"/>
<rect x="461.87" y="781.4" width="2.4" height="2.4" fill="#383838"/>
<rect x="464.32" y="797.1" width="2.4" height="2.4" fill="#383838"/>
<rect x="466.77" y="812.2" width="2.4" height="2.4" fill="#383838"/>
<rect x="469.22" y="806.6" width="2.4" height="2.4" fill="#383838"/>
<rect x="471.67" y="805.9" width="2.4" height="2.4" fill="#383838"/>
<rect x="474.12" y="804" width="2.4" height="2.4" fill="#383838"/>
<rect x="476.58" y="784" width="2.4" height="2.4" fill="#383838"/>
<rect x="479.03" y="792.7" width="2.4" height="2.4" fill="#383838"/>
<rect x="481.48" y="800.3" width="2.4" height="2.4" fill="#383838"/>
<rect x="483.93" y="814.1" width="2.4" height="2.4" fill="#383838"/>
<rect x="486.38" y="817.2" width="2.4" height="2.4" fill="#383838"/>
<rect x="488.83" y="816.8" width="2.4" height="2.4" fill="#383838"/>
<rect x="491.29" y="799.4" width="2.4" height="2.4" fill="#383838"/>
<rect x="493.74" y="811.8" width="2.4" height="2.4" fill="#383838"/>
<rect x="496.19" y="811.8" width="2.4" height="2.4" fill="#383838"/>
<rect x="498.64" y="805.2" width="2.4" height="2.4" fill="#383838"/>
<rect x="501.09" y="808.6" width="2.4" height="2.4" fill="#383838"/>
<rect x="503.54" y="807.8" width="2.4" height="2.4" fill="#383838"/>
<rect x="505.99" y="796.1" width="2.4" height="2.4" fill="#383838"/>
<rect x="508.45" y="775.4" width="2.4" height="2.4" fill="#383838"/>
<rect x="510.9" y="797.8" width="2.4" height="2.4" fill="#383838"/>
<rect x="513.35" y="801.9" width="2.4" height="2.4" fill="#383838"/>
<polyline points="274.3,866.1 276.75,856.7 279.2,842.9 281.66,837.9 284.11,841.7 286.56,822.2 289.01,803.4 291.46,817 293.91,829 296.37,838.3 298.82,830.5 301.27,835.3 303.72,838 306.17,818.5 308.62,817.8 311.07,803.4 313.53,816 315.98,826.8 318.43,821.3 320.88,826.5 323.33,832 325.78,834 328.23,830.5 330.69,824.5 333.14,807 335.59,814 338.04,827.8 340.49,819.7 342.94,814 345.39,811.5 347.85,815.3 350.3,800.2 352.75,815.3 355.2,809 357.65,811.5 360.1,820.9 362.56,824.1 365.01,825.3 367.46,829.1 369.91,806.5 372.36,784.5 374.81,800.2 377.26,805.9 379.72,819.7 382.17,808.4 384.62,812.8 387.07,803.4 389.52,815.9 391.97,797.1 394.43,783.9 396.88,805.2 399.33,768.8 401.78,793.3 404.23,790.2 406.68,786.4 409.13,802.7 411.59,800.8 414.04,779.5 416.49,781.4 418.94,782 421.39,783.9 423.84,796.5 426.29,783.9 428.75,790.2 431.2,797.1 433.65,800.8 436.1,787.7 438.55,800.8 441,803.4 443.46,798.3 445.91,810.9 448.36,812.1 450.81,786.4 453.26,794.6 455.71,800.2 458.16,805.9 460.62,802.1 463.07,792.7 465.52,782 467.97,782 470.42,766.9 472.87,772.6 475.32,797.7 477.78,794.6 480.23,819.7 482.68,808.4 485.13,805.9 487.58,804 490.03,785.2 492.49,794.8 494.94,795.7 497.39,804 499.84,794.8 502.29,789.9 504.74,794 507.19,775.8 509.65,774.1 512.1,768.3 514.55,790.7" fill="none" stroke="#e63c3c" stroke-width="1.0" stroke-linejoin="round"/>
<circle cx="274.3" cy="866.1" r="1.26" fill="#e42e2e"/>
<circle cx="276.75" cy="856.7" r="1.26" fill="#e42e2e"/>
<circle cx="279.2" cy="842.9" r="1.26" fill="#e42e2e"/>
<circle cx="281.66" cy="837.9" r="1.26" fill="#e42e2e"/>
<circle cx="284.11" cy="841.7" r="1.26" fill="#e42e2e"/>
<circle cx="286.56" cy="822.2" r="1.26" fill="#e42e2e"/>
<circle cx="289.01" cy="803.4" r="1.26" fill="#e42e2e"/>
<circle cx="291.46" cy="817" r="1.26" fill="#e42e2e"/>
<circle cx="293.91" cy="829" r="1.26" fill="#e42e2e"/>
<circle cx="296.37" cy="838.3" r="1.26" fill="#e42e2e"/>
<circle cx="298.82" cy="830.5" r="1.26" fill="#e42e2e"/>
<circle cx="301.27" cy="835.3" r="1.26" fill="#e42e2e"/>
<circle cx="303.72" cy="838" r="1.26" fill="#e42e2e"/>
<circle cx="306.17" cy="818.5" r="1.26" fill="#e42e2e"/>
<circle cx="308.62" cy="817.8" r="1.26" fill="#e42e2e"/>
<circle cx="311.07" cy="803.4" r="1.26" fill="#e42e2e"/>
<circle cx="313.53" cy="816" r="1.26" fill="#e42e2e"/>
<circle cx="315.98" cy="826.8" r="1.26" fill="#e42e2e"/>
<circle cx="318.43" cy="821.3" r="1.26" fill="#e42e2e"/>
<circle cx="320.88" cy="826.5" r="1.26" fill="#e42e2e"/>
<circle cx="323.33" cy="832" r="1.26" fill="#e42e2e"/>
<circle cx="325.78" cy="834" r="1.26" fill="#e42e2e"/>
<circle cx="328.23" cy="830.5" r="1.26" fill="#e42e2e"/>
<circle cx="330.69" cy="824.5" r="1.26" fill="#e42e2e"/>
<circle cx="333.14" cy="807" r="1.26" fill="#e42e2e"/>
<circle cx="335.59" cy="814" r="1.26" fill="#e42e2e"/>
<circle cx="338.04" cy="827.8" r="1.26" fill="#e42e2e"/>
<circle cx="340.49" cy="819.7" r="1.26" fill="#e42e2e"/>
<circle cx="342.94" cy="814" r="1.26" fill="#e42e2e"/>
<circle cx="345.39" cy="811.5" r="1.26" fill="#e42e2e"/>
<circle cx="347.85" cy="815.3" r="1.26" fill="#e42e2e"/>
<circle cx="350.3" cy="800.2" r="1.26" fill="#e42e2e"/>
<circle cx="352.75" cy="815.3" r="1.26" fill="#e42e2e"/>
<circle cx="355.2" cy="809" r="1.26" fill="#e42e2e"/>
<circle cx="357.65" cy="811.5" r="1.26" fill="#e42e2e"/>
<circle cx="360.1" cy="820.9" r="1.26" fill="#e42e2e"/>
<circle cx="362.56" cy="824.1" r="1.26" fill="#e42e2e"/>
<circle cx="365.01" cy="825.3" r="1.26" fill="#e42e2e"/>
<circle cx="367.46" cy="829.1" r="1.26" fill="#e42e2e"/>
<circle cx="369.91" cy="806.5" r="1.26" fill="#e42e2e"/>
<circle cx="372.36" cy="784.5" r="1.26" fill="#e42e2e"/>
<circle cx="374.81" cy="800.2" r="1.26" fill="#e42e2e"/>
<circle cx="377.26" cy="805.9" r="1.26" fill="#e42e2e"/>
<circle cx="379.72" cy="819.7" r="1.26" fill="#e42e2e"/>
<circle cx="382.17" cy="808.4" r="1.26" fill="#e42e2e"/>
<circle cx="384.62" cy="812.8" r="1.26" fill="#e42e2e"/>
<circle cx="387.07" cy="803.4" r="1.26" fill="#e42e2e"/>
<circle cx="389.52" cy="815.9" r="1.26" fill="#e42e2e"/>
<circle cx="391.97" cy="797.1" r="1.26" fill="#e42e2e"/>
<circle cx="394.43" cy="783.9" r="1.26" fill="#e42e2e"/>
<circle cx="396.88" cy="805.2" r="1.26" fill="#e42e2e"/>
<circle cx="399.33" cy="768.8" r="1.26" fill="#e42e2e"/>
<circle cx="401.78" cy="793.3" r="1.26" fill="#e42e2e"/>
<circle cx="404.23" cy="790.2" r="1.26" fill="#e42e2e"/>
<circle cx="406.68" cy="786.4" r="1.26" fill="#e42e2e"/>
<circle cx="409.13" cy="802.7" r="1.26" fill="#e42e2e"/>
<circle cx="411.59" cy="800.8" r="1.26" fill="#e42e2e"/>
<circle cx="414.04" cy="779.5" r="1.26" fill="#e42e2e"/>
<circle cx="416.49" cy="781.4" r="1.26" fill="#e42e2e"/>
<circle cx="418.94" cy="782" r="1.26" fill="#e42e2e"/>
<circle cx="421.39" cy="783.9" r="1.26" fill="#e42e2e"/>
<circle cx="423.84" cy="796.5" r="1.26" fill="#e42e2e"/>
<circle cx="426.29" cy="783.9" r="1.26" fill="#e42e2e"/>
<circle cx="428.75" cy="790.2" r="1.26" fill="#e42e2e"/>
<circle cx="431.2" cy="797.1" r="1.26" fill="#e42e2e"/>
<circle cx="433.65" cy="800.8" r="1.26" fill="#e42e2e"/>
<circle cx="436.1" cy="787.7" r="1.26" fill="#e42e2e"/>
<circle cx="438.55" cy="800.8" r="1.26" fill="#e42e2e"/>
<circle cx="441" cy="803.4" r="1.26" fill="#e42e2e"/>
<circle cx="443.46" cy="798.3" r="1.26" fill="#e42e2e"/>
<circle cx="445.91" cy="810.9" r="1.26" fill="#e42e2e"/>
<circle cx="448.36" cy="812.1" r="1.26" fill="#e42e2e"/>
<circle cx="450.81" cy="786.4" r="1.26" fill="#e42e2e"/>
<circle cx="453.26" cy="794.6" r="1.26" fill="#e42e2e"/>
<circle cx="455.71" cy="800.2" r="1.26" fill="#e42e2e"/>
<circle cx="458.16" cy="805.9" r="1.26" fill="#e42e2e"/>
<circle cx="460.62" cy="802.1" r="1.26" fill="#e42e2e"/>
<circle cx="463.07" cy="792.7" r="1.26" fill="#e42e2e"/>
<circle cx="465.52" cy="782" r="1.26" fill="#e42e2e"/>
<circle cx="467.97" cy="782" r="1.26" fill="#e42e2e"/>
<circle cx="470.42" cy="766.9" r="1.26" fill="#e42e2e"/>
<circle cx="472.87" cy="772.6" r="1.26" fill="#e42e2e"/>
<circle cx="475.32" cy="797.7" r="1.26" fill="#e42e2e"/>
<circle cx="477.78" cy="794.6" r="1.26" fill="#e42e2e"/>
<circle cx="480.23" cy="819.7" r="1.26" fill="#e42e2e"/>
<circle cx="482.68" cy="808.4" r="1.26" fill="#e42e2e"/>
<circle cx="485.13" cy="805.9" r="1.26" fill="#e42e2e"/>
<circle cx="487.58" cy="804" r="1.26" fill="#e42e2e"/>
<circle cx="490.03" cy="785.2" r="1.26" fill="#e42e2e"/>
<circle cx="492.49" cy="794.8" r="1.26" fill="#e42e2e"/>
<circle cx="494.94" cy="795.7" r="1.26" fill="#e42e2e"/>
<circle cx="497.39" cy="804" r="1.26" fill="#e42e2e"/>
<circle cx="499.84" cy="794.8" r="1.26" fill="#e42e2e"/>
<circle cx="502.29" cy="789.9" r="1.26" fill="#e42e2e"/>
<circle cx="504.74" cy="794" r="1.26" fill="#e42e2e"/>
<circle cx="507.19" cy="775.8" r="1.26" fill="#e42e2e"/>
<circle cx="509.65" cy="774.1" r="1.26" fill="#e42e2e"/>
<circle cx="512.1" cy="768.3" r="1.26" fill="#e42e2e"/>
<circle cx="514.55" cy="790.7" r="1.26" fill="#e42e2e"/>
<polyline points="274.3,852.3 276.75,849.2 279.2,841 281.66,843.5 284.11,836.6 286.56,829.7 289.01,839.1 291.46,833.3 293.91,842.5 296.37,828.6 298.82,843.2 301.27,842.6 303.72,850.6 306.17,849.3 308.62,854 311.07,841 313.53,851.5 315.98,853 318.43,847 320.88,841.2 323.33,843 325.78,844 328.23,838.7 330.69,844.7 333.14,840 335.59,840.8 338.04,849.7 340.49,842.9 342.94,838.5 345.39,840.4 347.85,833.5 350.3,841.7 352.75,845.4 355.2,844.8 357.65,842.9 360.1,842.9 362.56,838.5 365.01,842.9 367.46,846 369.91,842.3 372.36,835.4 374.81,835.4 377.26,840.4 379.72,840.4 382.17,841.7 384.62,836.6 387.07,835.4 389.52,841.7 391.97,841.7 394.43,839.1 396.88,831.6 399.33,824.7 401.78,838.5 404.23,829.7 406.68,831.6 409.13,839.8 411.59,836 414.04,839.8 416.49,836.6 418.94,840.4 421.39,827.8 423.84,827.2 426.29,832.9 428.75,827.8 431.2,837.3 433.65,837.9 436.1,839.8 438.55,838 441,834 443.46,832.9 445.91,835.4 448.36,837.9 450.81,840.4 453.26,836 455.71,836 458.16,838 460.62,842.9 463.07,836 465.52,836 467.97,836.6 470.42,834.1 472.87,837.9 475.32,838 477.78,838.5 480.23,840.4 482.68,836 485.13,829.7 487.58,825.3 490.03,831 492.49,829.1 494.94,833.5 497.39,834.7 499.84,834.7 502.29,830.4 504.74,829.1 507.19,832.2 509.65,830.4 512.1,831 514.55,828.5" fill="none" stroke="#2b6fe0" stroke-width="1.0" stroke-linejoin="round"/>
<path d="M274.3 850.74L275.74 853.5L272.86 853.5Z" fill="#2060d8"/>
<path d="M276.75 847.64L278.19 850.4L275.31 850.4Z" fill="#2060d8"/>
<path d="M279.2 839.44L280.64 842.2L277.76 842.2Z" fill="#2060d8"/>
<path d="M281.66 841.94L283.1 844.7L280.22 844.7Z" fill="#2060d8"/>
<path d="M284.11 835.04L285.55 837.8L282.67 837.8Z" fill="#2060d8"/>
<path d="M286.56 828.14L288 830.9L285.12 830.9Z" fill="#2060d8"/>
<path d="M289.01 837.54L290.45 840.3L287.57 840.3Z" fill="#2060d8"/>
<path d="M291.46 831.74L292.9 834.5L290.02 834.5Z" fill="#2060d8"/>
<path d="M293.91 840.94L295.35 843.7L292.47 843.7Z" fill="#2060d8"/>
<path d="M296.37 827.04L297.81 829.8L294.93 829.8Z" fill="#2060d8"/>
<path d="M298.82 841.64L300.26 844.4L297.38 844.4Z" fill="#2060d8"/>
<path d="M301.27 841.04L302.71 843.8L299.83 843.8Z" fill="#2060d8"/>
<path d="M303.72 849.04L305.16 851.8L302.28 851.8Z" fill="#2060d8"/>
<path d="M306.17 847.74L307.61 850.5L304.73 850.5Z" fill="#2060d8"/>
<path d="M308.62 852.44L310.06 855.2L307.18 855.2Z" fill="#2060d8"/>
<path d="M311.07 839.44L312.51 842.2L309.63 842.2Z" fill="#2060d8"/>
<path d="M313.53 849.94L314.97 852.7L312.09 852.7Z" fill="#2060d8"/>
<path d="M315.98 851.44L317.42 854.2L314.54 854.2Z" fill="#2060d8"/>
<path d="M318.43 845.44L319.87 848.2L316.99 848.2Z" fill="#2060d8"/>
<path d="M320.88 839.64L322.32 842.4L319.44 842.4Z" fill="#2060d8"/>
<path d="M323.33 841.44L324.77 844.2L321.89 844.2Z" fill="#2060d8"/>
<path d="M325.78 842.44L327.22 845.2L324.34 845.2Z" fill="#2060d8"/>
<path d="M328.23 837.14L329.67 839.9L326.79 839.9Z" fill="#2060d8"/>
<path d="M330.69 843.14L332.13 845.9L329.25 845.9Z" fill="#2060d8"/>
<path d="M333.14 838.44L334.58 841.2L331.7 841.2Z" fill="#2060d8"/>
<path d="M335.59 839.24L337.03 842L334.15 842Z" fill="#2060d8"/>
<path d="M338.04 848.14L339.48 850.9L336.6 850.9Z" fill="#2060d8"/>
<path d="M340.49 841.34L341.93 844.1L339.05 844.1Z" fill="#2060d8"/>
<path d="M342.94 836.94L344.38 839.7L341.5 839.7Z" fill="#2060d8"/>
<path d="M345.39 838.84L346.83 841.6L343.95 841.6Z" fill="#2060d8"/>
<path d="M347.85 831.94L349.29 834.7L346.41 834.7Z" fill="#2060d8"/>
<path d="M350.3 840.14L351.74 842.9L348.86 842.9Z" fill="#2060d8"/>
<path d="M352.75 843.84L354.19 846.6L351.31 846.6Z" fill="#2060d8"/>
<path d="M355.2 843.24L356.64 846L353.76 846Z" fill="#2060d8"/>
<path d="M357.65 841.34L359.09 844.1L356.21 844.1Z" fill="#2060d8"/>
<path d="M360.1 841.34L361.54 844.1L358.66 844.1Z" fill="#2060d8"/>
<path d="M362.56 836.94L364 839.7L361.12 839.7Z" fill="#2060d8"/>
<path d="M365.01 841.34L366.45 844.1L363.57 844.1Z" fill="#2060d8"/>
<path d="M367.46 844.44L368.9 847.2L366.02 847.2Z" fill="#2060d8"/>
<path d="M369.91 840.74L371.35 843.5L368.47 843.5Z" fill="#2060d8"/>
<path d="M372.36 833.84L373.8 836.6L370.92 836.6Z" fill="#2060d8"/>
<path d="M374.81 833.84L376.25 836.6L373.37 836.6Z" fill="#2060d8"/>
<path d="M377.26 838.84L378.7 841.6L375.82 841.6Z" fill="#2060d8"/>
<path d="M379.72 838.84L381.16 841.6L378.28 841.6Z" fill="#2060d8"/>
<path d="M382.17 840.14L383.61 842.9L380.73 842.9Z" fill="#2060d8"/>
<path d="M384.62 835.04L386.06 837.8L383.18 837.8Z" fill="#2060d8"/>
<path d="M387.07 833.84L388.51 836.6L385.63 836.6Z" fill="#2060d8"/>
<path d="M389.52 840.14L390.96 842.9L388.08 842.9Z" fill="#2060d8"/>
<path d="M391.97 840.14L393.41 842.9L390.53 842.9Z" fill="#2060d8"/>
<path d="M394.43 837.54L395.87 840.3L392.99 840.3Z" fill="#2060d8"/>
<path d="M396.88 830.04L398.32 832.8L395.44 832.8Z" fill="#2060d8"/>
<path d="M399.33 823.14L400.77 825.9L397.89 825.9Z" fill="#2060d8"/>
<path d="M401.78 836.94L403.22 839.7L400.34 839.7Z" fill="#2060d8"/>
<path d="M404.23 828.14L405.67 830.9L402.79 830.9Z" fill="#2060d8"/>
<path d="M406.68 830.04L408.12 832.8L405.24 832.8Z" fill="#2060d8"/>
<path d="M409.13 838.24L410.57 841L407.69 841Z" fill="#2060d8"/>
<path d="M411.59 834.44L413.03 837.2L410.15 837.2Z" fill="#2060d8"/>
<path d="M414.04 838.24L415.48 841L412.6 841Z" fill="#2060d8"/>
<path d="M416.49 835.04L417.93 837.8L415.05 837.8Z" fill="#2060d8"/>
<path d="M418.94 838.84L420.38 841.6L417.5 841.6Z" fill="#2060d8"/>
<path d="M421.39 826.24L422.83 829L419.95 829Z" fill="#2060d8"/>
<path d="M423.84 825.64L425.28 828.4L422.4 828.4Z" fill="#2060d8"/>
<path d="M426.29 831.34L427.73 834.1L424.85 834.1Z" fill="#2060d8"/>
<path d="M428.75 826.24L430.19 829L427.31 829Z" fill="#2060d8"/>
<path d="M431.2 835.74L432.64 838.5L429.76 838.5Z" fill="#2060d8"/>
<path d="M433.65 836.34L435.09 839.1L432.21 839.1Z" fill="#2060d8"/>
<path d="M436.1 838.24L437.54 841L434.66 841Z" fill="#2060d8"/>
<path d="M438.55 836.44L439.99 839.2L437.11 839.2Z" fill="#2060d8"/>
<path d="M441 832.44L442.44 835.2L439.56 835.2Z" fill="#2060d8"/>
<path d="M443.46 831.34L444.9 834.1L442.02 834.1Z" fill="#2060d8"/>
<path d="M445.91 833.84L447.35 836.6L444.47 836.6Z" fill="#2060d8"/>
<path d="M448.36 836.34L449.8 839.1L446.92 839.1Z" fill="#2060d8"/>
<path d="M450.81 838.84L452.25 841.6L449.37 841.6Z" fill="#2060d8"/>
<path d="M453.26 834.44L454.7 837.2L451.82 837.2Z" fill="#2060d8"/>
<path d="M455.71 834.44L457.15 837.2L454.27 837.2Z" fill="#2060d8"/>
<path d="M458.16 836.44L459.6 839.2L456.72 839.2Z" fill="#2060d8"/>
<path d="M460.62 841.34L462.06 844.1L459.18 844.1Z" fill="#2060d8"/>
<path d="M463.07 834.44L464.51 837.2L461.63 837.2Z" fill="#2060d8"/>
<path d="M465.52 834.44L466.96 837.2L464.08 837.2Z" fill="#2060d8"/>
<path d="M467.97 835.04L469.41 837.8L466.53 837.8Z" fill="#2060d8"/>
<path d="M470.42 832.54L471.86 835.3L468.98 835.3Z" fill="#2060d8"/>
<path d="M472.87 836.34L474.31 839.1L471.43 839.1Z" fill="#2060d8"/>
<path d="M475.32 836.44L476.76 839.2L473.88 839.2Z" fill="#2060d8"/>
<path d="M477.78 836.94L479.22 839.7L476.34 839.7Z" fill="#2060d8"/>
<path d="M480.23 838.84L481.67 841.6L478.79 841.6Z" fill="#2060d8"/>
<path d="M482.68 834.44L484.12 837.2L481.24 837.2Z" fill="#2060d8"/>
<path d="M485.13 828.14L486.57 830.9L483.69 830.9Z" fill="#2060d8"/>
<path d="M487.58 823.74L489.02 826.5L486.14 826.5Z" fill="#2060d8"/>
<path d="M490.03 829.44L491.47 832.2L488.59 832.2Z" fill="#2060d8"/>
<path d="M492.49 827.54L493.93 830.3L491.05 830.3Z" fill="#2060d8"/>
<path d="M494.94 831.94L496.38 834.7L493.5 834.7Z" fill="#2060d8"/>
<path d="M497.39 833.14L498.83 835.9L495.95 835.9Z" fill="#2060d8"/>
<path d="M499.84 833.14L501.28 835.9L498.4 835.9Z" fill="#2060d8"/>
<path d="M502.29 828.84L503.73 831.6L500.85 831.6Z" fill="#2060d8"/>
<path d="M504.74 827.54L506.18 830.3L503.3 830.3Z" fill="#2060d8"/>
<path d="M507.19 830.64L508.63 833.4L505.75 833.4Z" fill="#2060d8"/>
<path d="M509.65 828.84L511.09 831.6L508.21 831.6Z" fill="#2060d8"/>
<path d="M512.1 829.44L513.54 832.2L510.66 832.2Z" fill="#2060d8"/>
<path d="M514.55 826.94L515.99 829.7L513.11 829.7Z" fill="#2060d8"/>
<path d="M296.37 803.96L297.81 801.2L294.93 801.2Z" fill="#279a58"/>
<polyline points="301.27,863 303.72,845.1 306.17,829.8 308.62,829 311.07,807.8 313.53,832.3 315.98,812 318.43,829.8 320.88,814.5 323.33,820 325.78,823.2 328.23,812" fill="none" stroke="#33a865" stroke-width="1.0" stroke-linejoin="round"/>
<path d="M301.27 864.56L302.71 861.8L299.83 861.8Z" fill="#279a58"/>
<path d="M303.72 846.66L305.16 843.9L302.28 843.9Z" fill="#279a58"/>
<path d="M306.17 831.36L307.61 828.6L304.73 828.6Z" fill="#279a58"/>
<path d="M308.62 830.56L310.06 827.8L307.18 827.8Z" fill="#279a58"/>
<path d="M311.07 809.36L312.51 806.6L309.63 806.6Z" fill="#279a58"/>
<path d="M313.53 833.86L314.97 831.1L312.09 831.1Z" fill="#279a58"/>
<path d="M315.98 813.56L317.42 810.8L314.54 810.8Z" fill="#279a58"/>
<path d="M318.43 831.36L319.87 828.6L316.99 828.6Z" fill="#279a58"/>
<path d="M320.88 816.06L322.32 813.3L319.44 813.3Z" fill="#279a58"/>
<path d="M323.33 821.56L324.77 818.8L321.89 818.8Z" fill="#279a58"/>
<path d="M325.78 824.76L327.22 822L324.34 822Z" fill="#279a58"/>
<path d="M328.23 813.56L329.67 810.8L326.79 810.8Z" fill="#279a58"/>
<polyline points="340.49,830 342.94,800.2" fill="none" stroke="#33a865" stroke-width="1.0" stroke-linejoin="round"/>
<path d="M340.49 831.56L341.93 828.8L339.05 828.8Z" fill="#279a58"/>
<path d="M342.94 801.76L344.38 799L341.5 799Z" fill="#279a58"/>
<polyline points="360.1,838 362.56,832.9" fill="none" stroke="#33a865" stroke-width="1.0" stroke-linejoin="round"/>
<path d="M360.1 839.56L361.54 836.8L358.66 836.8Z" fill="#279a58"/>
<path d="M362.56 834.46L364 831.7L361.12 831.7Z" fill="#279a58"/>
<polyline points="367.46,828 369.91,822 372.36,814 374.81,810.9 377.26,829.1 379.72,821.6 382.17,836.6" fill="none" stroke="#33a865" stroke-width="1.0" stroke-linejoin="round"/>
<path d="M367.46 829.56L368.9 826.8L366.02 826.8Z" fill="#279a58"/>
<path d="M369.91 823.56L371.35 820.8L368.47 820.8Z" fill="#279a58"/>
<path d="M372.36 815.56L373.8 812.8L370.92 812.8Z" fill="#279a58"/>
<path d="M374.81 812.46L376.25 809.7L373.37 809.7Z" fill="#279a58"/>
<path d="M377.26 830.66L378.7 827.9L375.82 827.9Z" fill="#279a58"/>
<path d="M379.72 823.16L381.16 820.4L378.28 820.4Z" fill="#279a58"/>
<path d="M382.17 838.16L383.61 835.4L380.73 835.4Z" fill="#279a58"/>
<path d="M387.07 830.66L388.51 827.9L385.63 827.9Z" fill="#279a58"/>
<path d="M396.88 809.36L398.32 806.6L395.44 806.6Z" fill="#279a58"/>
<polyline points="404.23,850.4 406.68,838.5" fill="none" stroke="#33a865" stroke-width="1.0" stroke-linejoin="round"/>
<path d="M404.23 851.96L405.67 849.2L402.79 849.2Z" fill="#279a58"/>
<path d="M406.68 840.06L408.12 837.3L405.24 837.3Z" fill="#279a58"/>
<polyline points="411.59,829.7 414.04,772" fill="none" stroke="#33a865" stroke-width="1.0" stroke-linejoin="round"/>
<path d="M411.59 831.26L413.03 828.5L410.15 828.5Z" fill="#279a58"/>
<path d="M414.04 773.56L415.48 770.8L412.6 770.8Z" fill="#279a58"/>
<path d="M421.39 793.66L422.83 790.9L419.95 790.9Z" fill="#279a58"/>
<polyline points="426.29,824.1 428.75,826 431.2,835.4 433.65,812.1 436.1,822.8" fill="none" stroke="#33a865" stroke-width="1.0" stroke-linejoin="round"/>
<path d="M426.29 825.66L427.73 822.9L424.85 822.9Z" fill="#279a58"/>
<path d="M428.75 827.56L430.19 824.8L427.31 824.8Z" fill="#279a58"/>
<path d="M431.2 836.96L432.64 834.2L429.76 834.2Z" fill="#279a58"/>
<path d="M433.65 813.66L435.09 810.9L432.21 810.9Z" fill="#279a58"/>
<path d="M436.1 824.36L437.54 821.6L434.66 821.6Z" fill="#279a58"/>
<path d="M448.36 835.06L449.8 832.3L446.92 832.3Z" fill="#279a58"/>
<path d="M455.71 792.36L457.15 789.6L454.27 789.6Z" fill="#279a58"/>
<path d="M460.62 813.06L462.06 810.3L459.18 810.3Z" fill="#279a58"/>
<polyline points="465.52,771.3 467.97,839.8" fill="none" stroke="#33a865" stroke-width="1.0" stroke-linejoin="round"/>
<path d="M465.52 772.86L466.96 770.1L464.08 770.1Z" fill="#279a58"/>
<path d="M467.97 841.36L469.41 838.6L466.53 838.6Z" fill="#279a58"/>
<polyline points="472.87,849.2 475.32,833.5 477.78,812.8" fill="none" stroke="#33a865" stroke-width="1.0" stroke-linejoin="round"/>
<path d="M472.87 850.76L474.31 848L471.43 848Z" fill="#279a58"/>
<path d="M475.32 835.06L476.76 832.3L473.88 832.3Z" fill="#279a58"/>
<path d="M477.78 814.36L479.22 811.6L476.34 811.6Z" fill="#279a58"/>
<polyline points="482.68,836.6 485.13,805.2 487.58,834.7 490.03,829 492.49,824.7 494.94,820 497.39,817.8 499.84,826 502.29,823.4 504.74,825.3 507.19,836 509.65,762.6 512.1,836.6 514.55,765.1" fill="none" stroke="#33a865" stroke-width="1.0" stroke-linejoin="round"/>
<path d="M482.68 838.16L484.12 835.4L481.24 835.4Z" fill="#279a58"/>
<path d="M485.13 806.76L486.57 804L483.69 804Z" fill="#279a58"/>
<path d="M487.58 836.26L489.02 833.5L486.14 833.5Z" fill="#279a58"/>
<path d="M490.03 830.56L491.47 827.8L488.59 827.8Z" fill="#279a58"/>
<path d="M492.49 826.26L493.93 823.5L491.05 823.5Z" fill="#279a58"/>
<path d="M494.94 821.56L496.38 818.8L493.5 818.8Z" fill="#279a58"/>
<path d="M497.39 819.36L498.83 816.6L495.95 816.6Z" fill="#279a58"/>
<path d="M499.84 827.56L501.28 824.8L498.4 824.8Z" fill="#279a58"/>
<path d="M502.29 824.96L503.73 822.2L500.85 822.2Z" fill="#279a58"/>
<path d="M504.74 826.86L506.18 824.1L503.3 824.1Z" fill="#279a58"/>
<path d="M507.19 837.56L508.63 834.8L505.75 834.8Z" fill="#279a58"/>
<path d="M509.65 764.16L511.09 761.4L508.21 761.4Z" fill="#279a58"/>
<path d="M512.1 838.16L513.54 835.4L510.66 835.4Z" fill="#279a58"/>
<path d="M514.55 766.66L515.99 763.9L513.11 763.9Z" fill="#279a58"/>
<polyline points="274.3,847.3 276.75,794.6 279.2,792.1 281.66,793.3 284.11,758.2 286.56,783.9 289.01,790.2 291.46,798.3 293.91,768.2 296.37,770.7 298.82,803 301.27,799 303.72,799 306.17,810.5 308.62,799.5 311.07,806.3 313.53,813.2 315.98,801 318.43,806.6 320.88,815 323.33,843.4 325.78,832 328.23,829 330.69,818.8 333.14,818.4 335.59,818.4 338.04,819.5 340.49,830.4 342.94,850.4 345.39,832.9 347.85,829.7 350.3,842.3 352.75,846.7 355.2,842.9 357.65,861.4 360.1,843.8 362.56,846.3 365.01,847.6 367.46,859.5 369.91,838.1 372.36,868.3 374.81,858.9 377.26,863.9 379.72,857.6 382.17,855.7 384.62,862.6 387.07,852 389.52,872.7 391.97,863.2 394.43,869.5 396.88,867 399.33,859.5 401.78,875.8 404.23,862.6 406.68,864.5 409.13,878.3 411.59,888.4 414.04,878.3 416.49,888.4 418.94,867 421.39,874.5 423.84,875.2 426.29,891.5 428.75,880.2 431.2,885.8 433.65,884.6 436.1,875.8 438.55,891.5 441,892.8 443.46,882.1 445.91,896.5 448.36,880.2 450.81,890.2 453.26,870.4 455.71,882.7 458.16,888.4 460.62,867 463.07,893.4 465.52,889 467.97,886.5 470.42,902.8 472.87,904.7 475.32,902.2 477.78,899 480.23,903.4 482.68,898.4 485.13,894.6 487.58,888.4 490.03,882.1 492.49,890.2 494.94,897.1 497.39,873.3 499.84,878.9 502.29,889 504.74,860.1 507.19,885.8 509.65,896.5 512.1,895.3 514.55,892.8" fill="none" stroke="#ae6ee8" stroke-width="1.0" stroke-linejoin="round"/>
<path d="M274.3 845.74L275.74 847.3L274.3 848.86L272.86 847.3Z" fill="#a862e4"/>
<path d="M276.75 793.04L278.19 794.6L276.75 796.16L275.31 794.6Z" fill="#a862e4"/>
<path d="M279.2 790.54L280.64 792.1L279.2 793.66L277.76 792.1Z" fill="#a862e4"/>
<path d="M281.66 791.74L283.1 793.3L281.66 794.86L280.22 793.3Z" fill="#a862e4"/>
<path d="M284.11 756.64L285.55 758.2L284.11 759.76L282.67 758.2Z" fill="#a862e4"/>
<path d="M286.56 782.34L288 783.9L286.56 785.46L285.12 783.9Z" fill="#a862e4"/>
<path d="M289.01 788.64L290.45 790.2L289.01 791.76L287.57 790.2Z" fill="#a862e4"/>
<path d="M291.46 796.74L292.9 798.3L291.46 799.86L290.02 798.3Z" fill="#a862e4"/>
<path d="M293.91 766.64L295.35 768.2L293.91 769.76L292.47 768.2Z" fill="#a862e4"/>
<path d="M296.37 769.14L297.81 770.7L296.37 772.26L294.93 770.7Z" fill="#a862e4"/>
<path d="M298.82 801.44L300.26 803L298.82 804.56L297.38 803Z" fill="#a862e4"/>
<path d="M301.27 797.44L302.71 799L301.27 800.56L299.83 799Z" fill="#a862e4"/>
<path d="M303.72 797.44L305.16 799L303.72 800.56L302.28 799Z" fill="#a862e4"/>
<path d="M306.17 808.94L307.61 810.5L306.17 812.06L304.73 810.5Z" fill="#a862e4"/>
<path d="M308.62 797.94L310.06 799.5L308.62 801.06L307.18 799.5Z" fill="#a862e4"/>
<path d="M311.07 804.74L312.51 806.3L311.07 807.86L309.63 806.3Z" fill="#a862e4"/>
<path d="M313.53 811.64L314.97 813.2L313.53 814.76L312.09 813.2Z" fill="#a862e4"/>
<path d="M315.98 799.44L317.42 801L315.98 802.56L314.54 801Z" fill="#a862e4"/>
<path d="M318.43 805.04L319.87 806.6L318.43 808.16L316.99 806.6Z" fill="#a862e4"/>
<path d="M320.88 813.44L322.32 815L320.88 816.56L319.44 815Z" fill="#a862e4"/>
<path d="M323.33 841.84L324.77 843.4L323.33 844.96L321.89 843.4Z" fill="#a862e4"/>
<path d="M325.78 830.44L327.22 832L325.78 833.56L324.34 832Z" fill="#a862e4"/>
<path d="M328.23 827.44L329.67 829L328.23 830.56L326.79 829Z" fill="#a862e4"/>
<path d="M330.69 817.24L332.13 818.8L330.69 820.36L329.25 818.8Z" fill="#a862e4"/>
<path d="M333.14 816.84L334.58 818.4L333.14 819.96L331.7 818.4Z" fill="#a862e4"/>
<path d="M335.59 816.84L337.03 818.4L335.59 819.96L334.15 818.4Z" fill="#a862e4"/>
<path d="M338.04 817.94L339.48 819.5L338.04 821.06L336.6 819.5Z" fill="#a862e4"/>
<path d="M340.49 828.84L341.93 830.4L340.49 831.96L339.05 830.4Z" fill="#a862e4"/>
<path d="M342.94 848.84L344.38 850.4L342.94 851.96L341.5 850.4Z" fill="#a862e4"/>
<path d="M345.39 831.34L346.83 832.9L345.39 834.46L343.95 832.9Z" fill="#a862e4"/>
<path d="M347.85 828.14L349.29 829.7L347.85 831.26L346.41 829.7Z" fill="#a862e4"/>
<path d="M350.3 840.74L351.74 842.3L350.3 843.86L348.86 842.3Z" fill="#a862e4"/>
<path d="M352.75 845.14L354.19 846.7L352.75 848.26L351.31 846.7Z" fill="#a862e4"/>
<path d="M355.2 841.34L356.64 842.9L355.2 844.46L353.76 842.9Z" fill="#a862e4"/>
<path d="M357.65 859.84L359.09 861.4L357.65 862.96L356.21 861.4Z" fill="#a862e4"/>
<path d="M360.1 842.24L361.54 843.8L360.1 845.36L358.66 843.8Z" fill="#a862e4"/>
<path d="M362.56 844.74L364 846.3L362.56 847.86L361.12 846.3Z" fill="#a862e4"/>
<path d="M365.01 846.04L366.45 847.6L365.01 849.16L363.57 847.6Z" fill="#a862e4"/>
<path d="M367.46 857.94L368.9 859.5L367.46 861.06L366.02 859.5Z" fill="#a862e4"/>
<path d="M369.91 836.54L371.35 838.1L369.91 839.66L368.47 838.1Z" fill="#a862e4"/>
<path d="M372.36 866.74L373.8 868.3L372.36 869.86L370.92 868.3Z" fill="#a862e4"/>
<path d="M374.81 857.34L376.25 858.9L374.81 860.46L373.37 858.9Z" fill="#a862e4"/>
<path d="M377.26 862.34L378.7 863.9L377.26 865.46L375.82 863.9Z" fill="#a862e4"/>
<path d="M379.72 856.04L381.16 857.6L379.72 859.16L378.28 857.6Z" fill="#a862e4"/>
<path d="M382.17 854.14L383.61 855.7L382.17 857.26L380.73 855.7Z" fill="#a862e4"/>
<path d="M384.62 861.04L386.06 862.6L384.62 864.16L383.18 862.6Z" fill="#a862e4"/>
<path d="M387.07 850.44L388.51 852L387.07 853.56L385.63 852Z" fill="#a862e4"/>
<path d="M389.52 871.14L390.96 872.7L389.52 874.26L388.08 872.7Z" fill="#a862e4"/>
<path d="M391.97 861.64L393.41 863.2L391.97 864.76L390.53 863.2Z" fill="#a862e4"/>
<path d="M394.43 867.94L395.87 869.5L394.43 871.06L392.99 869.5Z" fill="#a862e4"/>
<path d="M396.88 865.44L398.32 867L396.88 868.56L395.44 867Z" fill="#a862e4"/>
<path d="M399.33 857.94L400.77 859.5L399.33 861.06L397.89 859.5Z" fill="#a862e4"/>
<path d="M401.78 874.24L403.22 875.8L401.78 877.36L400.34 875.8Z" fill="#a862e4"/>
<path d="M404.23 861.04L405.67 862.6L404.23 864.16L402.79 862.6Z" fill="#a862e4"/>
<path d="M406.68 862.94L408.12 864.5L406.68 866.06L405.24 864.5Z" fill="#a862e4"/>
<path d="M409.13 876.74L410.57 878.3L409.13 879.86L407.69 878.3Z" fill="#a862e4"/>
<path d="M411.59 886.84L413.03 888.4L411.59 889.96L410.15 888.4Z" fill="#a862e4"/>
<path d="M414.04 876.74L415.48 878.3L414.04 879.86L412.6 878.3Z" fill="#a862e4"/>
<path d="M416.49 886.84L417.93 888.4L416.49 889.96L415.05 888.4Z" fill="#a862e4"/>
<path d="M418.94 865.44L420.38 867L418.94 868.56L417.5 867Z" fill="#a862e4"/>
<path d="M421.39 872.94L422.83 874.5L421.39 876.06L419.95 874.5Z" fill="#a862e4"/>
<path d="M423.84 873.64L425.28 875.2L423.84 876.76L422.4 875.2Z" fill="#a862e4"/>
<path d="M426.29 889.94L427.73 891.5L426.29 893.06L424.85 891.5Z" fill="#a862e4"/>
<path d="M428.75 878.64L430.19 880.2L428.75 881.76L427.31 880.2Z" fill="#a862e4"/>
<path d="M431.2 884.24L432.64 885.8L431.2 887.36L429.76 885.8Z" fill="#a862e4"/>
<path d="M433.65 883.04L435.09 884.6L433.65 886.16L432.21 884.6Z" fill="#a862e4"/>
<path d="M436.1 874.24L437.54 875.8L436.1 877.36L434.66 875.8Z" fill="#a862e4"/>
<path d="M438.55 889.94L439.99 891.5L438.55 893.06L437.11 891.5Z" fill="#a862e4"/>
<path d="M441 891.24L442.44 892.8L441 894.36L439.56 892.8Z" fill="#a862e4"/>
<path d="M443.46 880.54L444.9 882.1L443.46 883.66L442.02 882.1Z" fill="#a862e4"/>
<path d="M445.91 894.94L447.35 896.5L445.91 898.06L444.47 896.5Z" fill="#a862e4"/>
<path d="M448.36 878.64L449.8 880.2L448.36 881.76L446.92 880.2Z" fill="#a862e4"/>
<path d="M450.81 888.64L452.25 890.2L450.81 891.76L449.37 890.2Z" fill="#a862e4"/>
<path d="M453.26 868.84L454.7 870.4L453.26 871.96L451.82 870.4Z" fill="#a862e4"/>
<path d="M455.71 881.14L457.15 882.7L455.71 884.26L454.27 882.7Z" fill="#a862e4"/>
<path d="M458.16 886.84L459.6 888.4L458.16 889.96L456.72 888.4Z" fill="#a862e4"/>
<path d="M460.62 865.44L462.06 867L460.62 868.56L459.18 867Z" fill="#a862e4"/>
<path d="M463.07 891.84L464.51 893.4L463.07 894.96L461.63 893.4Z" fill="#a862e4"/>
<path d="M465.52 887.44L466.96 889L465.52 890.56L464.08 889Z" fill="#a862e4"/>
<path d="M467.97 884.94L469.41 886.5L467.97 888.06L466.53 886.5Z" fill="#a862e4"/>
<path d="M470.42 901.24L471.86 902.8L470.42 904.36L468.98 902.8Z" fill="#a862e4"/>
<path d="M472.87 903.14L474.31 904.7L472.87 906.26L471.43 904.7Z" fill="#a862e4"/>
<path d="M475.32 900.64L476.76 902.2L475.32 903.76L473.88 902.2Z" fill="#a862e4"/>
<path d="M477.78 897.44L479.22 899L477.78 900.56L476.34 899Z" fill="#a862e4"/>
<path d="M480.23 901.84L481.67 903.4L480.23 904.96L478.79 903.4Z" fill="#a862e4"/>
<path d="M482.68 896.84L484.12 898.4L482.68 899.96L481.24 898.4Z" fill="#a862e4"/>
<path d="M485.13 893.04L486.57 894.6L485.13 896.16L483.69 894.6Z" fill="#a862e4"/>
<path d="M487.58 886.84L489.02 888.4L487.58 889.96L486.14 888.4Z" fill="#a862e4"/>
<path d="M490.03 880.54L491.47 882.1L490.03 883.66L488.59 882.1Z" fill="#a862e4"/>
<path d="M492.49 888.64L493.93 890.2L492.49 891.76L491.05 890.2Z" fill="#a862e4"/>
<path d="M494.94 895.54L496.38 897.1L494.94 898.66L493.5 897.1Z" fill="#a862e4"/>
<path d="M497.39 871.74L498.83 873.3L497.39 874.86L495.95 873.3Z" fill="#a862e4"/>
<path d="M499.84 877.34L501.28 878.9L499.84 880.46L498.4 878.9Z" fill="#a862e4"/>
<path d="M502.29 887.44L503.73 889L502.29 890.56L500.85 889Z" fill="#a862e4"/>
<path d="M504.74 858.54L506.18 860.1L504.74 861.66L503.3 860.1Z" fill="#a862e4"/>
<path d="M507.19 884.24L508.63 885.8L507.19 887.36L505.75 885.8Z" fill="#a862e4"/>
<path d="M509.65 894.94L511.09 896.5L509.65 898.06L508.21 896.5Z" fill="#a862e4"/>
<path d="M512.1 893.74L513.54 895.3L512.1 896.86L510.66 895.3Z" fill="#a862e4"/>
<path d="M514.55 891.24L515.99 892.8L514.55 894.36L513.11 892.8Z" fill="#a862e4"/>
</g>
<path d="M247.34 665.9V911.32H541.51" fill="none" stroke="#1a1a1a" stroke-width="1.1"/>
<text x="240.04" y="914.6" font-size="9.1" text-anchor="end">0.4</text>
<text x="240.04" y="879.54" font-size="9.1" text-anchor="end">0.6</text>
<text x="240.04" y="844.48" font-size="9.1" text-anchor="end">0.8</text>
<text x="240.04" y="809.42" font-size="9.1" text-anchor="end">1.0</text>
<text x="240.04" y="774.36" font-size="9.1" text-anchor="end">1.2</text>
<text x="240.04" y="739.3" font-size="9.1" text-anchor="end">1.4</text>
<text x="240.04" y="704.24" font-size="9.1" text-anchor="end">1.6</text>
<text x="240.04" y="669.18" font-size="9.1" text-anchor="end">1.8</text>
<text x="271.85" y="928.5" font-size="9.1" text-anchor="middle">0</text>
<text x="320.88" y="928.5" font-size="9.1" text-anchor="middle">20</text>
<text x="369.91" y="928.5" font-size="9.1" text-anchor="middle">40</text>
<text x="418.94" y="928.5" font-size="9.1" text-anchor="middle">60</text>
<text x="467.97" y="928.5" font-size="9.1" text-anchor="middle">80</text>
<text x="517" y="928.5" font-size="9.1" text-anchor="middle">100</text>
<path d="M243.34 911.32H247.34M245.04 893.79H247.34M243.34 876.26H247.34M245.04 858.73H247.34M243.34 841.2H247.34M245.04 823.67H247.34M243.34 806.14H247.34M245.04 788.61H247.34M243.34 771.08H247.34M245.04 753.55H247.34M243.34 736.02H247.34M245.04 718.49H247.34M243.34 700.96H247.34M245.04 683.43H247.34M243.34 665.9H247.34M247.34 911.32V913.62M271.85 911.32V915.32M296.37 911.32V913.62M320.88 911.32V915.32M345.39 911.32V913.62M369.91 911.32V915.32M394.43 911.32V913.62M418.94 911.32V915.32M443.46 911.32V913.62M467.97 911.32V915.32M492.49 911.32V913.62M517 911.32V915.32M541.51 911.32V913.62" stroke="#1a1a1a" stroke-width="1"/>
<text transform="translate(223.4,788.7) rotate(-90)" font-size="11.75" text-anchor="middle">Training loss</text>
<text x="394.43" y="945.2" font-size="11.2" text-anchor="middle"># Round</text>
<text x="395.5" y="964" font-size="14.1" text-anchor="middle">Scenario E</text>
<rect x="272.9" y="667.5" width="76.1" height="72.4" fill="#fff" stroke="#b4b4b4" stroke-width="0.8"/>
<g class="bl">
<line x1="274.3" y1="675.2" x2="299.3" y2="675.2" stroke="#5a5a5a" stroke-width="1.6"/>
<rect x="285.7" y="674.1" width="2.2" height="2.2" fill="#383838"/>
<line x1="274.3" y1="689.7" x2="299.3" y2="689.7" stroke="#e05a5a" stroke-width="1.6"/>
<circle cx="286.8" cy="689.7" r="1.16" fill="#e42e2e"/>
<line x1="274.3" y1="704.4" x2="299.3" y2="704.4" stroke="#7aa6e6" stroke-width="1.6"/>
<path d="M286.8 702.97L288.12 705.5L285.48 705.5Z" fill="#2060d8"/>
<line x1="274.3" y1="718.4" x2="299.3" y2="718.4" stroke="#3fa872" stroke-width="1.6"/>
<path d="M286.8 719.83L288.12 717.3L285.48 717.3Z" fill="#279a58"/>
<line x1="274.3" y1="732.2" x2="299.3" y2="732.2" stroke="#b889ee" stroke-width="1.6"/>
<path d="M286.8 730.77L288.12 732.2L286.8 733.63L285.48 732.2Z" fill="#a862e4"/>
</g>
<text x="303.5" y="679.7" font-size="11.1">FedAvg</text>
<text x="303.5" y="694.2" font-size="11.1">FedProx</text>
<text x="303.5" y="708.9" font-size="11.1">Scaffold</text>
<text x="303.5" y="722.9" font-size="11.1">FedNova</text>
<text x="303.5" y="736.7" font-size="11.1">FedOcw</text>
</g>
</svg>
</body></html>
